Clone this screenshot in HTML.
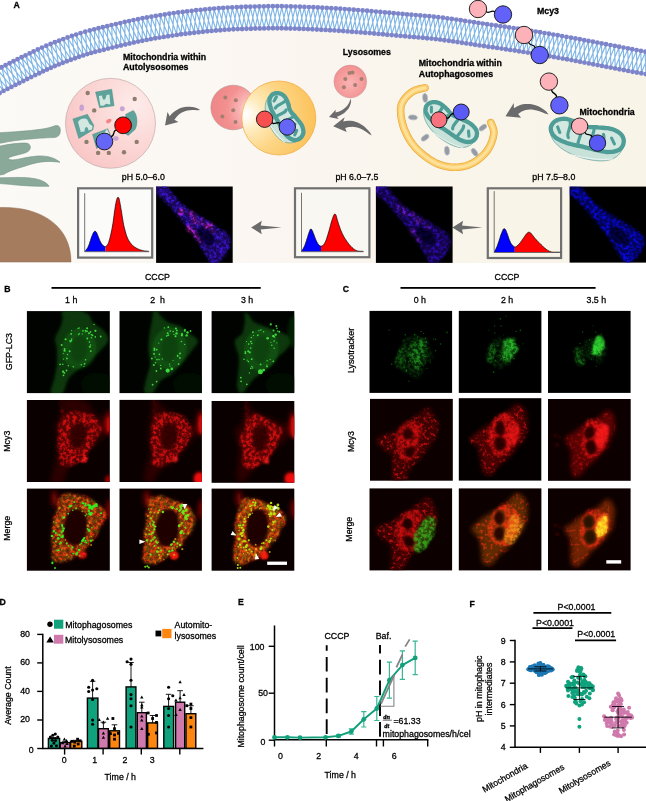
<!DOCTYPE html>
<html lang="en"><head><meta charset="utf-8"><title>Figure</title>
<style>
html,body{margin:0;padding:0;background:#fff;}
body{width:646px;height:801px;overflow:hidden;font-family:"Liberation Sans", Arial, sans-serif;}
svg{display:block;font-family:"Liberation Sans", Arial, sans-serif;}
</style></head><body>
<svg width="646" height="801" viewBox="0 0 646 801">
<defs>
<linearGradient id="cellbg" x1="0" x2="1" y1="0" y2="0"><stop offset="0" stop-color="#fcfaf6"/><stop offset="0.3" stop-color="#fbf8f3"/><stop offset="0.5" stop-color="#fbf5f0"/><stop offset="0.7" stop-color="#f9f5ea"/><stop offset="1" stop-color="#f8f4e8"/></linearGradient>
<radialGradient id="gAL" cx="0.78" cy="0.3" r="0.95"><stop offset="0" stop-color="#fdecea"/><stop offset="0.45" stop-color="#fbd8d6"/><stop offset="1" stop-color="#f8c2c2"/></radialGradient>
<radialGradient id="gLy" cx="0.95" cy="0.55" r="1"><stop offset="0" stop-color="#ffffff"/><stop offset="0.12" stop-color="#fff4f4"/><stop offset="0.3" stop-color="#f9b5b5"/><stop offset="0.6" stop-color="#f39090"/><stop offset="1" stop-color="#ee8585"/></radialGradient>
<radialGradient id="gAP" cx="0.06" cy="0.45" r="1.05"><stop offset="0" stop-color="#ffffff"/><stop offset="0.08" stop-color="#fff8ea"/><stop offset="0.22" stop-color="#feeabb"/><stop offset="0.5" stop-color="#fdd584"/><stop offset="1" stop-color="#fbbd4e"/></radialGradient>
<radialGradient id="gLs" cx="0.5" cy="0.55" r="0.6"><stop offset="0" stop-color="#fbb4b4"/><stop offset="1" stop-color="#f28c8c"/></radialGradient>
<radialGradient id="gSp"><stop offset="0" stop-color="#8a8f96"/><stop offset="0.6" stop-color="#9aa0a8"/><stop offset="1" stop-color="#bcc6d0"/></radialGradient>
<filter id="spk" x="-5%" y="-5%" width="110%" height="110%" color-interpolation-filters="sRGB">
<feGaussianBlur in="SourceGraphic" stdDeviation="1.0" result="b"/>
<feTurbulence type="fractalNoise" baseFrequency="0.3" numOctaves="3" seed="7" result="n"/>
<feColorMatrix in="n" type="matrix" values="0 0 0 0 0  0 0 0 0 0  0 0 0 0 0  3.6 0 0 0 -1.5" result="na"/>
<feGaussianBlur in="na" stdDeviation="0.4" result="nb"/>
<feComposite in="b" in2="nb" operator="in" result="s"/>
<feGaussianBlur in="SourceGraphic" stdDeviation="1.4" result="b2"/>
<feComponentTransfer in="b2" result="dim"><feFuncA type="linear" slope="0.4"/></feComponentTransfer>
<feMerge><feMergeNode in="dim"/><feMergeNode in="s"/></feMerge>
</filter>
<clipPath id="cA1"><rect x="156.1" y="186.5" width="76.6" height="76.4"/></clipPath>
<clipPath id="cA2"><rect x="375.9" y="186.5" width="76.7" height="76.4"/></clipPath>
<clipPath id="cA3"><rect x="569.6" y="186.6" width="76.6" height="76.0"/></clipPath>
<filter id="gr1" x="-40%" y="-40%" width="180%" height="180%" color-interpolation-filters="sRGB">
<feTurbulence type="fractalNoise" baseFrequency="0.09" numOctaves="2" seed="53" result="dn"/>
<feDisplacementMap in="SourceGraphic" in2="dn" scale="6" xChannelSelector="R" yChannelSelector="G" result="w"/>
<feGaussianBlur in="w" stdDeviation="0.9" result="b"/>
<feTurbulence type="fractalNoise" baseFrequency="0.27" numOctaves="3" seed="3" result="n"/>
<feColorMatrix in="n" type="matrix" values="0 0 0 0 0  0 0 0 0 0  0 0 0 0 0  3.4 0 0 0 -1.2" result="na"/>
<feGaussianBlur in="na" stdDeviation="0.45" result="nb"/>
<feComposite in="b" in2="nb" operator="in" result="s"/>
<feGaussianBlur in="w" stdDeviation="1.8" result="b2"/>
<feComponentTransfer in="b2" result="dim"><feFuncA type="linear" slope="0.42"/></feComponentTransfer>
<feMerge><feMergeNode in="dim"/><feMergeNode in="s"/></feMerge>
</filter>
<filter id="gr2" x="-40%" y="-40%" width="180%" height="180%" color-interpolation-filters="sRGB">
<feTurbulence type="fractalNoise" baseFrequency="0.09" numOctaves="2" seed="61" result="dn"/>
<feDisplacementMap in="SourceGraphic" in2="dn" scale="6" xChannelSelector="R" yChannelSelector="G" result="w"/>
<feGaussianBlur in="w" stdDeviation="0.9" result="b"/>
<feTurbulence type="fractalNoise" baseFrequency="0.29" numOctaves="3" seed="11" result="n"/>
<feColorMatrix in="n" type="matrix" values="0 0 0 0 0  0 0 0 0 0  0 0 0 0 0  3.4 0 0 0 -1.2" result="na"/>
<feGaussianBlur in="na" stdDeviation="0.45" result="nb"/>
<feComposite in="b" in2="nb" operator="in" result="s"/>
<feGaussianBlur in="w" stdDeviation="1.8" result="b2"/>
<feComponentTransfer in="b2" result="dim"><feFuncA type="linear" slope="0.42"/></feComponentTransfer>
<feMerge><feMergeNode in="dim"/><feMergeNode in="s"/></feMerge>
</filter>
<filter id="gr3" x="-40%" y="-40%" width="180%" height="180%" color-interpolation-filters="sRGB">
<feTurbulence type="fractalNoise" baseFrequency="0.09" numOctaves="2" seed="73" result="dn"/>
<feDisplacementMap in="SourceGraphic" in2="dn" scale="6" xChannelSelector="R" yChannelSelector="G" result="w"/>
<feGaussianBlur in="w" stdDeviation="0.9" result="b"/>
<feTurbulence type="fractalNoise" baseFrequency="0.28" numOctaves="3" seed="23" result="n"/>
<feColorMatrix in="n" type="matrix" values="0 0 0 0 0  0 0 0 0 0  0 0 0 0 0  3.4 0 0 0 -1.2" result="na"/>
<feGaussianBlur in="na" stdDeviation="0.45" result="nb"/>
<feComposite in="b" in2="nb" operator="in" result="s"/>
<feGaussianBlur in="w" stdDeviation="1.8" result="b2"/>
<feComponentTransfer in="b2" result="dim"><feFuncA type="linear" slope="0.42"/></feComponentTransfer>
<feMerge><feMergeNode in="dim"/><feMergeNode in="s"/></feMerge>
</filter>
<filter id="bl3" x="-20%" y="-20%" width="140%" height="140%"><feGaussianBlur stdDeviation="2.6"/></filter>
<filter id="bl2" x="-20%" y="-20%" width="140%" height="140%"><feGaussianBlur stdDeviation="1.6"/></filter>
<filter id="bl1" x="-20%" y="-20%" width="140%" height="140%"><feGaussianBlur stdDeviation="0.8"/></filter>
<filter id="bl07" x="-20%" y="-20%" width="140%" height="140%"><feGaussianBlur stdDeviation="0.7"/></filter>
<filter id="bl05" x="-20%" y="-20%" width="140%" height="140%"><feGaussianBlur stdDeviation="0.55"/></filter>
<filter id="rg1" x="-40%" y="-40%" width="180%" height="180%" color-interpolation-filters="sRGB">
<feTurbulence type="fractalNoise" baseFrequency="0.09" numOctaves="2" seed="103" result="dn"/>
<feDisplacementMap in="SourceGraphic" in2="dn" scale="6" xChannelSelector="R" yChannelSelector="G" result="w"/>
<feGaussianBlur in="w" stdDeviation="0.8" result="b"/>
<feTurbulence type="fractalNoise" baseFrequency="0.3" numOctaves="3" seed="53" result="n"/>
<feColorMatrix in="n" type="matrix" values="0 0 0 0 0  0 0 0 0 0  0 0 0 0 0  3.8 0 0 0 -1.55" result="na"/>
<feGaussianBlur in="na" stdDeviation="0.45" result="nb"/>
<feComposite in="b" in2="nb" operator="in" result="s"/>
<feGaussianBlur in="w" stdDeviation="1.8" result="b2"/>
<feComponentTransfer in="b2" result="dim"><feFuncA type="linear" slope="0.3"/></feComponentTransfer>
<feMerge><feMergeNode in="dim"/><feMergeNode in="s"/></feMerge>
</filter>
<filter id="rg2" x="-40%" y="-40%" width="180%" height="180%" color-interpolation-filters="sRGB">
<feTurbulence type="fractalNoise" baseFrequency="0.09" numOctaves="2" seed="109" result="dn"/>
<feDisplacementMap in="SourceGraphic" in2="dn" scale="6" xChannelSelector="R" yChannelSelector="G" result="w"/>
<feGaussianBlur in="w" stdDeviation="0.8" result="b"/>
<feTurbulence type="fractalNoise" baseFrequency="0.3" numOctaves="3" seed="59" result="n"/>
<feColorMatrix in="n" type="matrix" values="0 0 0 0 0  0 0 0 0 0  0 0 0 0 0  3.8 0 0 0 -1.55" result="na"/>
<feGaussianBlur in="na" stdDeviation="0.45" result="nb"/>
<feComposite in="b" in2="nb" operator="in" result="s"/>
<feGaussianBlur in="w" stdDeviation="1.8" result="b2"/>
<feComponentTransfer in="b2" result="dim"><feFuncA type="linear" slope="0.3"/></feComponentTransfer>
<feMerge><feMergeNode in="dim"/><feMergeNode in="s"/></feMerge>
</filter>
<filter id="rg3" x="-40%" y="-40%" width="180%" height="180%" color-interpolation-filters="sRGB">
<feTurbulence type="fractalNoise" baseFrequency="0.09" numOctaves="2" seed="117" result="dn"/>
<feDisplacementMap in="SourceGraphic" in2="dn" scale="6" xChannelSelector="R" yChannelSelector="G" result="w"/>
<feGaussianBlur in="w" stdDeviation="0.8" result="b"/>
<feTurbulence type="fractalNoise" baseFrequency="0.3" numOctaves="3" seed="67" result="n"/>
<feColorMatrix in="n" type="matrix" values="0 0 0 0 0  0 0 0 0 0  0 0 0 0 0  3.8 0 0 0 -1.5" result="na"/>
<feGaussianBlur in="na" stdDeviation="0.45" result="nb"/>
<feComposite in="b" in2="nb" operator="in" result="s"/>
<feGaussianBlur in="w" stdDeviation="1.8" result="b2"/>
<feComponentTransfer in="b2" result="dim"><feFuncA type="linear" slope="0.32"/></feComponentTransfer>
<feMerge><feMergeNode in="dim"/><feMergeNode in="s"/></feMerge>
</filter>
<clipPath id="mc1"><rect x="26.9" y="311.1" width="82.9" height="82.0"/></clipPath>
<clipPath id="mc2"><rect x="119.5" y="311.1" width="82.4" height="82.0"/></clipPath>
<clipPath id="mc3"><rect x="211.6" y="311.1" width="82.7" height="82.0"/></clipPath>
<clipPath id="mc4"><rect x="26.9" y="400.0" width="82.9" height="82.0"/></clipPath>
<clipPath id="mc5"><rect x="119.5" y="399.9" width="82.4" height="82.10000000000002"/></clipPath>
<clipPath id="mc6"><rect x="211.6" y="401.0" width="82.7" height="81.80000000000001"/></clipPath>
<clipPath id="mc7"><rect x="26.9" y="488.6" width="82.9" height="82.1"/></clipPath>
<clipPath id="mc8"><rect x="119.5" y="488.6" width="82.4" height="82.1"/></clipPath>
<clipPath id="mc9"><rect x="211.6" y="488.6" width="82.7" height="82.1"/></clipPath>
<filter id="grd1" x="-40%" y="-40%" width="180%" height="180%" color-interpolation-filters="sRGB">
<feTurbulence type="fractalNoise" baseFrequency="0.07" numOctaves="2" seed="55" result="dn"/>
<feDisplacementMap in="SourceGraphic" in2="dn" scale="14" xChannelSelector="R" yChannelSelector="G" result="w"/>
<feGaussianBlur in="w" stdDeviation="0.8" result="b"/>
<feTurbulence type="fractalNoise" baseFrequency="0.3" numOctaves="3" seed="5" result="n"/>
<feColorMatrix in="n" type="matrix" values="0 0 0 0 0  0 0 0 0 0  0 0 0 0 0  3.6 0 0 0 -1.35" result="na"/>
<feGaussianBlur in="na" stdDeviation="0.45" result="nb"/>
<feComposite in="b" in2="nb" operator="in" result="s"/>
<feGaussianBlur in="w" stdDeviation="1.6" result="b2"/>
<feComponentTransfer in="b2" result="dim"><feFuncA type="linear" slope="0.3"/></feComponentTransfer>
<feMerge><feMergeNode in="dim"/><feMergeNode in="s"/></feMerge>
</filter>
<filter id="grd2" x="-40%" y="-40%" width="180%" height="180%" color-interpolation-filters="sRGB">
<feTurbulence type="fractalNoise" baseFrequency="0.07" numOctaves="2" seed="65" result="dn"/>
<feDisplacementMap in="SourceGraphic" in2="dn" scale="14" xChannelSelector="R" yChannelSelector="G" result="w"/>
<feGaussianBlur in="w" stdDeviation="0.8" result="b"/>
<feTurbulence type="fractalNoise" baseFrequency="0.3" numOctaves="3" seed="15" result="n"/>
<feColorMatrix in="n" type="matrix" values="0 0 0 0 0  0 0 0 0 0  0 0 0 0 0  3.6 0 0 0 -1.3" result="na"/>
<feGaussianBlur in="na" stdDeviation="0.45" result="nb"/>
<feComposite in="b" in2="nb" operator="in" result="s"/>
<feGaussianBlur in="w" stdDeviation="1.6" result="b2"/>
<feComponentTransfer in="b2" result="dim"><feFuncA type="linear" slope="0.35"/></feComponentTransfer>
<feMerge><feMergeNode in="dim"/><feMergeNode in="s"/></feMerge>
</filter>
<filter id="grd3" x="-40%" y="-40%" width="180%" height="180%" color-interpolation-filters="sRGB">
<feTurbulence type="fractalNoise" baseFrequency="0.07" numOctaves="2" seed="75" result="dn"/>
<feDisplacementMap in="SourceGraphic" in2="dn" scale="12" xChannelSelector="R" yChannelSelector="G" result="w"/>
<feGaussianBlur in="w" stdDeviation="0.8" result="b"/>
<feTurbulence type="fractalNoise" baseFrequency="0.3" numOctaves="3" seed="25" result="n"/>
<feColorMatrix in="n" type="matrix" values="0 0 0 0 0  0 0 0 0 0  0 0 0 0 0  3.6 0 0 0 -1.25" result="na"/>
<feGaussianBlur in="na" stdDeviation="0.45" result="nb"/>
<feComposite in="b" in2="nb" operator="in" result="s"/>
<feGaussianBlur in="w" stdDeviation="1.6" result="b2"/>
<feComponentTransfer in="b2" result="dim"><feFuncA type="linear" slope="0.4"/></feComponentTransfer>
<feMerge><feMergeNode in="dim"/><feMergeNode in="s"/></feMerge>
</filter>
<clipPath id="mc10"><rect x="369.5" y="310.9" width="82.6" height="82.0"/></clipPath>
<clipPath id="mc11"><rect x="458.8" y="310.9" width="82.6" height="82.0"/></clipPath>
<clipPath id="mc12"><rect x="548.0" y="310.9" width="82.6" height="82.0"/></clipPath>
<filter id="sp1" x="-40%" y="-40%" width="180%" height="180%" color-interpolation-filters="sRGB">
<feTurbulence type="fractalNoise" baseFrequency="0.09" numOctaves="2" seed="81" result="dn"/>
<feDisplacementMap in="SourceGraphic" in2="dn" scale="8" xChannelSelector="R" yChannelSelector="G" result="w"/>
<feGaussianBlur in="w" stdDeviation="0.8" result="b"/>
<feTurbulence type="fractalNoise" baseFrequency="0.3" numOctaves="3" seed="31" result="n"/>
<feColorMatrix in="n" type="matrix" values="0 0 0 0 0  0 0 0 0 0  0 0 0 0 0  4.2 0 0 0 -2.15" result="na"/>
<feGaussianBlur in="na" stdDeviation="0.45" result="nb"/>
<feComposite in="b" in2="nb" operator="in" result="s"/>
<feGaussianBlur in="w" stdDeviation="2.2" result="b2"/>
<feComponentTransfer in="b2" result="dim"><feFuncA type="linear" slope="0.16"/></feComponentTransfer>
<feMerge><feMergeNode in="dim"/><feMergeNode in="s"/></feMerge>
</filter>
<filter id="sp2" x="-40%" y="-40%" width="180%" height="180%" color-interpolation-filters="sRGB">
<feTurbulence type="fractalNoise" baseFrequency="0.09" numOctaves="2" seed="87" result="dn"/>
<feDisplacementMap in="SourceGraphic" in2="dn" scale="8" xChannelSelector="R" yChannelSelector="G" result="w"/>
<feGaussianBlur in="w" stdDeviation="0.8" result="b"/>
<feTurbulence type="fractalNoise" baseFrequency="0.3" numOctaves="3" seed="37" result="n"/>
<feColorMatrix in="n" type="matrix" values="0 0 0 0 0  0 0 0 0 0  0 0 0 0 0  4.2 0 0 0 -2.2" result="na"/>
<feGaussianBlur in="na" stdDeviation="0.45" result="nb"/>
<feComposite in="b" in2="nb" operator="in" result="s"/>
<feGaussianBlur in="w" stdDeviation="2.2" result="b2"/>
<feComponentTransfer in="b2" result="dim"><feFuncA type="linear" slope="0.2"/></feComponentTransfer>
<feMerge><feMergeNode in="dim"/><feMergeNode in="s"/></feMerge>
</filter>
<filter id="sp3" x="-40%" y="-40%" width="180%" height="180%" color-interpolation-filters="sRGB">
<feTurbulence type="fractalNoise" baseFrequency="0.09" numOctaves="2" seed="91" result="dn"/>
<feDisplacementMap in="SourceGraphic" in2="dn" scale="8" xChannelSelector="R" yChannelSelector="G" result="w"/>
<feGaussianBlur in="w" stdDeviation="0.9" result="b"/>
<feTurbulence type="fractalNoise" baseFrequency="0.3" numOctaves="3" seed="41" result="n"/>
<feColorMatrix in="n" type="matrix" values="0 0 0 0 0  0 0 0 0 0  0 0 0 0 0  4.2 0 0 0 -2.3" result="na"/>
<feGaussianBlur in="na" stdDeviation="0.45" result="nb"/>
<feComposite in="b" in2="nb" operator="in" result="s"/>
<feGaussianBlur in="w" stdDeviation="2.4" result="b2"/>
<feComponentTransfer in="b2" result="dim"><feFuncA type="linear" slope="0.3"/></feComponentTransfer>
<feMerge><feMergeNode in="dim"/><feMergeNode in="s"/></feMerge>
</filter>
<clipPath id="mc13"><rect x="370.0" y="398.9" width="82.80000000000001" height="81.80000000000001"/></clipPath>
<clipPath id="mc14"><rect x="458.8" y="398.2" width="82.49999999999994" height="82.40000000000003"/></clipPath>
<clipPath id="mc15"><rect x="548.0" y="399.0" width="82.70000000000005" height="81.80000000000001"/></clipPath>
<clipPath id="mc16"><rect x="369.5" y="488.4" width="82.6" height="82.0"/></clipPath>
<clipPath id="mc17"><rect x="458.8" y="488.4" width="82.6" height="82.0"/></clipPath>
<clipPath id="mc18"><rect x="548.0" y="488.4" width="82.6" height="82.0"/></clipPath>
</defs>
<path d="M-24.9,105.8 L-23.1,104.8 L-21.4,103.9 L-19.6,103.0 L-17.8,102.0 L-16.0,101.1 L-14.3,100.2 L-12.5,99.3 L-10.7,98.3 L-9.0,97.4 L-7.2,96.5 L-5.4,95.6 L-3.7,94.7 L-1.9,93.7 L-0.1,92.8 L1.6,91.9 L3.4,91.0 L5.2,90.1 L6.9,89.2 L8.7,88.3 L10.5,87.4 L12.3,86.5 L14.0,85.6 L15.8,84.7 L17.6,83.8 L19.4,82.9 L21.1,82.0 L22.9,81.2 L24.7,80.3 L26.5,79.4 L28.2,78.5 L30.0,77.7 L31.8,76.8 L33.6,75.9 L35.4,75.0 L37.2,74.2 L39.0,73.3 L40.8,72.4 L42.6,71.6 L44.3,70.7 L46.1,69.9 L47.8,69.1 L49.6,68.3 L51.3,67.5 L53.1,66.8 L54.8,66.0 L56.6,65.3 L58.4,64.6 L60.1,63.8 L62.0,63.1 L63.8,62.4 L65.6,61.7 L67.4,61.0 L69.3,60.4 L71.1,59.7 L72.9,59.0 L74.8,58.4 L76.6,57.7 L78.5,57.0 L80.3,56.4 L82.2,55.8 L84.0,55.2 L85.8,54.6 L87.6,54.0 L89.4,53.4 L91.2,52.9 L92.9,52.4 L94.8,51.9 L96.6,51.5 L98.6,51.0 L100.5,50.5 L102.4,50.0 L104.4,49.5 L106.3,49.1 L108.3,48.6 L110.2,48.1 L112.1,47.6 L114.0,47.2 L116.0,46.7 L117.9,46.2 L119.8,45.8 L121.8,45.3 L123.7,44.9 L125.6,44.4 L127.5,44.0 L129.4,43.5 L131.4,43.1 L133.3,42.7 L135.2,42.2 L137.1,41.8 L139.0,41.4 L140.9,41.0 L142.8,40.7 L144.8,40.3 L146.7,39.9 L148.6,39.5 L150.6,39.2 L152.5,38.8 L154.4,38.5 L156.4,38.1 L158.3,37.8 L160.2,37.5 L162.2,37.1 L164.1,36.8 L166.0,36.5 L168.0,36.2 L169.9,35.9 L171.9,35.6 L173.8,35.4 L175.7,35.1 L177.7,34.8 L179.6,34.5 L181.6,34.3 L183.6,34.0 L185.5,33.8 L187.5,33.5 L189.4,33.3 L191.4,33.0 L193.4,32.8 L195.3,32.6 L197.3,32.4 L199.2,32.1 L201.2,31.9 L203.2,31.7 L205.1,31.5 L207.1,31.3 L209.0,31.1 L211.0,30.9 L212.9,30.8 L214.9,30.6 L216.8,30.4 L218.8,30.3 L220.7,30.1 L222.7,30.0 L224.6,29.8 L226.6,29.7 L228.6,29.6 L230.5,29.5 L232.5,29.4 L234.4,29.3 L236.4,29.2 L238.4,29.1 L240.3,29.0 L242.3,28.9 L244.3,28.9 L246.3,28.8 L248.2,28.7 L250.2,28.7 L252.2,28.6 L254.2,28.6 L256.1,28.5 L258.1,28.5 L260.1,28.5 L262.1,28.4 L264.0,28.4 L266.0,28.4 L268.0,28.3 L270.0,28.3 L271.9,28.3 L273.9,28.3 L275.9,28.3 L277.9,28.3 L279.8,28.3 L281.8,28.3 L283.7,28.4 L285.7,28.4 L287.7,28.4 L289.6,28.5 L291.6,28.5 L293.6,28.6 L295.6,28.6 L297.5,28.7 L299.5,28.7 L301.5,28.8 L303.5,28.9 L305.4,29.0 L307.4,29.0 L309.4,29.1 L311.4,29.2 L313.4,29.3 L315.4,29.4 L317.4,29.5 L319.3,29.6 L321.3,29.7 L323.3,29.8 L325.3,29.9 L327.2,30.0 L329.2,30.1 L331.2,30.2 L333.1,30.4 L335.1,30.5 L337.1,30.6 L339.1,30.8 L341.0,30.9 L343.0,31.0 L345.0,31.2 L347.0,31.3 L349.0,31.5 L351.0,31.6 L352.9,31.8 L354.9,31.9 L356.9,32.1 L358.9,32.2 L360.9,32.4 L362.9,32.6 L364.9,32.7 L366.8,32.9 L368.8,33.1 L370.8,33.2 L372.8,33.4 L374.8,33.6 L376.7,33.7 L378.7,33.9 L380.7,34.1 L382.7,34.3 L384.7,34.5 L386.7,34.6 L388.7,34.8 L390.7,35.0 L392.6,35.2 L394.6,35.4 L396.6,35.5 L398.6,35.7 L400.6,35.9 L402.7,36.1 L404.7,36.2 L406.7,36.4 L408.7,36.6 L410.7,36.7 L412.7,36.9 L414.7,37.1 L416.6,37.2 L418.6,37.4 L420.6,37.6 L422.5,37.7 L424.5,37.9 L426.5,38.1 L428.4,38.3 L430.4,38.5 L432.3,38.7 L434.2,38.9 L436.2,39.1 L438.1,39.4 L440.1,39.6 L442.0,39.9 L443.9,40.1 L445.9,40.4 L447.8,40.7 L449.8,40.9 L451.8,41.2 L453.7,41.5 L455.7,41.8 L457.7,42.1 L459.6,42.4 L461.6,42.6 L463.6,42.9 L465.5,43.2 L467.5,43.5 L469.5,43.8 L471.5,44.1 L473.4,44.4 L475.4,44.7 L477.4,45.0 L479.4,45.3 L481.4,45.6 L483.4,45.9 L485.4,46.2 L487.3,46.5 L489.3,46.8 L491.3,47.1 L493.3,47.4 L495.3,47.7 L497.2,48.0 L499.2,48.2 L501.2,48.5 L503.2,48.8 L505.1,49.1 L507.1,49.4 L509.1,49.7 L511.0,50.0 L513.0,50.3 L515.0,50.6 L516.9,50.9 L518.9,51.2 L520.9,51.5 L522.8,51.8 L524.8,52.1 L526.7,52.4 L528.7,52.7 L530.7,53.1 L532.6,53.4 L534.6,53.7 L536.5,54.0 L538.5,54.4 L540.5,54.7 L542.4,55.0 L544.4,55.4 L546.3,55.7 L548.3,56.0 L550.3,56.4 L552.2,56.7 L554.2,57.1 L556.2,57.4 L558.1,57.7 L560.1,58.1 L562.0,58.4 L564.0,58.8 L565.9,59.1 L567.9,59.5 L569.9,59.9 L571.8,60.2 L573.8,60.6 L575.7,60.9 L577.7,61.3 L579.6,61.7 L581.6,62.1 L583.6,62.4 L585.5,62.8 L587.5,63.2 L589.4,63.5 L591.4,63.9 L593.4,64.3 L595.3,64.7 L597.3,65.0 L599.3,65.4 L601.3,65.8 L603.2,66.2 L605.2,66.5 L607.2,66.9 L609.1,67.3 L611.1,67.6 L613.0,68.0 L615.0,68.4 L617.0,68.7 L618.9,69.1 L620.9,69.5 L622.9,69.9 L624.8,70.2 L626.8,70.6 L628.8,71.0 L630.7,71.3 L632.7,71.7 L634.7,72.1 L636.6,72.4 L638.6,72.8 L640.6,73.2 L642.5,73.5 L644.5,73.9 L646.5,74.3 L648.5,74.6 L645,263 L-5,263 Z" fill="url(#cellbg)"/>
<path d="M-35.1,86.2 L-33.3,85.3 L-31.5,84.4 L-29.8,83.5 L-28.0,82.5 L-26.2,81.6 L-24.5,80.7 L-22.7,79.8 L-20.9,78.8 L-19.1,77.9 L-17.4,77.0 L-15.6,76.1 L-13.8,75.1 L-12.0,74.2 L-10.2,73.3 L-8.4,72.4 L-6.6,71.4 L-4.8,70.5 L-3.0,69.6 L-1.3,68.7 L0.5,67.8 L2.3,66.9 L4.1,66.0 L5.9,65.1 L7.7,64.2 L9.5,63.3 L11.3,62.4 L13.1,61.5 L14.9,60.6 L16.8,59.7 L18.6,58.8 L20.4,57.9 L22.2,57.0 L24.0,56.1 L25.8,55.3 L27.6,54.4 L29.4,53.5 L31.2,52.6 L33.0,51.7 L34.9,50.9 L36.7,50.0 L38.6,49.1 L40.5,48.2 L42.4,47.4 L44.3,46.6 L46.3,45.7 L48.2,44.9 L50.1,44.2 L52.0,43.4 L54.0,42.6 L55.9,41.9 L57.8,41.2 L59.7,40.4 L61.6,39.7 L63.5,39.0 L65.5,38.3 L67.4,37.6 L69.3,37.0 L71.2,36.3 L73.2,35.6 L75.1,34.9 L77.1,34.3 L79.0,33.6 L81.0,33.0 L83.1,32.4 L85.2,31.8 L87.2,31.2 L89.3,30.6 L91.3,30.1 L93.3,29.6 L95.2,29.2 L97.1,28.7 L99.1,28.2 L101.0,27.7 L103.0,27.2 L104.9,26.7 L106.9,26.3 L108.8,25.8 L110.8,25.3 L112.7,24.8 L114.7,24.4 L116.7,23.9 L118.6,23.4 L120.6,23.0 L122.6,22.5 L124.6,22.1 L126.5,21.6 L128.5,21.2 L130.5,20.7 L132.5,20.3 L134.5,19.9 L136.5,19.5 L138.6,19.1 L140.6,18.7 L142.6,18.3 L144.6,17.9 L146.6,17.5 L148.6,17.2 L150.6,16.8 L152.6,16.5 L154.6,16.1 L156.6,15.8 L158.6,15.4 L160.6,15.1 L162.6,14.8 L164.6,14.5 L166.6,14.2 L168.7,13.9 L170.7,13.6 L172.7,13.3 L174.7,13.0 L176.7,12.7 L178.7,12.5 L180.7,12.2 L182.7,12.0 L184.7,11.7 L186.7,11.4 L188.8,11.2 L190.8,11.0 L192.8,10.7 L194.8,10.5 L196.8,10.3 L198.8,10.0 L200.9,9.8 L202.9,9.6 L204.9,9.4 L206.9,9.2 L209.0,9.0 L211.0,8.8 L213.0,8.7 L215.0,8.5 L217.1,8.3 L219.1,8.2 L221.2,8.0 L223.2,7.9 L225.2,7.8 L227.3,7.6 L229.3,7.5 L231.3,7.4 L233.4,7.3 L235.4,7.2 L237.4,7.1 L239.4,7.0 L241.5,7.0 L243.5,6.9 L245.5,6.8 L247.6,6.7 L249.6,6.7 L251.6,6.6 L253.6,6.6 L255.6,6.5 L257.7,6.5 L259.7,6.5 L261.7,6.4 L263.7,6.4 L265.8,6.4 L267.8,6.3 L269.8,6.3 L271.8,6.3 L273.9,6.3 L275.9,6.3 L277.9,6.3 L280.0,6.3 L282.0,6.3 L284.0,6.4 L286.1,6.4 L288.1,6.4 L290.1,6.5 L292.2,6.5 L294.2,6.6 L296.2,6.6 L298.2,6.7 L300.3,6.8 L302.3,6.8 L304.3,6.9 L306.3,7.0 L308.3,7.1 L310.3,7.1 L312.4,7.2 L314.4,7.3 L316.4,7.4 L318.4,7.5 L320.4,7.6 L322.4,7.7 L324.4,7.8 L326.5,7.9 L328.5,8.0 L330.5,8.1 L332.5,8.3 L334.5,8.4 L336.6,8.5 L338.6,8.7 L340.6,8.8 L342.6,8.9 L344.6,9.1 L346.6,9.2 L348.6,9.4 L350.6,9.5 L352.6,9.7 L354.6,9.9 L356.6,10.0 L358.6,10.2 L360.6,10.3 L362.6,10.5 L364.6,10.6 L366.7,10.8 L368.7,11.0 L370.7,11.1 L372.7,11.3 L374.7,11.5 L376.7,11.7 L378.7,11.8 L380.7,12.0 L382.7,12.2 L384.7,12.4 L386.7,12.5 L388.7,12.7 L390.7,12.9 L392.6,13.1 L394.6,13.3 L396.6,13.5 L398.6,13.6 L400.6,13.8 L402.6,14.0 L404.5,14.2 L406.5,14.3 L408.5,14.5 L410.5,14.7 L412.5,14.8 L414.5,15.0 L416.5,15.1 L418.5,15.3 L420.5,15.5 L422.5,15.6 L424.5,15.8 L426.5,16.0 L428.6,16.2 L430.6,16.4 L432.6,16.6 L434.7,16.8 L436.7,17.1 L438.7,17.3 L440.8,17.5 L442.8,17.8 L444.8,18.0 L446.9,18.3 L448.9,18.6 L450.9,18.9 L452.9,19.1 L454.9,19.4 L456.9,19.7 L458.9,20.0 L460.9,20.3 L462.9,20.6 L464.8,20.9 L466.8,21.2 L468.8,21.5 L470.8,21.8 L472.8,22.1 L474.8,22.4 L476.7,22.7 L478.7,23.0 L480.7,23.3 L482.6,23.6 L484.6,23.9 L486.6,24.2 L488.5,24.5 L490.5,24.7 L492.5,25.0 L494.5,25.3 L496.4,25.6 L498.4,25.9 L500.4,26.2 L502.4,26.5 L504.4,26.8 L506.4,27.0 L508.3,27.3 L510.3,27.6 L512.3,27.9 L514.3,28.2 L516.3,28.5 L518.3,28.8 L520.3,29.1 L522.3,29.4 L524.3,29.7 L526.3,30.1 L528.3,30.4 L530.2,30.7 L532.2,31.0 L534.2,31.3 L536.2,31.7 L538.2,32.0 L540.2,32.3 L542.1,32.7 L544.1,33.0 L546.1,33.3 L548.1,33.7 L550.1,34.0 L552.1,34.4 L554.0,34.7 L556.0,35.0 L558.0,35.4 L560.0,35.7 L561.9,36.1 L563.9,36.4 L565.9,36.8 L567.9,37.1 L569.9,37.5 L571.9,37.9 L573.8,38.2 L575.8,38.6 L577.8,39.0 L579.8,39.3 L581.7,39.7 L583.7,40.1 L585.7,40.4 L587.7,40.8 L589.6,41.2 L591.6,41.6 L593.6,41.9 L595.5,42.3 L597.5,42.7 L599.4,43.1 L601.4,43.4 L603.4,43.8 L605.3,44.2 L607.3,44.5 L609.2,44.9 L611.2,45.3 L613.2,45.6 L615.1,46.0 L617.1,46.4 L619.1,46.8 L621.0,47.1 L623.0,47.5 L625.0,47.9 L626.9,48.2 L628.9,48.6 L630.9,49.0 L632.8,49.3 L634.8,49.7 L636.8,50.1 L638.7,50.4 L640.7,50.8 L642.7,51.2 L644.6,51.6 L646.6,51.9 L648.5,52.3 L650.5,52.7 L652.5,53.0 L654.4,53.4 L656.4,53.7 L658.4,54.1 L660.3,54.5 L662.3,54.8 L664.3,55.2 L666.2,55.6 L668.2,55.9 L670.2,56.3 L672.1,56.7 L674.1,57.0 L676.1,57.4 L678.0,57.7 L680.0,58.1 L682.0,58.5 L678.0,80.1 L676.0,79.7 L674.0,79.4 L672.1,79.0 L670.1,78.7 L668.1,78.3 L666.2,77.9 L664.2,77.6 L662.2,77.2 L660.3,76.8 L658.3,76.5 L656.3,76.1 L654.4,75.7 L652.4,75.4 L650.4,75.0 L648.5,74.6 L646.5,74.3 L644.5,73.9 L642.5,73.5 L640.6,73.2 L638.6,72.8 L636.6,72.4 L634.7,72.1 L632.7,71.7 L630.7,71.3 L628.8,71.0 L626.8,70.6 L624.8,70.2 L622.9,69.9 L620.9,69.5 L618.9,69.1 L617.0,68.7 L615.0,68.4 L613.0,68.0 L611.1,67.6 L609.1,67.3 L607.2,66.9 L605.2,66.5 L603.2,66.2 L601.3,65.8 L599.3,65.4 L597.3,65.0 L595.3,64.7 L593.4,64.3 L591.4,63.9 L589.4,63.5 L587.5,63.2 L585.5,62.8 L583.6,62.4 L581.6,62.1 L579.6,61.7 L577.7,61.3 L575.7,60.9 L573.8,60.6 L571.8,60.2 L569.9,59.9 L567.9,59.5 L565.9,59.1 L564.0,58.8 L562.0,58.4 L560.1,58.1 L558.1,57.7 L556.2,57.4 L554.2,57.1 L552.2,56.7 L550.3,56.4 L548.3,56.0 L546.3,55.7 L544.4,55.4 L542.4,55.0 L540.5,54.7 L538.5,54.4 L536.5,54.0 L534.6,53.7 L532.6,53.4 L530.7,53.1 L528.7,52.7 L526.7,52.4 L524.8,52.1 L522.8,51.8 L520.9,51.5 L518.9,51.2 L516.9,50.9 L515.0,50.6 L513.0,50.3 L511.0,50.0 L509.1,49.7 L507.1,49.4 L505.1,49.1 L503.2,48.8 L501.2,48.5 L499.2,48.2 L497.2,48.0 L495.3,47.7 L493.3,47.4 L491.3,47.1 L489.3,46.8 L487.3,46.5 L485.4,46.2 L483.4,45.9 L481.4,45.6 L479.4,45.3 L477.4,45.0 L475.4,44.7 L473.4,44.4 L471.5,44.1 L469.5,43.8 L467.5,43.5 L465.5,43.2 L463.6,42.9 L461.6,42.6 L459.6,42.4 L457.7,42.1 L455.7,41.8 L453.7,41.5 L451.8,41.2 L449.8,40.9 L447.8,40.7 L445.9,40.4 L443.9,40.1 L442.0,39.9 L440.1,39.6 L438.1,39.4 L436.2,39.1 L434.2,38.9 L432.3,38.7 L430.4,38.5 L428.4,38.3 L426.5,38.1 L424.5,37.9 L422.5,37.7 L420.6,37.6 L418.6,37.4 L416.6,37.2 L414.7,37.1 L412.7,36.9 L410.7,36.7 L408.7,36.6 L406.7,36.4 L404.7,36.2 L402.7,36.1 L400.6,35.9 L398.6,35.7 L396.6,35.5 L394.6,35.4 L392.6,35.2 L390.7,35.0 L388.7,34.8 L386.7,34.6 L384.7,34.5 L382.7,34.3 L380.7,34.1 L378.7,33.9 L376.7,33.7 L374.8,33.6 L372.8,33.4 L370.8,33.2 L368.8,33.1 L366.8,32.9 L364.9,32.7 L362.9,32.6 L360.9,32.4 L358.9,32.2 L356.9,32.1 L354.9,31.9 L352.9,31.8 L351.0,31.6 L349.0,31.5 L347.0,31.3 L345.0,31.2 L343.0,31.0 L341.0,30.9 L339.1,30.8 L337.1,30.6 L335.1,30.5 L333.1,30.4 L331.2,30.2 L329.2,30.1 L327.2,30.0 L325.3,29.9 L323.3,29.8 L321.3,29.7 L319.3,29.6 L317.4,29.5 L315.4,29.4 L313.4,29.3 L311.4,29.2 L309.4,29.1 L307.4,29.0 L305.4,29.0 L303.5,28.9 L301.5,28.8 L299.5,28.7 L297.5,28.7 L295.6,28.6 L293.6,28.6 L291.6,28.5 L289.6,28.5 L287.7,28.4 L285.7,28.4 L283.7,28.4 L281.8,28.3 L279.8,28.3 L277.9,28.3 L275.9,28.3 L273.9,28.3 L271.9,28.3 L270.0,28.3 L268.0,28.3 L266.0,28.4 L264.0,28.4 L262.1,28.4 L260.1,28.5 L258.1,28.5 L256.1,28.5 L254.2,28.6 L252.2,28.6 L250.2,28.7 L248.2,28.7 L246.3,28.8 L244.3,28.9 L242.3,28.9 L240.3,29.0 L238.4,29.1 L236.4,29.2 L234.4,29.3 L232.5,29.4 L230.5,29.5 L228.6,29.6 L226.6,29.7 L224.6,29.8 L222.7,30.0 L220.7,30.1 L218.8,30.3 L216.8,30.4 L214.9,30.6 L212.9,30.8 L211.0,30.9 L209.0,31.1 L207.1,31.3 L205.1,31.5 L203.2,31.7 L201.2,31.9 L199.2,32.1 L197.3,32.4 L195.3,32.6 L193.4,32.8 L191.4,33.0 L189.4,33.3 L187.5,33.5 L185.5,33.8 L183.6,34.0 L181.6,34.3 L179.6,34.5 L177.7,34.8 L175.7,35.1 L173.8,35.4 L171.9,35.6 L169.9,35.9 L168.0,36.2 L166.0,36.5 L164.1,36.8 L162.2,37.1 L160.2,37.5 L158.3,37.8 L156.4,38.1 L154.4,38.5 L152.5,38.8 L150.6,39.2 L148.6,39.5 L146.7,39.9 L144.8,40.3 L142.8,40.7 L140.9,41.0 L139.0,41.4 L137.1,41.8 L135.2,42.2 L133.3,42.7 L131.4,43.1 L129.4,43.5 L127.5,44.0 L125.6,44.4 L123.7,44.9 L121.8,45.3 L119.8,45.8 L117.9,46.2 L116.0,46.7 L114.0,47.2 L112.1,47.6 L110.2,48.1 L108.3,48.6 L106.3,49.1 L104.4,49.5 L102.4,50.0 L100.5,50.5 L98.6,51.0 L96.6,51.5 L94.8,51.9 L92.9,52.4 L91.2,52.9 L89.4,53.4 L87.6,54.0 L85.8,54.6 L84.0,55.2 L82.2,55.8 L80.3,56.4 L78.5,57.0 L76.6,57.7 L74.8,58.4 L72.9,59.0 L71.1,59.7 L69.3,60.4 L67.4,61.0 L65.6,61.7 L63.8,62.4 L62.0,63.1 L60.1,63.8 L58.4,64.6 L56.6,65.3 L54.8,66.0 L53.1,66.8 L51.3,67.5 L49.6,68.3 L47.8,69.1 L46.1,69.9 L44.3,70.7 L42.6,71.6 L40.8,72.4 L39.0,73.3 L37.2,74.2 L35.4,75.0 L33.6,75.9 L31.8,76.8 L30.0,77.7 L28.2,78.5 L26.5,79.4 L24.7,80.3 L22.9,81.2 L21.1,82.0 L19.4,82.9 L17.6,83.8 L15.8,84.7 L14.0,85.6 L12.3,86.5 L10.5,87.4 L8.7,88.3 L6.9,89.2 L5.2,90.1 L3.4,91.0 L1.6,91.9 L-0.1,92.8 L-1.9,93.7 L-3.7,94.7 L-5.4,95.6 L-7.2,96.5 L-9.0,97.4 L-10.7,98.3 L-12.5,99.3 L-14.3,100.2 L-16.0,101.1 L-17.8,102.0 L-19.6,103.0 L-21.4,103.9 L-23.1,104.8 L-24.9,105.8 Z" fill="#ffffff"/>
<path d="M-33.7,86.7L-20.5,102.3 M-24.5,104.4L-29.8,84.6 M-29.8,84.6L-16.6,100.3 M-20.5,102.3L-25.9,82.6 M-25.9,82.6L-12.7,98.2 M-16.6,100.3L-21.9,80.5 M-21.9,80.5L-8.7,96.2 M-12.7,98.2L-18.0,78.4 M-18.0,78.4L-4.8,94.1 M-8.7,96.2L-14.0,76.4 M-14.0,76.4L-0.8,92.1 M-4.8,94.1L-10.0,74.3 M-10.0,74.3L3.1,90.1 M-0.8,92.1L-6.0,72.3 M-6.0,72.3L7.0,88.0 M3.1,90.1L-2.1,70.2 M-2.1,70.2L11.0,86.0 M7.0,88.0L1.9,68.2 M1.9,68.2L14.9,84.0 M11.0,86.0L5.9,66.2 M5.9,66.2L18.9,82.1 M14.9,84.0L9.9,64.2 M9.9,64.2L22.8,80.1 M18.9,82.1L13.9,62.2 M13.9,62.2L26.8,78.1 M22.8,80.1L18.0,60.2 M18.0,60.2L30.7,76.2 M26.8,78.1L22.0,58.2 M22.0,58.2L34.8,74.2 M30.7,76.2L26.0,56.3 M26.0,56.3L38.8,72.3 M34.8,74.2L30.0,54.3 M30.0,54.3L42.7,70.4 M38.8,72.3L34.1,52.4 M34.1,52.4L46.6,68.6 M42.7,70.4L38.2,50.4 M38.2,50.4L50.5,66.8 M46.6,68.6L42.4,48.5 M42.4,48.5L54.4,65.1 M50.5,66.8L46.7,46.7 M46.7,46.7L58.4,63.5 M54.4,65.1L50.9,44.9 M50.9,44.9L62.4,61.9 M58.4,63.5L55.2,43.2 M55.2,43.2L66.5,60.3 M62.4,61.9L59.4,41.6 M59.4,41.6L70.6,58.8 M66.5,60.3L63.7,40.0 M63.7,40.0L74.7,57.3 M70.6,58.8L68.0,38.5 M68.0,38.5L78.8,55.9 M74.7,57.3L72.2,37.0 M72.2,37.0L82.9,54.5 M78.8,55.9L76.5,35.5 M76.5,35.5L87.0,53.1 M82.9,54.5L80.9,34.1 M80.9,34.1L90.9,51.9 M87.0,53.1L85.5,32.7 M85.5,32.7L95.0,50.9 M90.9,51.9L90.0,31.5 M90.0,31.5L99.2,49.8 M95.0,50.9L94.4,30.4 M94.4,30.4L103.6,48.7 M99.2,49.8L98.7,29.3 M98.7,29.3L107.9,47.7 M103.6,48.7L103.1,28.2 M103.1,28.2L112.2,46.6 M107.9,47.7L107.4,27.2 M107.4,27.2L116.5,45.5 M112.2,46.6L111.8,26.1 M111.8,26.1L120.7,44.5 M116.5,45.5L116.1,25.1 M116.1,25.1L125.0,43.5 M120.7,44.5L120.5,24.0 M120.5,24.0L129.3,42.5 M125.0,43.5L124.9,23.0 M124.9,23.0L133.6,41.6 M129.3,42.5L129.3,22.0 M129.3,22.0L137.9,40.6 M133.6,41.6L133.7,21.1 M133.7,21.1L142.1,39.8 M137.9,40.6L138.2,20.2 M138.2,20.2L146.4,38.9 M142.1,39.8L142.6,19.3 M142.6,19.3L150.7,38.1 M146.4,38.9L147.1,18.5 M147.1,18.5L155.0,37.4 M150.7,38.1L151.5,17.7 M151.5,17.7L159.3,36.6 M155.0,37.4L156.0,16.9 M156.0,16.9L163.6,35.9 M159.3,36.6L160.5,16.1 M160.5,16.1L168.0,35.2 M163.6,35.9L164.9,15.4 M164.9,15.4L172.3,34.6 M168.0,35.2L169.4,14.8 M169.4,14.8L176.6,33.9 M172.3,34.6L173.9,14.1 M173.9,14.1L181.0,33.4 M176.6,33.9L178.4,13.5 M178.4,13.5L185.3,32.8 M181.0,33.4L182.8,13.0 M182.8,13.0L189.7,32.2 M185.3,32.8L187.3,12.4 M187.3,12.4L194.1,31.7 M189.7,32.2L191.7,11.9 M191.7,11.9L198.4,31.2 M194.1,31.7L196.2,11.3 M196.2,11.3L202.8,30.7 M198.4,31.2L200.7,10.8 M200.7,10.8L207.2,30.3 M202.8,30.7L205.2,10.4 M205.2,10.4L211.5,29.9 M207.2,30.3L209.7,10.0 M209.7,10.0L215.9,29.5 M211.5,29.9L214.2,9.6 M214.2,9.6L220.2,29.2 M215.9,29.5L218.7,9.2 M218.7,9.2L224.6,28.8 M220.2,29.2L223.3,8.9 M223.3,8.9L228.9,28.6 M224.6,28.8L227.8,8.6 M227.8,8.6L233.3,28.3 M228.9,28.6L232.3,8.4 M232.3,8.4L237.7,28.1 M233.3,28.3L236.8,8.2 M236.8,8.2L242.1,28.0 M237.7,28.1L241.3,8.0 M241.3,8.0L246.5,27.8 M242.1,28.0L245.8,7.8 M245.8,7.8L250.9,27.7 M246.5,27.8L250.3,7.7 M250.3,7.7L255.3,27.5 M250.9,27.7L254.8,7.6 M254.8,7.6L259.7,27.5 M255.3,27.5L259.3,7.5 M259.3,7.5L264.1,27.4 M259.7,27.5L263.8,7.4 M263.8,7.4L268.5,27.3 M264.1,27.4L268.3,7.3 M268.3,7.3L272.9,27.3 M268.5,27.3L272.8,7.3 M272.8,7.3L277.3,27.3 M272.9,27.3L277.3,7.3 M277.3,7.3L281.6,27.3 M277.3,27.3L281.8,7.3 M281.8,7.3L286.0,27.4 M281.6,27.3L286.4,7.4 M286.4,7.4L290.4,27.5 M286.0,27.4L290.9,7.5 M290.9,7.5L294.8,27.6 M290.4,27.5L295.4,7.6 M295.4,7.6L299.2,27.7 M294.8,27.6L299.9,7.7 M299.9,7.7L303.6,27.9 M299.2,27.7L304.4,7.9 M304.4,7.9L308.0,28.1 M303.6,27.9L308.8,8.1 M308.8,8.1L312.4,28.3 M308.0,28.1L313.3,8.3 M313.3,8.3L316.9,28.5 M312.4,28.3L317.8,8.5 M317.8,8.5L321.3,28.7 M316.9,28.5L322.3,8.7 M322.3,8.7L325.7,28.9 M321.3,28.7L326.8,8.9 M326.8,8.9L330.0,29.2 M325.7,28.9L331.3,9.2 M331.3,9.2L334.4,29.4 M330.0,29.2L335.7,9.5 M335.7,9.5L338.8,29.7 M334.4,29.4L340.2,9.8 M340.2,9.8L343.2,30.0 M338.8,29.7L344.7,10.1 M344.7,10.1L347.7,30.4 M343.2,30.0L349.2,10.4 M349.2,10.4L352.1,30.7 M347.7,30.4L353.6,10.8 M353.6,10.8L356.5,31.1 M352.1,30.7L358.1,11.1 M358.1,11.1L360.9,31.4 M356.5,31.1L362.5,11.5 M362.5,11.5L365.3,31.8 M360.9,31.4L367.0,11.8 M367.0,11.8L369.7,32.1 M365.3,31.8L371.4,12.2 M371.4,12.2L374.1,32.5 M369.7,32.1L375.9,12.6 M375.9,12.6L378.6,32.9 M374.1,32.5L380.3,13.0 M380.3,13.0L383.0,33.3 M378.6,32.9L384.8,13.4 M384.8,13.4L387.4,33.7 M383.0,33.3L389.2,13.8 M389.2,13.8L391.8,34.1 M387.4,33.7L393.7,14.2 M393.7,14.2L396.3,34.5 M391.8,34.1L398.1,14.6 M398.1,14.6L400.7,34.9 M396.3,34.5L402.5,15.0 M402.5,15.0L405.2,35.3 M400.7,34.9L406.9,15.4 M406.9,15.4L409.7,35.7 M405.2,35.3L411.3,15.7 M411.3,15.7L414.1,36.0 M409.7,35.7L415.7,16.1 M415.7,16.1L418.5,36.4 M414.1,36.0L420.2,16.5 M420.2,16.5L422.9,36.8 M418.5,36.4L424.7,16.8 M424.7,16.8L427.2,37.2 M422.9,36.8L429.2,17.3 M429.2,17.3L431.6,37.6 M427.2,37.2L433.7,17.7 M433.7,17.7L435.9,38.1 M431.6,37.6L438.2,18.2 M438.2,18.2L440.2,38.6 M435.9,38.1L442.7,18.8 M442.7,18.8L444.6,39.2 M440.2,38.6L447.2,19.4 M447.2,19.4L448.9,39.8 M444.6,39.2L451.7,20.0 M451.7,20.0L453.3,40.4 M448.9,39.8L456.1,20.6 M456.1,20.6L457.6,41.1 M453.3,40.4L460.6,21.3 M460.6,21.3L462.0,41.7 M457.6,41.1L465.0,21.9 M465.0,21.9L466.4,42.4 M462.0,41.7L469.4,22.6 M469.4,22.6L470.8,43.0 M466.4,42.4L473.8,23.3 M473.8,23.3L475.2,43.7 M470.8,43.0L478.2,23.9 M478.2,23.9L479.6,44.4 M475.2,43.7L482.6,24.6 M482.6,24.6L484.1,45.0 M479.6,44.4L487.0,25.2 M487.0,25.2L488.5,45.7 M484.1,45.0L491.4,25.9 M491.4,25.9L492.9,46.3 M488.5,45.7L495.8,26.5 M495.8,26.5L497.3,46.9 M492.9,46.3L500.2,27.2 M500.2,27.2L501.7,47.6 M497.3,46.9L504.6,27.8 M504.6,27.8L506.1,48.2 M501.7,47.6L509.0,28.4 M509.0,28.4L510.5,48.9 M506.1,48.2L513.4,29.1 M513.4,29.1L514.8,49.5 M510.5,48.9L517.8,29.8 M517.8,29.8L519.2,50.2 M514.8,49.5L522.3,30.4 M522.3,30.4L523.6,50.9 M519.2,50.2L526.7,31.1 M526.7,31.1L527.9,51.6 M523.6,50.9L531.1,31.9 M531.1,31.9L532.3,52.3 M527.9,51.6L535.5,32.6 M535.5,32.6L536.7,53.0 M532.3,52.3L540.0,33.3 M540.0,33.3L541.0,53.8 M536.7,53.0L544.4,34.1 M544.4,34.1L545.4,54.5 M541.0,53.8L548.8,34.8 M548.8,34.8L549.8,55.3 M545.4,54.5L553.2,35.6 M553.2,35.6L554.1,56.0 M549.8,55.3L557.6,36.3 M557.6,36.3L558.5,56.8 M554.1,56.0L562.0,37.1 M562.0,37.1L562.9,57.6 M558.5,56.8L566.4,37.9 M566.4,37.9L567.2,58.4 M562.9,57.6L570.8,38.7 M570.8,38.7L571.5,59.2 M567.2,58.4L575.2,39.5 M575.2,39.5L575.9,60.0 M571.5,59.2L579.6,40.3 M579.6,40.3L580.3,60.8 M575.9,60.0L584.0,41.1 M584.0,41.1L584.6,61.6 M580.3,60.8L588.4,42.0 M588.4,42.0L589.0,62.4 M584.6,61.6L592.7,42.8 M592.7,42.8L593.4,63.3 M589.0,62.4L597.1,43.6 M597.1,43.6L597.7,64.1 M593.4,63.3L601.5,44.5 M601.5,44.5L602.1,64.9 M597.7,64.1L605.8,45.3 M605.8,45.3L606.5,65.8 M602.1,64.9L610.2,46.1 M610.2,46.1L610.9,66.6 M606.5,65.8L614.6,46.9 M614.6,46.9L615.2,67.4 M610.9,66.6L618.9,47.7 M618.9,47.7L619.6,68.2 M615.2,67.4L623.3,48.6 M623.3,48.6L624.0,69.0 M619.6,68.2L627.7,49.4 M627.7,49.4L628.4,69.9 M624.0,69.0L632.1,50.2 M632.1,50.2L632.7,70.7 M628.4,69.9L636.4,51.0 M636.4,51.0L637.1,71.5 M632.7,70.7L640.8,51.9 M640.8,51.9L641.5,72.3 M637.1,71.5L645.2,52.7 M645.2,52.7L645.9,73.1 M641.5,72.3L649.5,53.5 M649.5,53.5L650.3,74.0 M645.9,73.1L653.9,54.3 M653.9,54.3L654.6,74.8 M650.3,74.0L658.3,55.1 M658.3,55.1L659.0,75.6 M654.6,74.8L662.7,55.9 M662.7,55.9L663.4,76.4 M659.0,75.6L667.0,56.7 M667.0,56.7L667.8,77.2 M663.4,76.4L671.4,57.5 M671.4,57.5L672.1,78.0 M667.8,77.2L675.8,58.4 M675.8,58.4L676.5,78.8 M672.1,78.0L680.2,59.2" fill="none" stroke="#80b6e6" stroke-width="1.15"/>
<g fill="#7d85ca"><circle cx="-34.2" cy="85.8" r="2.45"/><circle cx="-24.0" cy="105.3" r="2.45"/><circle cx="-30.3" cy="83.7" r="2.45"/><circle cx="-20.1" cy="103.2" r="2.45"/><circle cx="-26.3" cy="81.7" r="2.45"/><circle cx="-16.1" cy="101.2" r="2.45"/><circle cx="-22.4" cy="79.6" r="2.45"/><circle cx="-12.2" cy="99.1" r="2.45"/><circle cx="-18.4" cy="77.5" r="2.45"/><circle cx="-8.3" cy="97.1" r="2.45"/><circle cx="-14.5" cy="75.5" r="2.45"/><circle cx="-4.3" cy="95.0" r="2.45"/><circle cx="-10.5" cy="73.4" r="2.45"/><circle cx="-0.4" cy="93.0" r="2.45"/><circle cx="-6.5" cy="71.4" r="2.45"/><circle cx="3.5" cy="90.9" r="2.45"/><circle cx="-2.5" cy="69.3" r="2.45"/><circle cx="7.5" cy="88.9" r="2.45"/><circle cx="1.5" cy="67.3" r="2.45"/><circle cx="11.4" cy="86.9" r="2.45"/><circle cx="5.5" cy="65.3" r="2.45"/><circle cx="15.4" cy="84.9" r="2.45"/><circle cx="9.5" cy="63.3" r="2.45"/><circle cx="19.3" cy="83.0" r="2.45"/><circle cx="13.5" cy="61.3" r="2.45"/><circle cx="23.3" cy="81.0" r="2.45"/><circle cx="17.5" cy="59.3" r="2.45"/><circle cx="27.2" cy="79.0" r="2.45"/><circle cx="21.6" cy="57.3" r="2.45"/><circle cx="31.2" cy="77.1" r="2.45"/><circle cx="25.5" cy="55.4" r="2.45"/><circle cx="35.2" cy="75.1" r="2.45"/><circle cx="29.6" cy="53.4" r="2.45"/><circle cx="39.2" cy="73.2" r="2.45"/><circle cx="33.6" cy="51.5" r="2.45"/><circle cx="43.1" cy="71.3" r="2.45"/><circle cx="37.8" cy="49.5" r="2.45"/><circle cx="47.0" cy="69.5" r="2.45"/><circle cx="42.0" cy="47.6" r="2.45"/><circle cx="50.9" cy="67.7" r="2.45"/><circle cx="46.3" cy="45.7" r="2.45"/><circle cx="54.8" cy="66.0" r="2.45"/><circle cx="50.6" cy="44.0" r="2.45"/><circle cx="58.8" cy="64.4" r="2.45"/><circle cx="54.8" cy="42.3" r="2.45"/><circle cx="62.8" cy="62.8" r="2.45"/><circle cx="59.1" cy="40.7" r="2.45"/><circle cx="66.8" cy="61.3" r="2.45"/><circle cx="63.3" cy="39.1" r="2.45"/><circle cx="70.9" cy="59.8" r="2.45"/><circle cx="67.6" cy="37.5" r="2.45"/><circle cx="75.0" cy="58.3" r="2.45"/><circle cx="71.9" cy="36.0" r="2.45"/><circle cx="79.1" cy="56.8" r="2.45"/><circle cx="76.2" cy="34.6" r="2.45"/><circle cx="83.2" cy="55.4" r="2.45"/><circle cx="80.6" cy="33.1" r="2.45"/><circle cx="87.3" cy="54.1" r="2.45"/><circle cx="85.2" cy="31.7" r="2.45"/><circle cx="91.2" cy="52.9" r="2.45"/><circle cx="89.8" cy="30.5" r="2.45"/><circle cx="95.2" cy="51.8" r="2.45"/><circle cx="94.2" cy="29.4" r="2.45"/><circle cx="99.5" cy="50.8" r="2.45"/><circle cx="98.5" cy="28.3" r="2.45"/><circle cx="103.8" cy="49.7" r="2.45"/><circle cx="102.8" cy="27.3" r="2.45"/><circle cx="108.1" cy="48.6" r="2.45"/><circle cx="107.2" cy="26.2" r="2.45"/><circle cx="112.4" cy="47.6" r="2.45"/><circle cx="111.5" cy="25.1" r="2.45"/><circle cx="116.7" cy="46.5" r="2.45"/><circle cx="115.9" cy="24.1" r="2.45"/><circle cx="121.0" cy="45.5" r="2.45"/><circle cx="120.3" cy="23.1" r="2.45"/><circle cx="125.3" cy="44.5" r="2.45"/><circle cx="124.7" cy="22.0" r="2.45"/><circle cx="129.5" cy="43.5" r="2.45"/><circle cx="129.1" cy="21.1" r="2.45"/><circle cx="133.8" cy="42.5" r="2.45"/><circle cx="133.5" cy="20.1" r="2.45"/><circle cx="138.1" cy="41.6" r="2.45"/><circle cx="138.0" cy="19.2" r="2.45"/><circle cx="142.3" cy="40.8" r="2.45"/><circle cx="142.5" cy="18.3" r="2.45"/><circle cx="146.6" cy="39.9" r="2.45"/><circle cx="146.9" cy="17.5" r="2.45"/><circle cx="150.9" cy="39.1" r="2.45"/><circle cx="151.4" cy="16.7" r="2.45"/><circle cx="155.2" cy="38.3" r="2.45"/><circle cx="155.8" cy="15.9" r="2.45"/><circle cx="159.5" cy="37.6" r="2.45"/><circle cx="160.3" cy="15.2" r="2.45"/><circle cx="163.8" cy="36.9" r="2.45"/><circle cx="164.8" cy="14.5" r="2.45"/><circle cx="168.1" cy="36.2" r="2.45"/><circle cx="169.3" cy="13.8" r="2.45"/><circle cx="172.4" cy="35.6" r="2.45"/><circle cx="173.7" cy="13.1" r="2.45"/><circle cx="176.8" cy="34.9" r="2.45"/><circle cx="178.2" cy="12.5" r="2.45"/><circle cx="181.1" cy="34.3" r="2.45"/><circle cx="182.7" cy="12.0" r="2.45"/><circle cx="185.5" cy="33.8" r="2.45"/><circle cx="187.1" cy="11.4" r="2.45"/><circle cx="189.8" cy="33.2" r="2.45"/><circle cx="191.6" cy="10.9" r="2.45"/><circle cx="194.2" cy="32.7" r="2.45"/><circle cx="196.1" cy="10.3" r="2.45"/><circle cx="198.6" cy="32.2" r="2.45"/><circle cx="200.6" cy="9.9" r="2.45"/><circle cx="202.9" cy="31.7" r="2.45"/><circle cx="205.1" cy="9.4" r="2.45"/><circle cx="207.3" cy="31.3" r="2.45"/><circle cx="209.6" cy="9.0" r="2.45"/><circle cx="211.6" cy="30.9" r="2.45"/><circle cx="214.1" cy="8.6" r="2.45"/><circle cx="216.0" cy="30.5" r="2.45"/><circle cx="218.7" cy="8.2" r="2.45"/><circle cx="220.3" cy="30.2" r="2.45"/><circle cx="223.2" cy="7.9" r="2.45"/><circle cx="224.6" cy="29.8" r="2.45"/><circle cx="227.7" cy="7.6" r="2.45"/><circle cx="229.0" cy="29.6" r="2.45"/><circle cx="232.2" cy="7.4" r="2.45"/><circle cx="233.4" cy="29.3" r="2.45"/><circle cx="236.8" cy="7.2" r="2.45"/><circle cx="237.7" cy="29.1" r="2.45"/><circle cx="241.3" cy="7.0" r="2.45"/><circle cx="242.1" cy="29.0" r="2.45"/><circle cx="245.8" cy="6.8" r="2.45"/><circle cx="246.5" cy="28.8" r="2.45"/><circle cx="250.3" cy="6.7" r="2.45"/><circle cx="250.9" cy="28.7" r="2.45"/><circle cx="254.8" cy="6.6" r="2.45"/><circle cx="255.3" cy="28.5" r="2.45"/><circle cx="259.3" cy="6.5" r="2.45"/><circle cx="259.7" cy="28.5" r="2.45"/><circle cx="263.8" cy="6.4" r="2.45"/><circle cx="264.1" cy="28.4" r="2.45"/><circle cx="268.3" cy="6.3" r="2.45"/><circle cx="268.5" cy="28.3" r="2.45"/><circle cx="272.8" cy="6.3" r="2.45"/><circle cx="272.9" cy="28.3" r="2.45"/><circle cx="277.3" cy="6.3" r="2.45"/><circle cx="277.3" cy="28.3" r="2.45"/><circle cx="281.8" cy="6.3" r="2.45"/><circle cx="281.6" cy="28.3" r="2.45"/><circle cx="286.4" cy="6.4" r="2.45"/><circle cx="286.0" cy="28.4" r="2.45"/><circle cx="290.9" cy="6.5" r="2.45"/><circle cx="290.4" cy="28.5" r="2.45"/><circle cx="295.4" cy="6.6" r="2.45"/><circle cx="294.8" cy="28.6" r="2.45"/><circle cx="299.9" cy="6.7" r="2.45"/><circle cx="299.2" cy="28.7" r="2.45"/><circle cx="304.4" cy="6.9" r="2.45"/><circle cx="303.6" cy="28.9" r="2.45"/><circle cx="308.9" cy="7.1" r="2.45"/><circle cx="308.0" cy="29.1" r="2.45"/><circle cx="313.4" cy="7.3" r="2.45"/><circle cx="312.4" cy="29.3" r="2.45"/><circle cx="317.8" cy="7.5" r="2.45"/><circle cx="316.8" cy="29.5" r="2.45"/><circle cx="322.3" cy="7.7" r="2.45"/><circle cx="321.2" cy="29.7" r="2.45"/><circle cx="326.8" cy="7.9" r="2.45"/><circle cx="325.6" cy="29.9" r="2.45"/><circle cx="331.3" cy="8.2" r="2.45"/><circle cx="330.0" cy="30.2" r="2.45"/><circle cx="335.8" cy="8.5" r="2.45"/><circle cx="334.4" cy="30.4" r="2.45"/><circle cx="340.3" cy="8.8" r="2.45"/><circle cx="338.8" cy="30.7" r="2.45"/><circle cx="344.8" cy="9.1" r="2.45"/><circle cx="343.2" cy="31.0" r="2.45"/><circle cx="349.2" cy="9.4" r="2.45"/><circle cx="347.6" cy="31.4" r="2.45"/><circle cx="353.7" cy="9.8" r="2.45"/><circle cx="352.0" cy="31.7" r="2.45"/><circle cx="358.1" cy="10.1" r="2.45"/><circle cx="356.4" cy="32.1" r="2.45"/><circle cx="362.6" cy="10.5" r="2.45"/><circle cx="360.8" cy="32.4" r="2.45"/><circle cx="367.1" cy="10.8" r="2.45"/><circle cx="365.2" cy="32.8" r="2.45"/><circle cx="371.5" cy="11.2" r="2.45"/><circle cx="369.7" cy="33.1" r="2.45"/><circle cx="376.0" cy="11.6" r="2.45"/><circle cx="374.1" cy="33.5" r="2.45"/><circle cx="380.4" cy="12.0" r="2.45"/><circle cx="378.5" cy="33.9" r="2.45"/><circle cx="384.9" cy="12.4" r="2.45"/><circle cx="382.9" cy="34.3" r="2.45"/><circle cx="389.3" cy="12.8" r="2.45"/><circle cx="387.3" cy="34.7" r="2.45"/><circle cx="393.7" cy="13.2" r="2.45"/><circle cx="391.7" cy="35.1" r="2.45"/><circle cx="398.2" cy="13.6" r="2.45"/><circle cx="396.2" cy="35.5" r="2.45"/><circle cx="402.6" cy="14.0" r="2.45"/><circle cx="400.6" cy="35.9" r="2.45"/><circle cx="407.0" cy="14.4" r="2.45"/><circle cx="405.1" cy="36.3" r="2.45"/><circle cx="411.4" cy="14.7" r="2.45"/><circle cx="409.6" cy="36.7" r="2.45"/><circle cx="415.8" cy="15.1" r="2.45"/><circle cx="414.0" cy="37.0" r="2.45"/><circle cx="420.3" cy="15.5" r="2.45"/><circle cx="418.4" cy="37.4" r="2.45"/><circle cx="424.8" cy="15.9" r="2.45"/><circle cx="422.8" cy="37.8" r="2.45"/><circle cx="429.3" cy="16.3" r="2.45"/><circle cx="427.1" cy="38.2" r="2.45"/><circle cx="433.8" cy="16.7" r="2.45"/><circle cx="431.5" cy="38.6" r="2.45"/><circle cx="438.3" cy="17.2" r="2.45"/><circle cx="435.8" cy="39.1" r="2.45"/><circle cx="442.9" cy="17.8" r="2.45"/><circle cx="440.1" cy="39.6" r="2.45"/><circle cx="447.4" cy="18.4" r="2.45"/><circle cx="444.4" cy="40.2" r="2.45"/><circle cx="451.8" cy="19.0" r="2.45"/><circle cx="448.8" cy="40.8" r="2.45"/><circle cx="456.3" cy="19.6" r="2.45"/><circle cx="453.1" cy="41.4" r="2.45"/><circle cx="460.7" cy="20.3" r="2.45"/><circle cx="457.5" cy="42.0" r="2.45"/><circle cx="465.1" cy="20.9" r="2.45"/><circle cx="461.9" cy="42.7" r="2.45"/><circle cx="469.6" cy="21.6" r="2.45"/><circle cx="466.3" cy="43.4" r="2.45"/><circle cx="474.0" cy="22.3" r="2.45"/><circle cx="470.7" cy="44.0" r="2.45"/><circle cx="478.4" cy="22.9" r="2.45"/><circle cx="475.1" cy="44.7" r="2.45"/><circle cx="482.7" cy="23.6" r="2.45"/><circle cx="479.5" cy="45.4" r="2.45"/><circle cx="487.1" cy="24.2" r="2.45"/><circle cx="483.9" cy="46.0" r="2.45"/><circle cx="491.5" cy="24.9" r="2.45"/><circle cx="488.3" cy="46.7" r="2.45"/><circle cx="495.9" cy="25.5" r="2.45"/><circle cx="492.7" cy="47.3" r="2.45"/><circle cx="500.3" cy="26.2" r="2.45"/><circle cx="497.1" cy="47.9" r="2.45"/><circle cx="504.7" cy="26.8" r="2.45"/><circle cx="501.5" cy="48.6" r="2.45"/><circle cx="509.1" cy="27.5" r="2.45"/><circle cx="505.9" cy="49.2" r="2.45"/><circle cx="513.6" cy="28.1" r="2.45"/><circle cx="510.3" cy="49.9" r="2.45"/><circle cx="518.0" cy="28.8" r="2.45"/><circle cx="514.7" cy="50.5" r="2.45"/><circle cx="522.4" cy="29.5" r="2.45"/><circle cx="519.0" cy="51.2" r="2.45"/><circle cx="526.9" cy="30.2" r="2.45"/><circle cx="523.4" cy="51.9" r="2.45"/><circle cx="531.3" cy="30.9" r="2.45"/><circle cx="527.8" cy="52.6" r="2.45"/><circle cx="535.7" cy="31.6" r="2.45"/><circle cx="532.1" cy="53.3" r="2.45"/><circle cx="540.1" cy="32.3" r="2.45"/><circle cx="536.5" cy="54.0" r="2.45"/><circle cx="544.5" cy="33.1" r="2.45"/><circle cx="540.9" cy="54.8" r="2.45"/><circle cx="548.9" cy="33.8" r="2.45"/><circle cx="545.2" cy="55.5" r="2.45"/><circle cx="553.3" cy="34.6" r="2.45"/><circle cx="549.6" cy="56.3" r="2.45"/><circle cx="557.7" cy="35.3" r="2.45"/><circle cx="553.9" cy="57.0" r="2.45"/><circle cx="562.1" cy="36.1" r="2.45"/><circle cx="558.3" cy="57.8" r="2.45"/><circle cx="566.5" cy="36.9" r="2.45"/><circle cx="562.7" cy="58.6" r="2.45"/><circle cx="571.0" cy="37.7" r="2.45"/><circle cx="567.0" cy="59.3" r="2.45"/><circle cx="575.4" cy="38.5" r="2.45"/><circle cx="571.4" cy="60.1" r="2.45"/><circle cx="579.8" cy="39.3" r="2.45"/><circle cx="575.7" cy="60.9" r="2.45"/><circle cx="584.2" cy="40.2" r="2.45"/><circle cx="580.1" cy="61.8" r="2.45"/><circle cx="588.5" cy="41.0" r="2.45"/><circle cx="584.4" cy="62.6" r="2.45"/><circle cx="592.9" cy="41.8" r="2.45"/><circle cx="588.8" cy="63.4" r="2.45"/><circle cx="597.3" cy="42.6" r="2.45"/><circle cx="593.2" cy="64.3" r="2.45"/><circle cx="601.6" cy="43.5" r="2.45"/><circle cx="597.6" cy="65.1" r="2.45"/><circle cx="606.0" cy="44.3" r="2.45"/><circle cx="601.9" cy="65.9" r="2.45"/><circle cx="610.4" cy="45.1" r="2.45"/><circle cx="606.3" cy="66.7" r="2.45"/><circle cx="614.8" cy="45.9" r="2.45"/><circle cx="610.7" cy="67.6" r="2.45"/><circle cx="619.1" cy="46.8" r="2.45"/><circle cx="615.1" cy="68.4" r="2.45"/><circle cx="623.5" cy="47.6" r="2.45"/><circle cx="619.4" cy="69.2" r="2.45"/><circle cx="627.9" cy="48.4" r="2.45"/><circle cx="623.8" cy="70.0" r="2.45"/><circle cx="632.2" cy="49.2" r="2.45"/><circle cx="628.2" cy="70.9" r="2.45"/><circle cx="636.6" cy="50.1" r="2.45"/><circle cx="632.6" cy="71.7" r="2.45"/><circle cx="641.0" cy="50.9" r="2.45"/><circle cx="636.9" cy="72.5" r="2.45"/><circle cx="645.4" cy="51.7" r="2.45"/><circle cx="641.3" cy="73.3" r="2.45"/><circle cx="649.7" cy="52.5" r="2.45"/><circle cx="645.7" cy="74.1" r="2.45"/><circle cx="654.1" cy="53.3" r="2.45"/><circle cx="650.1" cy="74.9" r="2.45"/><circle cx="658.5" cy="54.1" r="2.45"/><circle cx="654.5" cy="75.8" r="2.45"/><circle cx="662.8" cy="54.9" r="2.45"/><circle cx="658.8" cy="76.6" r="2.45"/><circle cx="667.2" cy="55.7" r="2.45"/><circle cx="663.2" cy="77.4" r="2.45"/><circle cx="671.6" cy="56.6" r="2.45"/><circle cx="667.6" cy="78.2" r="2.45"/><circle cx="676.0" cy="57.4" r="2.45"/><circle cx="672.0" cy="79.0" r="2.45"/></g>
<text x="13.6" y="7.8" font-size="8.7" font-weight="bold" fill="#000" stroke="#000" stroke-width="0.28">A</text>
<path d="M-2,132.8 C20,131.5 44,130 53,126.5 C57,124.6 60.2,125.6 60.3,130 C60.4,135.5 58,137.6 52,137.6 C38,138 14,140.2 4,142.6 L-2,143.4 Z M-2,146.6 C8,144 22,142.5 27,143.2 C31,144 31.5,149 28,151.5 C22,155 12,155 8,158.5 C12,162.5 22,157 38,156 C48,155.4 56,158.5 60,162.3 C50,160.8 40,161.3 30,164.5 C20,167.8 9,170.5 4,174.3 L-2,175.4 Z M-2,177.9 C14,177.4 30,176.5 40,180 C45,181.8 48.5,184.5 49,186.3 C40,186.5 26,186 14,184.8 C8,184.2 3,183.8 -2,183.4 Z" fill="#8ba999" stroke="#71928a" stroke-width="0.6"/>
<path d="M-2,207.6 C35,205.5 71,222 71,262 L-2,262 Z" fill="#a67c5e" stroke="#8b6a50" stroke-width="0.5"/>
<circle cx="110.5" cy="123.3" r="45" fill="url(#gAL)" stroke="#b9a3a3" stroke-width="0.6"/>
<circle cx="87.7" cy="93" r="2.2" fill="#8e7d6d"/>
<circle cx="134.7" cy="99" r="2.2" fill="#8e7d6d"/>
<circle cx="94.2" cy="110.4" r="2.2" fill="#8e7d6d"/>
<circle cx="86.5" cy="141.9" r="2.2" fill="#8e7d6d"/>
<circle cx="136.7" cy="141.9" r="2.2" fill="#8e7d6d"/>
<circle cx="98.1" cy="152.9" r="2.2" fill="#8e7d6d"/>
<circle cx="108.8" cy="152.9" r="2.2" fill="#8e7d6d"/>
<circle cx="124" cy="152.2" r="2.2" fill="#8e7d6d"/>
<ellipse cx="81.7" cy="107.8" rx="2" ry="3" fill="#c9a3d6" stroke="#b48cc4" stroke-width="0.4"/>
<ellipse cx="122.3" cy="108.8" rx="2.2" ry="2.2" fill="#c9a3d6" stroke="#b48cc4" stroke-width="0.4"/>
<ellipse cx="115.8" cy="138.4" rx="2.6" ry="2" fill="#c9a3d6" stroke="#b48cc4" stroke-width="0.4"/>
<ellipse cx="108.8" cy="121" rx="3" ry="1.9" fill="#f28585" transform="rotate(-30 108.8 121)"/>
<path d="M95.5,92.1 L111.7,89.2 L114.1,105.8 L99.6,107.8 Z" fill="#5ea39b" stroke="#3f857e" stroke-width="0.4"/>
<path d="M98.8,96 L102,95.5 C102.5,101 105.5,101.5 106.5,95 L109.5,94.5 L110.3,104.5 L106,103.8 L103.5,105.8 L100.3,105.5 Z" fill="#d2e8e1"/>
<path d="M72.9,118.9 L87.4,114.3 L93.8,125.3 L92.8,129.9 L78.8,138.4 Z" fill="#5ea39b" stroke="#3f857e" stroke-width="0.4"/>
<path d="M78,122 C80,118.5 85,117.8 87.2,119.5 L89.5,124 L92.6,126 L92,129.5 L88.5,130.5 C88,126 84.8,125 84.5,131.5 L80.8,132 Z" fill="#d2e8e1"/>
<path d="M125.7,114.3 L133.3,110.4 C137,114 138.5,123 135,129.6 L128.2,135.6 L125.7,133.9 Z" fill="#5ea39b" stroke="#3f857e" stroke-width="0.4"/>
<path d="M92.5,134.4 L107.8,128.7 L110.3,134.7 L96.7,148.7 Z" fill="#5ea39b" stroke="#3f857e" stroke-width="0.4"/>
<path d="M100,133 L104.5,132.5 L107,128.9 L109.5,134 L103,138 Z" fill="#d2e8e1"/>
<path d="M117.4,130.3 C112.0,128.9 115.5,137.8 110.1,136.5" fill="none" stroke="#000" stroke-width="1.3"/>
<circle cx="123.1" cy="125.3" r="8.4" fill="#ff0000" stroke="#111" stroke-width="0.9"/>
<circle cx="104.4" cy="141.5" r="8.4" fill="#6666f6" stroke="#111" stroke-width="0.9"/>
<circle cx="233.2" cy="107.5" r="22.3" fill="url(#gLy)" stroke="#b58f8f" stroke-width="0.6"/>
<circle cx="225.3" cy="97.6" r="2" fill="#a27f70"/>
<circle cx="235.8" cy="100.3" r="2" fill="#a27f70"/>
<circle cx="233.2" cy="110.3" r="2" fill="#a27f70"/>
<circle cx="222.4" cy="116.6" r="2" fill="#a27f70"/>
<circle cx="235.5" cy="122.1" r="2" fill="#a27f70"/>
<circle cx="278.8" cy="118" r="37" fill="url(#gAP)" stroke="#f0a83c" stroke-width="0.7"/>
<g transform="translate(286.0 116.6) rotate(57.8)"><path d="M-27.2,-2.4 C-27.7,11.8 -11.2,19.1 5.6,18.9 C21.0,18.6 27.4,11.8 27.2,-2.4 Z" fill="#c8e2da" stroke="#5d9c96" stroke-width="0.6"/><path d="M-8.4,17.7 Q8.4,19.1 21.0,14.8" fill="none" stroke="#eef8f4" stroke-width="0.9" stroke-linecap="round"/><path d="M-25.9,0.0 L-25.9,-1.0 L-25.8,-2.1 L-25.6,-3.1 L-25.2,-4.2 L-24.6,-5.1 L-24.0,-6.0 L-23.3,-6.8 L-22.4,-7.5 L-21.4,-8.1 L-20.4,-8.7 L-19.2,-9.1 L-18.1,-9.5 L-16.9,-9.6 L-15.6,-9.6 L-14.3,-9.5 L-13.0,-9.3 L-11.7,-9.1 L-10.3,-8.9 L-9.1,-8.6 L-7.8,-8.2 L-6.5,-7.7 L-5.3,-7.3 L-4.0,-6.9 L-2.6,-6.8 L-1.2,-6.8 L0.3,-6.9 L1.8,-7.2 L3.4,-7.4 L4.9,-7.7 L6.5,-7.9 L8.1,-8.1 L9.7,-8.3 L11.4,-8.6 L13.0,-8.7 L14.6,-8.8 L16.0,-8.7 L17.4,-8.4 L18.8,-8.1 L20.1,-7.6 L21.3,-7.1 L22.4,-6.5 L23.3,-5.8 L24.0,-5.0 L24.6,-4.1 L25.1,-3.1 L25.5,-2.1 L25.7,-1.0 L25.9,0.0 L25.8,1.0 L25.7,2.1 L25.4,3.1 L25.0,4.2 L24.5,5.1 L23.8,6.0 L22.9,6.7 L21.9,7.4 L20.7,8.1 L19.5,8.6 L18.1,9.1 L16.8,9.5 L15.4,9.7 L14.0,9.8 L12.5,9.8 L10.9,9.8 L9.4,9.7 L7.8,9.7 L6.1,9.6 L4.4,9.5 L2.7,9.5 L0.9,9.4 L-0.8,9.3 L-2.6,9.2 L-4.3,9.1 L-6.1,9.1 L-7.8,9.1 L-9.6,9.0 L-11.3,8.9 L-12.9,8.7 L-14.6,8.4 L-16.2,8.0 L-17.9,7.6 L-19.4,7.1 L-20.8,6.5 L-22.0,5.8 L-23.0,5.0 L-23.9,4.1 L-24.6,3.1 L-25.2,2.1 L-25.6,1.0Z" fill="#d3e8e1" stroke="#4f9d97" stroke-width="4.3" stroke-linejoin="round"/><path d="M-14.0,-9.4 C-11.8,-3.5 -15.4,1.2 -12.9,4.5 M-5.0,10.0 C-6.7,3.5 -2.8,0.0 -5.6,-3.8 M3.4,-8.3 C5.6,-3.5 1.7,0.6 4.5,4.7 M11.8,10.0 C10.1,4.7 14.0,1.2 11.2,-3.5 M17.4,-1.8 L20.2,2.4 M-21.8,-2.4 L-19.6,1.8" fill="none" stroke="#4f9d97" stroke-width="3.1" stroke-linecap="round"/></g>
<path d="M271.6,121.6 C273.0,126.8 278.8,119.3 280.3,124.6" fill="none" stroke="#000" stroke-width="1.3"/>
<circle cx="264.6" cy="119.2" r="8.2" fill="#f85050" stroke="#111" stroke-width="0.9"/>
<circle cx="287.3" cy="127" r="8.2" fill="#6666f6" stroke="#111" stroke-width="0.9"/>
<circle cx="350.3" cy="81.5" r="16.4" fill="url(#gLs)" stroke="#c9a0a0" stroke-width="0.6"/>
<circle cx="349.5" cy="73.1" r="2" fill="#a27f70"/>
<circle cx="345.3" cy="78.9" r="2" fill="#a27f70"/>
<circle cx="352.5" cy="72.6" r="2" fill="#a27f70"/>
<circle cx="361.5" cy="78.9" r="2" fill="#a27f70"/>
<circle cx="355.1" cy="85.1" r="2" fill="#a27f70"/>
<circle cx="343.9" cy="87.3" r="2" fill="#a27f70"/>
<path d="M425.0,87.8 L424.4,88.0 L423.7,88.1 L422.8,88.3 L421.8,88.5 L420.7,88.7 L419.6,89.0 L418.4,89.3 L417.2,89.6 L416.0,90.0 L414.9,90.4 L413.9,90.9 L412.9,91.4 L412.0,92.0 L411.0,92.6 L410.1,93.4 L409.2,94.1 L408.3,94.9 L407.4,95.8 L406.5,96.6 L405.7,97.5 L405.0,98.4 L404.3,99.3 L403.7,100.2 L403.1,101.1 L402.6,102.0 L402.2,102.8 L401.8,103.7 L401.5,104.5 L401.2,105.4 L401.0,106.3 L400.9,107.2 L400.7,108.2 L400.7,109.2 L400.6,110.2 L400.6,111.3 L400.7,112.5 L400.8,113.8 L400.9,115.1 L401.1,116.5 L401.3,118.0 L401.6,119.5 L401.9,121.0 L402.3,122.6 L402.7,124.2 L403.1,125.8 L403.6,127.3 L404.2,128.9 L404.8,130.4 L405.5,131.9 L406.2,133.4 L406.9,135.0 L407.7,136.5 L408.6,138.0 L409.5,139.6 L410.4,141.1 L411.5,142.6 L412.5,144.1 L413.7,145.5 L414.8,146.9 L416.1,148.3 L417.4,149.7 L418.9,151.0 L420.4,152.4 L422.0,153.8 L423.6,155.1 L425.3,156.4 L427.1,157.7 L428.8,158.9 L430.5,160.0 L432.3,161.1 L433.9,162.1 L435.6,162.9 L437.2,163.7 L438.9,164.3 L440.5,164.9 L442.2,165.4 L443.8,165.9 L445.5,166.3 L447.1,166.6 L448.7,166.9 L450.3,167.1 L451.9,167.2 L453.5,167.3 L455.1,167.3 L456.7,167.3 L458.2,167.2 L459.8,167.0 L461.3,166.8 L462.8,166.5 L464.4,166.2 L465.8,165.8 L467.3,165.3 L468.8,164.8 L470.2,164.2 L471.6,163.6 L473.0,162.9 L474.4,162.1 L475.7,161.3 L477.1,160.3 L478.5,159.3 L479.8,158.3 L481.1,157.1 L482.3,156.0 L483.6,154.8 L484.7,153.6 L485.8,152.4 L486.8,151.1 L487.7,149.9 L488.5,148.6 L489.3,147.3 L490.0,145.9 L490.7,144.5 L491.3,143.1 L491.8,141.6 L492.3,140.2 L492.8,138.8 L493.1,137.4 L493.4,136.0 L493.6,134.8 L493.8,133.6 L493.9,132.5 L493.8,131.3 L493.6,130.2 L493.4,129.1 L493.1,128.1 L492.7,127.1 L492.4,126.1 L492.0,125.3 L491.6,124.5 L491.3,123.7 L491.1,123.1 L490.9,122.6" fill="none" stroke="#e8aa36" stroke-width="7.6" stroke-linecap="round" stroke-linejoin="round"/>
<path d="M425.0,87.8 L424.4,88.0 L423.7,88.1 L422.8,88.3 L421.8,88.5 L420.7,88.7 L419.6,89.0 L418.4,89.3 L417.2,89.6 L416.0,90.0 L414.9,90.4 L413.9,90.9 L412.9,91.4 L412.0,92.0 L411.0,92.6 L410.1,93.4 L409.2,94.1 L408.3,94.9 L407.4,95.8 L406.5,96.6 L405.7,97.5 L405.0,98.4 L404.3,99.3 L403.7,100.2 L403.1,101.1 L402.6,102.0 L402.2,102.8 L401.8,103.7 L401.5,104.5 L401.2,105.4 L401.0,106.3 L400.9,107.2 L400.7,108.2 L400.7,109.2 L400.6,110.2 L400.6,111.3 L400.7,112.5 L400.8,113.8 L400.9,115.1 L401.1,116.5 L401.3,118.0 L401.6,119.5 L401.9,121.0 L402.3,122.6 L402.7,124.2 L403.1,125.8 L403.6,127.3 L404.2,128.9 L404.8,130.4 L405.5,131.9 L406.2,133.4 L406.9,135.0 L407.7,136.5 L408.6,138.0 L409.5,139.6 L410.4,141.1 L411.5,142.6 L412.5,144.1 L413.7,145.5 L414.8,146.9 L416.1,148.3 L417.4,149.7 L418.9,151.0 L420.4,152.4 L422.0,153.8 L423.6,155.1 L425.3,156.4 L427.1,157.7 L428.8,158.9 L430.5,160.0 L432.3,161.1 L433.9,162.1 L435.6,162.9 L437.2,163.7 L438.9,164.3 L440.5,164.9 L442.2,165.4 L443.8,165.9 L445.5,166.3 L447.1,166.6 L448.7,166.9 L450.3,167.1 L451.9,167.2 L453.5,167.3 L455.1,167.3 L456.7,167.3 L458.2,167.2 L459.8,167.0 L461.3,166.8 L462.8,166.5 L464.4,166.2 L465.8,165.8 L467.3,165.3 L468.8,164.8 L470.2,164.2 L471.6,163.6 L473.0,162.9 L474.4,162.1 L475.7,161.3 L477.1,160.3 L478.5,159.3 L479.8,158.3 L481.1,157.1 L482.3,156.0 L483.6,154.8 L484.7,153.6 L485.8,152.4 L486.8,151.1 L487.7,149.9 L488.5,148.6 L489.3,147.3 L490.0,145.9 L490.7,144.5 L491.3,143.1 L491.8,141.6 L492.3,140.2 L492.8,138.8 L493.1,137.4 L493.4,136.0 L493.6,134.8 L493.8,133.6 L493.9,132.5 L493.8,131.3 L493.6,130.2 L493.4,129.1 L493.1,128.1 L492.7,127.1 L492.4,126.1 L492.0,125.3 L491.6,124.5 L491.3,123.7 L491.1,123.1 L490.9,122.6" fill="none" stroke="#fbcd6a" stroke-width="6.2" stroke-linecap="round" stroke-linejoin="round"/>
<path d="M425.0,87.8 L424.4,88.0 L423.7,88.1 L422.8,88.3 L421.8,88.5 L420.7,88.7 L419.6,89.0 L418.4,89.3 L417.2,89.6 L416.0,90.0 L414.9,90.4 L413.9,90.9 L412.9,91.4 L412.0,92.0 L411.0,92.6 L410.1,93.4 L409.2,94.1 L408.3,94.9 L407.4,95.8 L406.5,96.6 L405.7,97.5 L405.0,98.4 L404.3,99.3 L403.7,100.2 L403.1,101.1 L402.6,102.0 L402.2,102.8 L401.8,103.7 L401.5,104.5 L401.2,105.4 L401.0,106.3 L400.9,107.2 L400.7,108.2 L400.7,109.2 L400.6,110.2 L400.6,111.3 L400.7,112.5 L400.8,113.8 L400.9,115.1 L401.1,116.5 L401.3,118.0 L401.6,119.5 L401.9,121.0 L402.3,122.6 L402.7,124.2 L403.1,125.8 L403.6,127.3 L404.2,128.9 L404.8,130.4 L405.5,131.9 L406.2,133.4 L406.9,135.0 L407.7,136.5 L408.6,138.0 L409.5,139.6 L410.4,141.1 L411.5,142.6 L412.5,144.1 L413.7,145.5 L414.8,146.9 L416.1,148.3 L417.4,149.7 L418.9,151.0 L420.4,152.4 L422.0,153.8 L423.6,155.1 L425.3,156.4 L427.1,157.7 L428.8,158.9 L430.5,160.0 L432.3,161.1 L433.9,162.1 L435.6,162.9 L437.2,163.7 L438.9,164.3 L440.5,164.9 L442.2,165.4 L443.8,165.9 L445.5,166.3 L447.1,166.6 L448.7,166.9 L450.3,167.1 L451.9,167.2 L453.5,167.3 L455.1,167.3 L456.7,167.3 L458.2,167.2 L459.8,167.0 L461.3,166.8 L462.8,166.5 L464.4,166.2 L465.8,165.8 L467.3,165.3 L468.8,164.8 L470.2,164.2 L471.6,163.6 L473.0,162.9 L474.4,162.1 L475.7,161.3 L477.1,160.3 L478.5,159.3 L479.8,158.3 L481.1,157.1 L482.3,156.0 L483.6,154.8 L484.7,153.6 L485.8,152.4 L486.8,151.1 L487.7,149.9 L488.5,148.6 L489.3,147.3 L490.0,145.9 L490.7,144.5 L491.3,143.1 L491.8,141.6 L492.3,140.2 L492.8,138.8 L493.1,137.4 L493.4,136.0 L493.6,134.8 L493.8,133.6 L493.9,132.5 L493.8,131.3 L493.6,130.2 L493.4,129.1 L493.1,128.1 L492.7,127.1 L492.4,126.1 L492.0,125.3 L491.6,124.5 L491.3,123.7 L491.1,123.1 L490.9,122.6" fill="none" stroke="#fde09a" stroke-width="3.0" stroke-linecap="round" stroke-linejoin="round"/>
<ellipse cx="425.1" cy="97.9" rx="4.4" ry="2.4" fill="#969ba2" stroke="#b4bcc6" stroke-width="0.8" transform="rotate(85 425.1 97.9)"/>
<ellipse cx="412.9" cy="117.4" rx="4.4" ry="2.4" fill="#969ba2" stroke="#b4bcc6" stroke-width="0.8" transform="rotate(5 412.9 117.4)"/>
<ellipse cx="425.1" cy="137.7" rx="4.4" ry="2.4" fill="#969ba2" stroke="#b4bcc6" stroke-width="0.8" transform="rotate(-35 425.1 137.7)"/>
<ellipse cx="447" cy="150.7" rx="4.4" ry="2.4" fill="#969ba2" stroke="#b4bcc6" stroke-width="0.8" transform="rotate(85 447 150.7)"/>
<ellipse cx="474.6" cy="152.3" rx="4.4" ry="2.4" fill="#969ba2" stroke="#b4bcc6" stroke-width="0.8" transform="rotate(55 474.6 152.3)"/>
<ellipse cx="482.8" cy="127.6" rx="4.4" ry="2.4" fill="#969ba2" stroke="#b4bcc6" stroke-width="0.8" transform="rotate(-35 482.8 127.6)"/>
<g transform="translate(451.0 122.2) rotate(32)"><path d="M-30.6,-2.4 C-31.2,12.2 -12.6,19.8 6.3,19.5 C23.6,19.3 30.9,12.2 30.6,-2.4 Z" fill="#c8e2da" stroke="#5d9c96" stroke-width="0.6"/><path d="M-9.4,18.3 Q9.4,19.8 23.6,15.2" fill="none" stroke="#eef8f4" stroke-width="0.9" stroke-linecap="round"/><path d="M-29.4,0.0 L-29.4,-1.1 L-29.3,-2.2 L-29.0,-3.3 L-28.6,-4.3 L-28.0,-5.3 L-27.3,-6.2 L-26.5,-7.0 L-25.5,-7.8 L-24.3,-8.5 L-23.1,-9.1 L-21.8,-9.5 L-20.5,-9.8 L-19.2,-10.0 L-17.8,-10.0 L-16.3,-9.9 L-14.8,-9.7 L-13.2,-9.5 L-11.7,-9.2 L-10.3,-8.9 L-8.9,-8.5 L-7.4,-8.0 L-6.0,-7.6 L-4.5,-7.2 L-2.9,-7.0 L-1.3,-7.0 L0.4,-7.2 L2.1,-7.4 L3.8,-7.7 L5.6,-8.0 L7.3,-8.2 L9.1,-8.4 L11.0,-8.7 L12.9,-8.9 L14.8,-9.1 L16.5,-9.1 L18.2,-9.0 L19.8,-8.8 L21.3,-8.4 L22.8,-8.0 L24.2,-7.4 L25.4,-6.8 L26.4,-6.0 L27.3,-5.2 L28.0,-4.3 L28.5,-3.2 L29.0,-2.1 L29.2,-1.1 L29.4,0.0 L29.3,1.1 L29.2,2.2 L28.9,3.3 L28.4,4.3 L27.8,5.3 L27.0,6.2 L26.0,7.0 L24.9,7.8 L23.5,8.4 L22.1,9.0 L20.6,9.5 L19.1,9.8 L17.5,10.1 L15.9,10.2 L14.2,10.2 L12.4,10.2 L10.6,10.1 L8.8,10.0 L6.9,10.0 L5.0,9.9 L3.0,9.8 L1.0,9.7 L-1.0,9.6 L-2.9,9.5 L-4.9,9.5 L-6.9,9.5 L-8.9,9.5 L-10.9,9.4 L-12.8,9.3 L-14.7,9.0 L-16.5,8.7 L-18.4,8.3 L-20.3,7.9 L-22.0,7.4 L-23.6,6.7 L-24.9,6.0 L-26.1,5.2 L-27.1,4.3 L-27.9,3.2 L-28.6,2.1 L-29.1,1.1Z" fill="#d3e8e1" stroke="#4f9d97" stroke-width="4.3" stroke-linejoin="round"/><path d="M-15.8,-9.8 C-13.2,-3.7 -17.3,1.2 -14.5,4.6 M-5.7,10.4 C-7.6,3.7 -3.2,0.0 -6.3,-3.9 M3.8,-8.5 C6.3,-3.7 1.9,0.6 5.0,4.9 M13.2,10.4 C11.3,4.9 15.8,1.2 12.6,-3.7 M19.5,-1.8 L22.7,2.4 M-24.6,-2.4 L-22.0,1.8" fill="none" stroke="#4f9d97" stroke-width="3.1" stroke-linecap="round"/></g>
<path d="M445.7,117.4 C450.1,120.7 450.0,111.2 454.4,114.4" fill="none" stroke="#000" stroke-width="1.3"/>
<circle cx="438.9" cy="119.8" r="8.0" fill="#f9737f" stroke="#111" stroke-width="0.9"/>
<circle cx="461.2" cy="112" r="8.0" fill="#5a5af4" stroke="#111" stroke-width="0.9"/>
<g transform="translate(587.2 135.6) rotate(11)"><path d="M-38.1,-2.9 C-38.9,14.5 -15.7,23.5 7.9,23.2 C29.5,22.9 38.5,14.5 38.1,-2.9 Z" fill="#c8e2da" stroke="#5d9c96" stroke-width="0.6"/><path d="M-11.8,21.8 Q11.8,23.5 29.5,18.1" fill="none" stroke="#eef8f4" stroke-width="0.9" stroke-linecap="round"/><path d="M-37.1,0.0 L-37.3,-1.3 L-37.1,-2.7 L-36.7,-4.0 L-36.2,-5.3 L-35.4,-6.6 L-34.5,-7.7 L-33.5,-8.6 L-32.2,-9.6 L-30.8,-10.4 L-29.3,-11.1 L-27.6,-11.7 L-26.0,-12.1 L-24.3,-12.3 L-22.5,-12.3 L-20.6,-12.2 L-18.7,-11.9 L-16.7,-11.7 L-14.9,-11.4 L-13.0,-11.0 L-11.2,-10.4 L-9.4,-9.9 L-7.6,-9.3 L-5.7,-8.9 L-3.7,-8.6 L-1.7,-8.7 L0.5,-8.8 L2.6,-9.2 L4.8,-9.5 L7.1,-9.9 L9.3,-10.1 L11.6,-10.4 L13.9,-10.7 L16.3,-10.9 L18.7,-11.2 L20.9,-11.2 L23.0,-11.1 L25.0,-10.8 L27.0,-10.4 L28.9,-9.8 L30.6,-9.1 L32.1,-8.3 L33.4,-7.4 L34.5,-6.4 L35.4,-5.2 L36.1,-4.0 L36.7,-2.6 L37.0,-1.3 L37.1,0.0 L37.1,1.3 L36.9,2.7 L36.5,4.0 L35.9,5.3 L35.2,6.6 L34.2,7.7 L32.9,8.6 L31.5,9.5 L29.8,10.3 L28.0,11.1 L26.1,11.6 L24.1,12.1 L22.2,12.4 L20.1,12.5 L17.9,12.5 L15.7,12.5 L13.5,12.4 L11.1,12.4 L8.8,12.3 L6.3,12.2 L3.8,12.1 L1.3,12.0 L-1.2,11.8 L-3.7,11.7 L-6.2,11.7 L-8.7,11.6 L-11.3,11.6 L-13.8,11.5 L-16.2,11.4 L-18.6,11.1 L-20.9,10.7 L-23.3,10.2 L-25.7,9.7 L-27.9,9.0 L-29.9,8.3 L-31.6,7.4 L-33.0,6.4 L-34.3,5.2 L-35.3,4.0 L-36.2,2.6 L-36.8,1.3Z" fill="#d3e8e1" stroke="#4f9d97" stroke-width="4.3" stroke-linejoin="round"/><path d="M-19.6,-11.6 C-16.5,-4.3 -21.6,1.5 -18.1,5.5 M-7.1,12.3 C-9.4,4.3 -3.9,0.0 -7.9,-4.6 M4.7,-10.1 C7.9,-4.3 2.4,0.7 6.3,5.8 M16.5,12.3 C14.1,5.8 19.6,1.5 15.7,-4.3 M24.4,-2.2 L28.3,2.9 M-30.7,-2.9 L-27.5,2.2" fill="none" stroke="#4f9d97" stroke-width="3.1" stroke-linecap="round"/></g>
<path d="M585.0,131.3 C584.2,136.8 592.8,132.5 592.1,138.0" fill="none" stroke="#000" stroke-width="1.3"/>
<circle cx="579.6" cy="126.2" r="8.2" fill="#fdb2ba" stroke="#111" stroke-width="0.9"/>
<circle cx="597.5" cy="143.1" r="8.2" fill="#5858f4" stroke="#111" stroke-width="0.9"/>
<path d="M485.6,10.7 C487.9,15.8 493.0,7.7 495.4,12.8" fill="none" stroke="#000" stroke-width="1.3"/>
<circle cx="478" cy="9" r="8.7" fill="#fdb2ba" stroke="#111" stroke-width="0.9"/>
<circle cx="503" cy="14.5" r="8.7" fill="#6262fa" stroke="#111" stroke-width="0.9"/>
<path d="M528.8,41.2 C527.3,46.5 536.4,43.5 534.9,48.8" fill="none" stroke="#000" stroke-width="1.3"/>
<circle cx="524" cy="35" r="8.7" fill="#fdb2ba" stroke="#111" stroke-width="0.9"/>
<circle cx="539.7" cy="55" r="8.7" fill="#6262fa" stroke="#111" stroke-width="0.9"/>
<path d="M552.1,88.8 C549.3,93.7 558.9,93.1 556.2,98.1" fill="none" stroke="#000" stroke-width="1.3"/>
<circle cx="548.9" cy="81.6" r="8.7" fill="#fdb2ba" stroke="#111" stroke-width="0.9"/>
<circle cx="559.4" cy="105.3" r="8.7" fill="#6262fa" stroke="#111" stroke-width="0.9"/>
<path d="M200.2,110.1 L197.7,108.4 L195.0,107.5 L192.4,107.0 L189.7,106.7 L187.2,106.7 L184.7,106.9 L182.3,107.5 L179.9,108.3 L177.7,109.4 L175.5,110.7 L173.4,112.3 L171.5,114.1 L169.7,116.2 L167.5,111.9 L165.0,125.6 L178.4,121.9 L174.4,119.7 L175.7,117.9 L177.1,116.2 L178.6,114.8 L180.2,113.6 L181.9,112.6 L183.7,111.7 L185.6,111.0 L187.6,110.5 L189.8,110.2 L192.1,110.1 L194.6,110.1 L197.2,110.3 L200.2,110.1 Z" fill="#6b6b6b"/>
<path d="M350.9,98.8 L350.1,100.4 L349.4,102.0 L348.7,103.4 L347.9,104.7 L347.0,106.0 L346.0,107.1 L344.9,108.1 L343.6,109.0 L342.3,109.9 L340.8,110.7 L339.2,111.4 L337.4,112.0 L335.6,112.5 L335.7,109.7 L329.0,116.9 L338.7,119.0 L336.9,116.7 L338.9,115.9 L340.9,115.0 L342.6,114.0 L344.3,112.9 L345.7,111.6 L347.0,110.3 L348.2,108.9 L349.1,107.4 L349.9,105.8 L350.5,104.2 L350.9,102.5 L351.1,100.7 L350.9,98.8 Z" fill="#6b6b6b"/>
<path d="M371.7,135.5 L370.2,132.7 L368.3,130.4 L366.3,128.4 L364.3,126.6 L362.1,125.0 L360.0,123.7 L357.7,122.6 L355.4,121.7 L353.0,121.1 L350.6,120.8 L348.1,120.7 L345.7,120.9 L343.2,121.4 L344.7,117.2 L333.2,126.2 L346.6,131.9 L345.2,128.1 L347.0,127.5 L348.7,127.1 L350.5,126.9 L352.3,126.8 L354.2,126.9 L356.1,127.3 L358.1,127.8 L360.1,128.6 L362.3,129.6 L364.4,130.8 L366.7,132.3 L369.0,133.9 L371.7,135.5 Z" fill="#6b6b6b"/>
<path d="M548.5,114.4 L546.3,111.4 L543.7,109.4 L541.0,107.7 L538.3,106.3 L535.5,105.2 L532.8,104.5 L530.0,104.0 L527.2,103.9 L524.5,104.1 L521.7,104.6 L519.0,105.5 L516.4,106.7 L513.9,108.2 L513.8,103.0 L505.5,116.3 L521.1,117.7 L518.1,114.0 L519.9,112.7 L521.7,111.6 L523.6,110.8 L525.6,110.1 L527.6,109.7 L529.7,109.6 L532.0,109.6 L534.3,109.9 L536.8,110.4 L539.4,111.2 L542.1,112.3 L545.0,113.5 L548.5,114.4 Z" fill="#6b6b6b"/>
<path d="M251.1,227.5 L261.8,220.7 L260.7,225.6 L281.5,227.5 L260.7,229.4 L261.8,234.3 Z" fill="#6b6b6b"/>
<path d="M452.4,227.5 L463.09999999999997,220.7 L462.0,225.6 L482.5,227.5 L462.0,229.4 L463.09999999999997,234.3 Z" fill="#6b6b6b"/>
<text x="123" y="59.6" font-size="8.8" font-weight="bold" fill="#000" stroke="#000" stroke-width="0.28">Mitochondria within</text>
<text x="123" y="70.4" font-size="8.8" font-weight="bold" fill="#000" stroke="#000" stroke-width="0.28">Autolysosomes</text>
<text x="342.8" y="55.2" font-size="8.8" font-weight="bold" fill="#000" stroke="#000" stroke-width="0.28">Lysosomes</text>
<text x="418.8" y="65.6" font-size="8.8" font-weight="bold" fill="#000" stroke="#000" stroke-width="0.28">Mitochondria within</text>
<text x="418.8" y="76.6" font-size="8.8" font-weight="bold" fill="#000" stroke="#000" stroke-width="0.28">Autophagosomes</text>
<text x="537" y="13.8" font-size="8.8" font-weight="bold" fill="#000" stroke="#000" stroke-width="0.28">Mcy3</text>
<text x="579.5" y="115.2" font-size="8.8" font-weight="bold" fill="#000" stroke="#000" stroke-width="0.28">Mitochondria</text>
<text x="121.8" y="179.8" font-size="8.8" fill="#000" stroke="#000" stroke-width="0.28">pH 5.0–6.0</text>
<text x="335.4" y="179.8" font-size="8.8" fill="#000" stroke="#000" stroke-width="0.28">pH 6.0–7.5</text>
<text x="532.3" y="179.8" font-size="8.8" fill="#000" stroke="#000" stroke-width="0.28">pH 7.5–8.0</text>
<rect x="78.1" y="188.3" width="74.1" height="69.3" fill="#fbfbfa" stroke="#707070" stroke-width="2.2"/>
<path d="M84.9,251.4 L84.9,251.3 L85.2,251.0 L85.5,250.7 L85.9,250.2 L86.3,249.7 L86.7,249.1 L87.2,248.5 L87.7,247.7 L88.1,246.9 L88.5,245.9 L89.0,244.7 L89.5,243.4 L89.9,242.0 L90.4,240.7 L90.8,239.3 L91.2,238.1 L91.6,237.1 L91.9,236.2 L92.2,235.5 L92.5,234.8 L92.8,234.1 L93.0,233.6 L93.2,233.1 L93.5,232.6 L93.7,232.2 L93.9,231.9 L94.1,231.7 L94.3,231.5 L94.4,231.4 L94.6,231.3 L94.7,231.3 L94.9,231.3 L95.1,231.3 L95.3,231.3 L95.4,231.3 L95.6,231.4 L95.8,231.6 L95.9,231.7 L96.1,231.9 L96.3,232.1 L96.5,232.4 L96.6,232.7 L96.8,233.0 L96.9,233.3 L97.0,233.6 L97.2,234.1 L97.4,234.5 L97.6,235.1 L97.9,235.7 L98.2,236.5 L98.6,237.4 L99.0,238.5 L99.4,239.6 L99.9,240.7 L100.4,241.7 L100.9,242.6 L101.3,243.4 L101.8,244.1 L102.4,244.7 L102.9,245.3 L103.4,245.8 L104.0,246.2 L104.5,246.5 L105.0,246.6 L105.5,246.6 L105.5,251.4 Z" fill="#0000ff"/>
<path d="M105.5,251.4 L105.5,246.6 L106.0,246.4 L106.4,246.1 L106.9,245.7 L107.3,245.1 L107.7,244.4 L108.2,243.5 L108.6,242.5 L109.0,241.3 L109.4,239.9 L109.9,238.3 L110.3,236.5 L110.8,234.5 L111.2,232.5 L111.7,230.3 L112.1,228.2 L112.5,226.0 L112.9,223.7 L113.3,221.1 L113.6,218.4 L114.0,215.7 L114.3,213.1 L114.7,210.6 L115.0,208.4 L115.3,206.5 L115.5,204.9 L115.8,203.6 L116.0,202.5 L116.2,201.5 L116.4,200.7 L116.6,200.0 L116.8,199.4 L116.9,198.8 L117.1,198.3 L117.3,197.9 L117.4,197.7 L117.5,197.5 L117.7,197.4 L117.8,197.4 L117.9,197.4 L118.1,197.4 L118.2,197.4 L118.3,197.5 L118.5,197.5 L118.6,197.6 L118.7,197.8 L118.9,198.1 L119.0,198.5 L119.2,199.1 L119.4,199.8 L119.5,200.6 L119.7,201.5 L119.9,202.5 L120.1,203.7 L120.3,204.9 L120.6,206.3 L120.8,207.9 L121.1,209.6 L121.5,211.6 L121.8,213.7 L122.1,216.0 L122.5,218.3 L122.9,220.5 L123.2,222.6 L123.6,224.6 L124.0,226.4 L124.4,228.1 L124.9,229.8 L125.3,231.5 L125.7,233.0 L126.2,234.5 L126.6,235.8 L127.1,237.1 L127.6,238.3 L128.1,239.3 L128.6,240.3 L129.2,241.2 L129.7,242.0 L130.2,242.7 L130.8,243.4 L131.3,244.1 L131.8,244.7 L132.3,245.2 L132.9,245.7 L133.4,246.1 L133.9,246.5 L134.4,246.9 L135.0,247.2 L135.5,247.6 L136.0,247.9 L136.5,248.2 L137.0,248.5 L137.6,248.8 L138.1,249.0 L138.6,249.2 L139.1,249.5 L139.7,249.7 L140.2,249.8 L140.7,250.0 L141.2,250.2 L141.7,250.3 L142.2,250.4 L142.7,250.6 L143.3,250.7 L143.8,250.8 L144.4,250.9 L145.1,251.0 L145.8,251.0 L146.5,251.1 L147.2,251.2 L147.8,251.2 L148.3,251.3 L148.7,251.3 L148.7,251.4 Z" fill="#ff0000"/>
<polyline points="84.9,251.3 85.2,251.0 85.5,250.7 85.9,250.2 86.3,249.7 86.7,249.1 87.2,248.5 87.7,247.7 88.1,246.9 88.5,245.9 89.0,244.7 89.5,243.4 89.9,242.0 90.4,240.7 90.8,239.3 91.2,238.1 91.6,237.1 91.9,236.2 92.2,235.5 92.5,234.8 92.8,234.1 93.0,233.6 93.2,233.1 93.5,232.6 93.7,232.2 93.9,231.9 94.1,231.7 94.3,231.5 94.4,231.4 94.6,231.3 94.7,231.3 94.9,231.3 95.1,231.3 95.3,231.3 95.4,231.3 95.6,231.4 95.8,231.6 95.9,231.7 96.1,231.9 96.3,232.1 96.5,232.4 96.6,232.7 96.8,233.0 96.9,233.3 97.0,233.6 97.2,234.1 97.4,234.5 97.6,235.1 97.9,235.7 98.2,236.5 98.6,237.4 99.0,238.5 99.4,239.6 99.9,240.7 100.4,241.7 100.9,242.6 101.3,243.4 101.8,244.1 102.4,244.7 102.9,245.3 103.4,245.8 104.0,246.2 104.5,246.5 105.0,246.6 105.5,246.6 106.0,246.4 106.4,246.1 106.9,245.7 107.3,245.1 107.7,244.4 108.2,243.5 108.6,242.5 109.0,241.3 109.4,239.9 109.9,238.3 110.3,236.5 110.8,234.5 111.2,232.5 111.7,230.3 112.1,228.2 112.5,226.0 112.9,223.7 113.3,221.1 113.6,218.4 114.0,215.7 114.3,213.1 114.7,210.6 115.0,208.4 115.3,206.5 115.5,204.9 115.8,203.6 116.0,202.5 116.2,201.5 116.4,200.7 116.6,200.0 116.8,199.4 116.9,198.8 117.1,198.3 117.3,197.9 117.4,197.7 117.5,197.5 117.7,197.4 117.8,197.4 117.9,197.4 118.1,197.4 118.2,197.4 118.3,197.5 118.5,197.5 118.6,197.6 118.7,197.8 118.9,198.1 119.0,198.5 119.2,199.1 119.4,199.8 119.5,200.6 119.7,201.5 119.9,202.5 120.1,203.7 120.3,204.9 120.6,206.3 120.8,207.9 121.1,209.6 121.5,211.6 121.8,213.7 122.1,216.0 122.5,218.3 122.9,220.5 123.2,222.6 123.6,224.6 124.0,226.4 124.4,228.1 124.9,229.8 125.3,231.5 125.7,233.0 126.2,234.5 126.6,235.8 127.1,237.1 127.6,238.3 128.1,239.3 128.6,240.3 129.2,241.2 129.7,242.0 130.2,242.7 130.8,243.4 131.3,244.1 131.8,244.7 132.3,245.2 132.9,245.7 133.4,246.1 133.9,246.5 134.4,246.9 135.0,247.2 135.5,247.6 136.0,247.9 136.5,248.2 137.0,248.5 137.6,248.8 138.1,249.0 138.6,249.2 139.1,249.5 139.7,249.7 140.2,249.8 140.7,250.0 141.2,250.2 141.7,250.3 142.2,250.4 142.7,250.6 143.3,250.7 143.8,250.8 144.4,250.9 145.1,251.0 145.8,251.0 146.5,251.1 147.2,251.2 147.8,251.2 148.3,251.3 148.7,251.3" fill="none" stroke="#000" stroke-width="0.7"/>
<path d="M84.7,193.2 L84.7,251.70000000000002 L149.2,251.70000000000002" fill="none" stroke="#4a4a4a" stroke-width="0.75"/>
<rect x="295.0" y="188.3" width="74.4" height="68.9" fill="#f9f7f2" stroke="#707070" stroke-width="2.2"/>
<path d="M301.5,251.4 L301.5,251.3 L301.8,250.9 L302.1,250.4 L302.5,249.8 L302.9,249.1 L303.4,248.3 L303.8,247.4 L304.3,246.5 L304.7,245.5 L305.2,244.4 L305.6,243.1 L306.1,241.7 L306.6,240.2 L307.0,238.7 L307.5,237.4 L307.9,236.1 L308.2,235.0 L308.5,234.1 L308.8,233.3 L309.0,232.6 L309.2,232.0 L309.4,231.5 L309.5,231.0 L309.7,230.5 L309.9,230.2 L310.0,229.8 L310.2,229.6 L310.3,229.3 L310.5,229.2 L310.6,229.1 L310.7,229.1 L310.8,229.0 L311.0,229.0 L311.1,229.1 L311.3,229.2 L311.4,229.3 L311.6,229.4 L311.7,229.6 L311.9,229.8 L312.1,230.1 L312.2,230.4 L312.4,230.8 L312.6,231.1 L312.7,231.5 L312.9,231.9 L313.0,232.4 L313.2,233.0 L313.5,233.6 L313.8,234.3 L314.1,235.2 L314.5,236.2 L314.9,237.4 L315.4,238.5 L315.8,239.7 L316.3,240.8 L316.8,241.8 L317.3,242.7 L317.7,243.4 L318.2,244.1 L318.6,244.7 L319.1,245.2 L319.6,245.6 L320.1,245.9 L320.5,246.1 L321.0,246.2 L321.0,251.4 Z" fill="#0000ff"/>
<path d="M321.0,251.4 L321.0,246.2 L321.5,246.1 L322.0,245.9 L322.5,245.7 L323.0,245.3 L323.5,244.8 L324.0,244.2 L324.4,243.5 L324.9,242.7 L325.4,241.8 L325.8,240.8 L326.3,239.6 L326.7,238.4 L327.1,237.1 L327.5,235.7 L328.0,234.3 L328.4,232.9 L328.8,231.5 L329.3,229.8 L329.8,228.1 L330.2,226.4 L330.7,224.7 L331.1,223.1 L331.5,221.6 L331.9,220.4 L332.2,219.4 L332.5,218.5 L332.8,217.7 L333.0,217.0 L333.2,216.5 L333.4,216.0 L333.6,215.5 L333.8,215.1 L334.0,214.8 L334.2,214.5 L334.3,214.3 L334.4,214.2 L334.6,214.1 L334.7,214.1 L334.8,214.1 L334.9,214.1 L335.1,214.2 L335.2,214.2 L335.4,214.3 L335.5,214.4 L335.6,214.5 L335.8,214.8 L335.9,215.0 L336.1,215.4 L336.2,215.8 L336.4,216.3 L336.5,216.8 L336.7,217.4 L336.8,218.1 L337.0,218.8 L337.2,219.6 L337.5,220.4 L337.7,221.3 L338.0,222.3 L338.4,223.3 L338.7,224.4 L339.1,225.5 L339.5,226.6 L339.9,227.7 L340.2,228.8 L340.6,229.8 L341.0,230.8 L341.5,231.7 L341.9,232.7 L342.3,233.7 L342.8,234.6 L343.3,235.5 L343.7,236.4 L344.2,237.3 L344.7,238.1 L345.2,238.9 L345.8,239.7 L346.3,240.5 L346.8,241.3 L347.4,242.0 L347.9,242.7 L348.4,243.4 L348.9,244.0 L349.4,244.7 L350.0,245.3 L350.5,245.9 L351.0,246.5 L351.5,247.0 L352.1,247.6 L352.7,248.1 L353.2,248.5 L353.8,249.0 L354.4,249.4 L355.0,249.8 L355.6,250.2 L356.3,250.5 L357.0,250.8 L357.7,251.0 L358.6,251.1 L359.5,251.2 L360.4,251.3 L361.3,251.3 L362.1,251.3 L362.7,251.3 L363.2,251.3 L363.2,251.4 Z" fill="#ff0000"/>
<polyline points="301.5,251.3 301.8,250.9 302.1,250.4 302.5,249.8 302.9,249.1 303.4,248.3 303.8,247.4 304.3,246.5 304.7,245.5 305.2,244.4 305.6,243.1 306.1,241.7 306.6,240.2 307.0,238.7 307.5,237.4 307.9,236.1 308.2,235.0 308.5,234.1 308.8,233.3 309.0,232.6 309.2,232.0 309.4,231.5 309.5,231.0 309.7,230.5 309.9,230.2 310.0,229.8 310.2,229.6 310.3,229.3 310.5,229.2 310.6,229.1 310.7,229.1 310.8,229.0 311.0,229.0 311.1,229.1 311.3,229.2 311.4,229.3 311.6,229.4 311.7,229.6 311.9,229.8 312.1,230.1 312.2,230.4 312.4,230.8 312.6,231.1 312.7,231.5 312.9,231.9 313.0,232.4 313.2,233.0 313.5,233.6 313.8,234.3 314.1,235.2 314.5,236.2 314.9,237.4 315.4,238.5 315.8,239.7 316.3,240.8 316.8,241.8 317.3,242.7 317.7,243.4 318.2,244.1 318.6,244.7 319.1,245.2 319.6,245.6 320.1,245.9 320.5,246.1 321.0,246.2 321.5,246.1 322.0,245.9 322.5,245.7 323.0,245.3 323.5,244.8 324.0,244.2 324.4,243.5 324.9,242.7 325.4,241.8 325.8,240.8 326.3,239.6 326.7,238.4 327.1,237.1 327.5,235.7 328.0,234.3 328.4,232.9 328.8,231.5 329.3,229.8 329.8,228.1 330.2,226.4 330.7,224.7 331.1,223.1 331.5,221.6 331.9,220.4 332.2,219.4 332.5,218.5 332.8,217.7 333.0,217.0 333.2,216.5 333.4,216.0 333.6,215.5 333.8,215.1 334.0,214.8 334.2,214.5 334.3,214.3 334.4,214.2 334.6,214.1 334.7,214.1 334.8,214.1 334.9,214.1 335.1,214.2 335.2,214.2 335.4,214.3 335.5,214.4 335.6,214.5 335.8,214.8 335.9,215.0 336.1,215.4 336.2,215.8 336.4,216.3 336.5,216.8 336.7,217.4 336.8,218.1 337.0,218.8 337.2,219.6 337.5,220.4 337.7,221.3 338.0,222.3 338.4,223.3 338.7,224.4 339.1,225.5 339.5,226.6 339.9,227.7 340.2,228.8 340.6,229.8 341.0,230.8 341.5,231.7 341.9,232.7 342.3,233.7 342.8,234.6 343.3,235.5 343.7,236.4 344.2,237.3 344.7,238.1 345.2,238.9 345.8,239.7 346.3,240.5 346.8,241.3 347.4,242.0 347.9,242.7 348.4,243.4 348.9,244.0 349.4,244.7 350.0,245.3 350.5,245.9 351.0,246.5 351.5,247.0 352.1,247.6 352.7,248.1 353.2,248.5 353.8,249.0 354.4,249.4 355.0,249.8 355.6,250.2 356.3,250.5 357.0,250.8 357.7,251.0 358.6,251.1 359.5,251.2 360.4,251.3 361.3,251.3 362.1,251.3 362.7,251.3 363.2,251.3" fill="none" stroke="#000" stroke-width="0.7"/>
<path d="M301.5,192.8 L301.5,251.70000000000002 L363.7,251.70000000000002" fill="none" stroke="#4a4a4a" stroke-width="0.75"/>
<rect x="487.8" y="188.3" width="73.3" height="69.7" fill="#f8f4e8" stroke="#707070" stroke-width="2.2"/>
<path d="M494.2,252.2 L494.2,252.2 L494.5,251.7 L494.8,251.1 L495.2,250.3 L495.6,249.5 L496.1,248.6 L496.5,247.6 L497.0,246.5 L497.4,245.5 L497.8,244.3 L498.3,243.0 L498.8,241.6 L499.2,240.2 L499.7,238.7 L500.1,237.4 L500.5,236.1 L500.9,235.0 L501.2,234.1 L501.6,233.2 L501.9,232.4 L502.2,231.7 L502.4,231.1 L502.7,230.5 L502.9,230.0 L503.1,229.6 L503.3,229.3 L503.5,229.0 L503.7,228.9 L503.8,228.8 L504.0,228.7 L504.1,228.7 L504.2,228.7 L504.4,228.8 L504.5,228.8 L504.7,228.8 L504.8,228.9 L505.0,229.0 L505.1,229.2 L505.3,229.4 L505.5,229.6 L505.6,229.9 L505.8,230.2 L506.0,230.5 L506.1,230.9 L506.3,231.3 L506.4,231.7 L506.6,232.3 L506.9,232.9 L507.2,233.6 L507.5,234.5 L507.9,235.6 L508.3,236.9 L508.7,238.1 L509.2,239.4 L509.7,240.6 L510.2,241.8 L510.6,242.7 L511.1,243.5 L511.6,244.2 L512.2,244.9 L512.7,245.5 L513.2,246.0 L513.8,246.4 L514.3,246.7 L514.8,246.9 L514.8,252.2 Z" fill="#0000ff"/>
<path d="M514.8,252.2 L514.8,246.9 L515.4,246.9 L515.9,246.7 L516.4,246.5 L516.9,246.1 L517.4,245.6 L518.0,245.1 L518.5,244.6 L519.0,244.1 L519.5,243.5 L520.1,242.9 L520.6,242.2 L521.1,241.4 L521.7,240.7 L522.2,239.9 L522.7,239.2 L523.2,238.5 L523.7,237.8 L524.1,237.2 L524.6,236.5 L525.0,235.8 L525.5,235.2 L525.9,234.6 L526.3,234.1 L526.7,233.6 L527.0,233.3 L527.4,233.0 L527.7,232.7 L528.0,232.5 L528.3,232.4 L528.6,232.3 L528.9,232.2 L529.2,232.2 L529.5,232.3 L529.7,232.4 L530.0,232.5 L530.3,232.7 L530.5,233.0 L530.8,233.3 L531.2,233.6 L531.5,234.1 L532.0,234.5 L532.5,235.1 L533.0,235.8 L533.5,236.5 L534.1,237.2 L534.6,237.9 L535.2,238.6 L535.7,239.2 L536.2,239.8 L536.8,240.3 L537.3,240.8 L537.8,241.4 L538.3,241.9 L538.9,242.4 L539.4,242.9 L539.9,243.4 L540.4,243.9 L540.9,244.4 L541.4,245.0 L542.0,245.5 L542.5,246.1 L543.0,246.6 L543.5,247.1 L544.1,247.6 L544.7,248.1 L545.3,248.5 L545.9,249.0 L546.5,249.5 L547.2,249.9 L547.8,250.4 L548.4,250.7 L549.0,251.1 L549.5,251.3 L550.0,251.5 L550.5,251.7 L550.9,251.8 L551.4,251.9 L551.9,252.0 L552.5,252.1 L553.1,252.2 L553.9,252.2 L554.8,252.2 L555.9,252.2 L556.9,252.2 L557.9,252.2 L558.8,252.2 L559.5,252.2 L560.1,252.2 L560.1,252.2 Z" fill="#ff0000"/>
<polyline points="494.2,252.2 494.5,251.7 494.8,251.1 495.2,250.3 495.6,249.5 496.1,248.6 496.5,247.6 497.0,246.5 497.4,245.5 497.8,244.3 498.3,243.0 498.8,241.6 499.2,240.2 499.7,238.7 500.1,237.4 500.5,236.1 500.9,235.0 501.2,234.1 501.6,233.2 501.9,232.4 502.2,231.7 502.4,231.1 502.7,230.5 502.9,230.0 503.1,229.6 503.3,229.3 503.5,229.0 503.7,228.9 503.8,228.8 504.0,228.7 504.1,228.7 504.2,228.7 504.4,228.8 504.5,228.8 504.7,228.8 504.8,228.9 505.0,229.0 505.1,229.2 505.3,229.4 505.5,229.6 505.6,229.9 505.8,230.2 506.0,230.5 506.1,230.9 506.3,231.3 506.4,231.7 506.6,232.3 506.9,232.9 507.2,233.6 507.5,234.5 507.9,235.6 508.3,236.9 508.7,238.1 509.2,239.4 509.7,240.6 510.2,241.8 510.6,242.7 511.1,243.5 511.6,244.2 512.2,244.9 512.7,245.5 513.2,246.0 513.8,246.4 514.3,246.7 514.8,246.9 515.4,246.9 515.9,246.7 516.4,246.5 516.9,246.1 517.4,245.6 518.0,245.1 518.5,244.6 519.0,244.1 519.5,243.5 520.1,242.9 520.6,242.2 521.1,241.4 521.7,240.7 522.2,239.9 522.7,239.2 523.2,238.5 523.7,237.8 524.1,237.2 524.6,236.5 525.0,235.8 525.5,235.2 525.9,234.6 526.3,234.1 526.7,233.6 527.0,233.3 527.4,233.0 527.7,232.7 528.0,232.5 528.3,232.4 528.6,232.3 528.9,232.2 529.2,232.2 529.5,232.3 529.7,232.4 530.0,232.5 530.3,232.7 530.5,233.0 530.8,233.3 531.2,233.6 531.5,234.1 532.0,234.5 532.5,235.1 533.0,235.8 533.5,236.5 534.1,237.2 534.6,237.9 535.2,238.6 535.7,239.2 536.2,239.8 536.8,240.3 537.3,240.8 537.8,241.4 538.3,241.9 538.9,242.4 539.4,242.9 539.9,243.4 540.4,243.9 540.9,244.4 541.4,245.0 542.0,245.5 542.5,246.1 543.0,246.6 543.5,247.1 544.1,247.6 544.7,248.1 545.3,248.5 545.9,249.0 546.5,249.5 547.2,249.9 547.8,250.4 548.4,250.7 549.0,251.1 549.5,251.3 550.0,251.5 550.5,251.7 550.9,251.8 551.4,251.9 551.9,252.0 552.5,252.1 553.1,252.2 553.9,252.2 554.8,252.2 555.9,252.2 556.9,252.2 557.9,252.2 558.8,252.2 559.5,252.2 560.1,252.2" fill="none" stroke="#000" stroke-width="0.7"/>
<path d="M494.2,191.2 L494.2,252.5 L560.6,252.5" fill="none" stroke="#4a4a4a" stroke-width="0.75"/>
<rect x="156.1" y="186.5" width="76.6" height="76.4" fill="#000"/>
<g clip-path="url(#cA1)"><g filter="url(#spk)"><path d="M153.8,184.2 L155.1,183.7 L156.9,183.4 L159.0,183.4 L161.3,183.7 L163.4,184.2 L165.3,185.0 L166.9,186.1 L168.3,187.7 L169.6,189.5 L170.9,191.5 L172.3,193.5 L173.7,195.3 L175.3,197.0 L176.8,198.8 L178.5,200.6 L180.1,202.3 L181.9,204.0 L183.7,205.6 L185.6,207.1 L187.6,208.6 L189.6,210.0 L191.7,211.3 L193.8,212.7 L195.9,214.0 L198.1,215.3 L200.4,216.7 L202.6,218.0 L204.9,219.2 L207.0,220.5 L209.0,221.6 L210.7,222.7 L212.3,223.8 L213.7,224.7 L215.2,225.7 L216.6,226.7 L218.1,227.8 L219.8,228.9 L221.7,230.0 L223.6,231.1 L225.3,232.3 L226.9,233.5 L228.1,234.6 L229.0,235.8 L229.6,236.9 L230.0,238.0 L230.3,239.1 L230.4,240.3 L230.4,241.5 L230.3,242.8 L230.1,244.2 L229.7,245.6 L229.3,247.1 L228.7,248.5 L228.1,249.9 L227.4,251.3 L226.7,252.8 L225.9,254.3 L225.0,255.7 L223.9,257.0 L222.7,258.3 L221.3,259.6 L219.6,261.1 L217.9,262.5 L216.0,263.6 L214.3,264.3 L212.8,264.4 L211.5,263.8 L210.3,262.6 L209.1,260.9 L208.1,259.1 L207.0,257.1 L205.9,255.3 L204.8,253.5 L203.6,251.6 L202.5,249.7 L201.4,247.8 L200.2,245.8 L199.0,243.8 L197.7,241.8 L196.4,239.8 L195.0,237.8 L193.5,235.7 L192.1,233.6 L190.6,231.6 L189.0,229.5 L187.4,227.4 L185.7,225.3 L184.0,223.2 L182.3,221.1 L180.6,219.0 L178.8,216.8 L177.0,214.6 L175.2,212.4 L173.3,210.3 L171.6,208.2 L169.9,206.4 L168.3,204.7 L166.9,203.1 L165.5,201.7 L164.1,200.4 L162.8,199.1 L161.5,198.0 L160.1,196.9 L158.6,196.1 L157.1,195.3 L155.8,194.5 L154.6,193.6 L153.8,192.6 L153.2,191.3 L152.8,189.7 L152.6,188.0 L152.7,186.4 L153.0,185.1Z" fill="#3c14d0"/><ellipse cx="205.5" cy="236.2" rx="11.5" ry="6.5" fill="#0c0050" transform="rotate(42 205.5 236.2)"/><circle cx="183.4" cy="211.8" r="1.3" fill="#e22ce6"/><circle cx="196.2" cy="236.0" r="1.8" fill="#e22ce6"/><circle cx="190.3" cy="230.6" r="1.6" fill="#e22ce6"/><circle cx="195.7" cy="234.2" r="1.3" fill="#e22ce6"/><circle cx="180.4" cy="213.3" r="2.0" fill="#e22ce6"/><circle cx="193.7" cy="220.0" r="1.1" fill="#e22ce6"/><circle cx="198.8" cy="239.8" r="1.2" fill="#e22ce6"/><circle cx="192.3" cy="219.8" r="1.1" fill="#e22ce6"/><circle cx="196.9" cy="235.7" r="1.5" fill="#e22ce6"/><circle cx="182.0" cy="211.7" r="1.5" fill="#e22ce6"/><circle cx="193.3" cy="231.6" r="1.9" fill="#e22ce6"/><circle cx="207.3" cy="225.8" r="1.6" fill="#e22ce6"/><circle cx="180.6" cy="211.8" r="1.3" fill="#e22ce6"/><circle cx="189.3" cy="228.5" r="1.5" fill="#e22ce6"/><circle cx="200.3" cy="242.0" r="1.3" fill="#e22ce6"/><circle cx="188.8" cy="225.8" r="1.2" fill="#e22ce6"/><circle cx="206.1" cy="225.1" r="1.9" fill="#e22ce6"/><circle cx="189.7" cy="213.9" r="1.6" fill="#e22ce6"/><circle cx="210.6" cy="228.1" r="1.4" fill="#e22ce6"/><circle cx="193.6" cy="216.9" r="1.3" fill="#e22ce6"/><circle cx="209.0" cy="226.0" r="1.5" fill="#e22ce6"/><circle cx="196.3" cy="235.0" r="1.3" fill="#e22ce6"/><circle cx="193.7" cy="217.2" r="1.3" fill="#e22ce6"/><circle cx="188.8" cy="228.3" r="1.1" fill="#e22ce6"/><circle cx="199.3" cy="223.3" r="1.4" fill="#e22ce6"/><circle cx="192.3" cy="230.6" r="1.5" fill="#e22ce6"/><circle cx="210.8" cy="225.2" r="1.9" fill="#e22ce6"/><circle cx="194.7" cy="222.1" r="2.0" fill="#e22ce6"/><circle cx="197.7" cy="237.5" r="1.1" fill="#e22ce6"/><circle cx="191.7" cy="213.5" r="1.8" fill="#e22ce6"/><circle cx="195.1" cy="217.6" r="1.2" fill="#e22ce6"/><circle cx="201.7" cy="219.7" r="1.2" fill="#e22ce6"/><circle cx="212.9" cy="231.5" r="1.4" fill="#e22ce6"/><circle cx="188.6" cy="229.1" r="1.8" fill="#e22ce6"/><circle cx="203.9" cy="223.4" r="1.4" fill="#e22ce6"/><circle cx="206.1" cy="226.9" r="1.8" fill="#e22ce6"/><circle cx="193.5" cy="220.2" r="1.2" fill="#e22ce6"/><circle cx="193.9" cy="231.9" r="1.2" fill="#e22ce6"/><circle cx="188.0" cy="227.9" r="1.6" fill="#e22ce6"/><circle cx="180.8" cy="210.4" r="1.8" fill="#e22ce6"/></g></g>
<rect x="375.9" y="186.5" width="76.7" height="76.4" fill="#000"/>
<g clip-path="url(#cA2)"><g filter="url(#spk)"><path d="M373.6,184.2 L374.9,183.7 L376.7,183.4 L378.8,183.4 L381.1,183.7 L383.2,184.2 L385.1,185.0 L386.7,186.1 L388.1,187.7 L389.4,189.5 L390.7,191.5 L392.1,193.5 L393.5,195.3 L395.1,197.0 L396.7,198.8 L398.3,200.6 L400.0,202.3 L401.7,204.0 L403.5,205.6 L405.4,207.1 L407.4,208.6 L409.5,210.0 L411.6,211.3 L413.7,212.7 L415.8,214.0 L418.0,215.3 L420.2,216.7 L422.5,218.0 L424.7,219.2 L426.9,220.5 L428.8,221.6 L430.6,222.7 L432.1,223.8 L433.6,224.7 L435.0,225.7 L436.5,226.7 L438.0,227.8 L439.7,228.9 L441.6,230.0 L443.4,231.1 L445.2,232.3 L446.8,233.5 L448.0,234.6 L448.9,235.8 L449.5,236.9 L449.9,238.0 L450.2,239.1 L450.3,240.3 L450.3,241.5 L450.2,242.8 L450.0,244.2 L449.6,245.6 L449.2,247.1 L448.6,248.5 L448.0,249.9 L447.3,251.3 L446.6,252.8 L445.8,254.3 L444.9,255.7 L443.8,257.0 L442.6,258.3 L441.2,259.6 L439.5,261.1 L437.7,262.5 L435.9,263.6 L434.2,264.3 L432.7,264.4 L431.3,263.8 L430.1,262.6 L429.0,260.9 L427.9,259.1 L426.9,257.1 L425.8,255.3 L424.6,253.5 L423.5,251.6 L422.4,249.7 L421.3,247.8 L420.1,245.8 L418.9,243.8 L417.6,241.8 L416.2,239.8 L414.8,237.8 L413.4,235.7 L411.9,233.6 L410.4,231.6 L408.9,229.5 L407.2,227.4 L405.6,225.3 L403.9,223.2 L402.2,221.1 L400.4,219.0 L398.7,216.8 L396.8,214.6 L395.0,212.4 L393.1,210.3 L391.4,208.2 L389.7,206.4 L388.2,204.7 L386.7,203.1 L385.3,201.7 L383.9,200.4 L382.6,199.1 L381.3,198.0 L379.9,196.9 L378.4,196.1 L376.9,195.3 L375.6,194.5 L374.4,193.6 L373.6,192.6 L373.0,191.3 L372.6,189.7 L372.4,188.0 L372.5,186.4 L372.8,185.1Z" fill="#2c0aa8"/><ellipse cx="425.4" cy="236.2" rx="11.5" ry="6.5" fill="#080040" transform="rotate(42 425.4 236.2)"/><circle cx="418.6" cy="240.3" r="1.0" fill="#8a22e0"/><circle cx="428.5" cy="227.1" r="1.6" fill="#8a22e0"/><circle cx="403.8" cy="213.3" r="1.8" fill="#8a22e0"/><circle cx="413.1" cy="231.0" r="2.0" fill="#8a22e0"/><circle cx="417.6" cy="222.3" r="1.2" fill="#8a22e0"/><circle cx="403.9" cy="209.3" r="1.5" fill="#8a22e0"/><circle cx="417.9" cy="237.5" r="1.4" fill="#8a22e0"/><circle cx="416.6" cy="220.2" r="1.5" fill="#8a22e0"/><circle cx="412.2" cy="233.2" r="1.6" fill="#8a22e0"/><circle cx="413.5" cy="216.4" r="1.4" fill="#8a22e0"/><circle cx="399.3" cy="207.5" r="1.9" fill="#8a22e0"/><circle cx="422.0" cy="222.1" r="1.4" fill="#8a22e0"/><circle cx="404.6" cy="212.8" r="1.5" fill="#8a22e0"/><circle cx="408.7" cy="214.7" r="1.4" fill="#8a22e0"/><circle cx="412.6" cy="213.6" r="1.4" fill="#8a22e0"/><circle cx="425.8" cy="225.7" r="1.2" fill="#8a22e0"/><circle cx="417.8" cy="239.1" r="1.0" fill="#8a22e0"/><circle cx="419.6" cy="241.4" r="1.1" fill="#8a22e0"/><circle cx="411.7" cy="230.0" r="1.1" fill="#8a22e0"/><circle cx="418.9" cy="219.2" r="1.9" fill="#8a22e0"/></g></g>
<rect x="569.6" y="186.6" width="76.6" height="76.0" fill="#000"/>
<g clip-path="url(#cA3)"><g filter="url(#spk)"><path d="M567.3,184.3 L568.6,183.8 L570.4,183.5 L572.5,183.5 L574.8,183.8 L576.9,184.3 L578.8,185.1 L580.4,186.2 L581.8,187.8 L583.1,189.6 L584.4,191.6 L585.8,193.5 L587.2,195.3 L588.8,197.1 L590.3,198.8 L592.0,200.6 L593.6,202.3 L595.4,204.0 L597.2,205.6 L599.1,207.1 L601.1,208.6 L603.1,209.9 L605.2,211.3 L607.3,212.6 L609.4,214.0 L611.6,215.3 L613.9,216.6 L616.1,217.9 L618.4,219.2 L620.5,220.4 L622.5,221.6 L624.2,222.7 L625.8,223.7 L627.2,224.6 L628.7,225.6 L630.1,226.6 L631.6,227.6 L633.3,228.7 L635.2,229.9 L637.1,231.0 L638.8,232.2 L640.4,233.3 L641.6,234.5 L642.5,235.6 L643.1,236.7 L643.5,237.8 L643.8,238.9 L643.9,240.1 L643.9,241.3 L643.8,242.6 L643.6,244.0 L643.2,245.4 L642.8,246.8 L642.2,248.3 L641.6,249.7 L640.9,251.1 L640.2,252.6 L639.4,254.0 L638.5,255.4 L637.4,256.8 L636.2,258.0 L634.8,259.4 L633.1,260.8 L631.4,262.2 L629.5,263.3 L627.8,264.0 L626.3,264.1 L625.0,263.5 L623.8,262.3 L622.6,260.7 L621.6,258.8 L620.5,256.8 L619.4,255.0 L618.3,253.2 L617.1,251.4 L616.0,249.5 L614.9,247.5 L613.7,245.6 L612.5,243.6 L611.2,241.6 L609.9,239.6 L608.5,237.6 L607.0,235.5 L605.6,233.5 L604.1,231.4 L602.5,229.4 L600.9,227.3 L599.2,225.2 L597.5,223.1 L595.8,221.0 L594.1,218.9 L592.3,216.8 L590.5,214.6 L588.7,212.4 L586.8,210.2 L585.1,208.2 L583.4,206.4 L581.8,204.7 L580.4,203.2 L579.0,201.7 L577.6,200.4 L576.3,199.2 L575.0,198.0 L573.6,197.0 L572.1,196.1 L570.6,195.3 L569.3,194.6 L568.1,193.7 L567.3,192.7 L566.7,191.4 L566.3,189.8 L566.1,188.1 L566.2,186.5 L566.5,185.2Z" fill="#0808d8"/><ellipse cx="619.0" cy="236.0" rx="11.5" ry="6.5" fill="#020250" transform="rotate(42 619.0 236.0)"/></g></g>
<text x="4.3" y="292.2" font-size="8.7" font-weight="bold" fill="#000" stroke="#000" stroke-width="0.28">B</text>
<text x="157.4" y="280.4" font-size="8.8" text-anchor="middle" fill="#000" stroke="#000" stroke-width="0.28">CCCP</text>
<rect x="51.5" y="287.0" width="209.2" height="1.8" fill="#000"/>
<text x="71.2" y="302.8" font-size="8.8" text-anchor="middle" fill="#000" stroke="#000" stroke-width="0.28" xml:space="preserve">1 h</text>
<text x="157.6" y="302.8" font-size="8.8" text-anchor="middle" fill="#000" stroke="#000" stroke-width="0.28" xml:space="preserve">2  h</text>
<text x="247" y="302.8" font-size="8.8" text-anchor="middle" fill="#000" stroke="#000" stroke-width="0.28" xml:space="preserve">3 h</text>
<text x="11.9" y="351.6" font-size="8.8" text-anchor="middle" transform="rotate(-90 11.9 351.6)" fill="#000" stroke="#000" stroke-width="0.28">GFP-LC3</text>
<text x="9.9" y="441.2" font-size="8.8" text-anchor="middle" transform="rotate(-90 9.9 441.2)" fill="#000" stroke="#000" stroke-width="0.28">Mcy3</text>
<text x="9.9" y="528.3" font-size="8.8" text-anchor="middle" transform="rotate(-90 9.9 528.3)" fill="#000" stroke="#000" stroke-width="0.28">Merge</text>
<text x="342.8" y="292.0" font-size="8.7" font-weight="bold" fill="#000" stroke="#000" stroke-width="0.28">C</text>
<text x="507" y="280.4" font-size="8.8" text-anchor="middle" fill="#000" stroke="#000" stroke-width="0.28">CCCP</text>
<rect x="400.5" y="287.0" width="195.10000000000002" height="1.8" fill="#000"/>
<text x="419.8" y="302.8" font-size="8.8" text-anchor="middle" fill="#000" stroke="#000" stroke-width="0.28" xml:space="preserve">0 h</text>
<text x="507" y="302.8" font-size="8.8" text-anchor="middle" fill="#000" stroke="#000" stroke-width="0.28" xml:space="preserve">2 h</text>
<text x="596.3" y="302.8" font-size="8.8" text-anchor="middle" fill="#000" stroke="#000" stroke-width="0.28" xml:space="preserve">3.5 h</text>
<text x="353.8" y="350.5" font-size="8.8" text-anchor="middle" transform="rotate(-90 353.8 350.5)" fill="#000" stroke="#000" stroke-width="0.28">Lysotracker</text>
<text x="353.6" y="441.5" font-size="8.8" text-anchor="middle" transform="rotate(-90 353.6 441.5)" fill="#000" stroke="#000" stroke-width="0.28">Mcy3</text>
<text x="351.6" y="529.2" font-size="8.8" text-anchor="middle" transform="rotate(-90 351.6 529.2)" fill="#000" stroke="#000" stroke-width="0.28">Merge</text>
<rect x="26.9" y="311.1" width="82.9" height="82.0" fill="#000300"/><g clip-path="url(#mc1)"><g filter="url(#bl2)"><path d="M62.5,311.1 L64.1,310.4 L66.3,309.9 L68.8,309.5 L71.5,309.2 L74.2,309.2 L76.6,309.5 L78.9,310.0 L81.2,310.8 L83.5,311.8 L85.6,312.9 L87.5,314.1 L89.1,315.2 L90.2,316.3 L90.8,317.5 L91.2,318.7 L91.6,319.9 L92.2,321.2 L93.2,322.6 L94.8,324.0 L96.8,325.5 L99.1,327.0 L101.3,328.5 L103.3,330.1 L104.8,331.6 L106.0,333.1 L106.9,334.6 L107.6,336.1 L108.1,337.6 L108.3,339.1 L108.1,340.6 L107.6,342.1 L106.7,343.7 L105.6,345.2 L104.2,346.8 L102.8,348.2 L101.5,349.6 L100.2,351.0 L98.9,352.2 L97.5,353.4 L96.0,354.6 L94.6,355.8 L93.2,357.0 L91.8,358.3 L90.5,359.5 L89.1,360.8 L87.7,362.0 L86.3,363.2 L84.9,364.4 L83.5,365.5 L82.2,366.6 L80.8,367.6 L79.4,368.7 L78.0,369.8 L76.6,371.0 L75.2,372.1 L73.8,373.3 L72.4,374.5 L71.0,375.8 L69.6,377.3 L68.3,379.2 L67.2,381.5 L66.2,384.4 L65.2,387.6 L64.2,390.5 L63.0,393.1 L61.7,394.7 L60.0,395.6 L57.9,396.0 L55.7,395.8 L53.6,395.3 L52.0,394.3 L50.9,393.1 L50.7,391.4 L51.0,389.1 L51.8,386.5 L52.7,383.7 L53.6,380.9 L54.3,378.3 L54.7,376.0 L55.2,373.7 L55.7,371.4 L56.1,369.1 L56.5,366.8 L56.7,364.4 L56.9,361.9 L57.0,359.4 L57.0,356.9 L57.0,354.3 L56.9,351.9 L56.7,349.6 L56.5,347.5 L56.1,345.5 L55.6,343.6 L55.2,341.8 L55.0,340.0 L55.1,338.2 L55.6,336.3 L56.3,334.5 L57.3,332.7 L58.3,330.9 L59.3,329.2 L60.1,327.5 L60.6,325.9 L61.2,324.3 L61.6,322.8 L62.0,321.3 L62.3,319.9 L62.5,318.5 L62.5,317.1 L62.2,315.7 L61.8,314.3 L61.6,313.1 L61.8,312.0Z" fill="#093a09" fill-opacity="0.95"/><ellipse cx="97.4" cy="384.9" rx="16.6" ry="12.3" fill="#031503" fill-opacity="0.6"/></g><g filter="url(#bl2)"><ellipse cx="79.1" cy="348.8" rx="17.4" ry="20.3" fill="#136213" fill-opacity="0.55" transform="rotate(8 79.1 348.8)"/><ellipse cx="79.1" cy="348.8" rx="8.7" ry="13.5" fill="#0b400b" fill-opacity="0.85" transform="rotate(8 79.1 348.8)"/></g><g filter="url(#bl07)"><g fill="#44ea44" fill-opacity="0.9"><circle cx="84.6" cy="363.8" r="0.9"/><circle cx="78.0" cy="328.6" r="0.7"/><circle cx="85.6" cy="331.8" r="0.6"/><circle cx="69.6" cy="351.3" r="1.0"/><circle cx="90.6" cy="345.0" r="0.7"/><circle cx="82.4" cy="334.0" r="0.6"/><circle cx="81.3" cy="364.7" r="0.8"/><circle cx="89.8" cy="346.8" r="1.0"/><circle cx="65.8" cy="339.3" r="0.9"/><circle cx="84.0" cy="366.4" r="0.6"/><circle cx="90.8" cy="351.1" r="0.9"/><circle cx="70.5" cy="341.5" r="0.9"/><circle cx="89.4" cy="342.1" r="0.8"/><circle cx="71.6" cy="330.6" r="0.6"/><circle cx="65.3" cy="339.2" r="0.8"/><circle cx="79.1" cy="328.0" r="0.8"/><circle cx="73.3" cy="366.8" r="0.8"/><circle cx="68.3" cy="365.7" r="0.7"/><circle cx="64.6" cy="349.0" r="0.9"/><circle cx="91.4" cy="337.8" r="0.7"/><circle cx="90.5" cy="331.8" r="0.9"/><circle cx="83.0" cy="330.9" r="0.8"/><circle cx="71.4" cy="340.4" r="0.9"/><circle cx="87.3" cy="338.5" r="0.9"/><circle cx="78.4" cy="334.7" r="0.6"/><circle cx="71.7" cy="339.0" r="0.7"/><circle cx="71.2" cy="333.9" r="0.9"/><circle cx="69.8" cy="340.6" r="0.6"/><circle cx="85.5" cy="359.7" r="0.8"/><circle cx="79.3" cy="333.7" r="0.7"/><circle cx="95.4" cy="330.8" r="1.1"/><circle cx="87.1" cy="328.3" r="1.0"/><circle cx="85.4" cy="330.6" r="0.8"/><circle cx="94.1" cy="324.5" r="0.7"/><circle cx="92.6" cy="335.4" r="0.8"/><circle cx="95.3" cy="336.9" r="0.8"/><circle cx="100.7" cy="336.5" r="0.9"/><circle cx="87.0" cy="331.2" r="0.9"/><circle cx="89.0" cy="333.2" r="1.0"/><circle cx="91.5" cy="334.7" r="0.8"/><circle cx="60.1" cy="364.3" r="0.9"/><circle cx="67.5" cy="354.5" r="0.7"/><circle cx="64.6" cy="350.7" r="1.1"/><circle cx="63.5" cy="359.1" r="0.7"/><circle cx="63.1" cy="371.7" r="1.1"/><circle cx="63.3" cy="353.5" r="0.6"/><circle cx="66.9" cy="358.4" r="0.9"/><circle cx="61.6" cy="345.1" r="1.0"/><circle cx="62.8" cy="364.2" r="0.8"/><circle cx="64.4" cy="372.9" r="0.9"/><circle cx="66.5" cy="370.5" r="0.9"/><circle cx="63.5" cy="375.3" r="0.9"/></g></g></g>
<rect x="119.5" y="311.1" width="82.4" height="82.0" fill="#000300"/><g clip-path="url(#mc2)"><g filter="url(#bl2)"><path d="M153.3,311.1 L153.8,310.4 L154.5,310.1 L155.2,310.1 L156.0,310.3 L156.7,310.7 L157.4,311.1 L157.9,311.6 L158.4,312.3 L158.8,313.2 L159.3,314.1 L159.9,315.0 L160.7,316.0 L161.8,317.1 L163.0,318.2 L164.4,319.4 L165.8,320.6 L167.4,321.7 L168.9,322.6 L170.6,323.3 L172.4,323.8 L174.3,324.3 L176.2,324.7 L178.0,325.2 L179.7,325.9 L181.0,326.6 L182.2,327.5 L183.4,328.4 L184.5,329.4 L185.7,330.4 L187.1,331.6 L188.9,332.9 L191.0,334.3 L193.2,335.9 L195.3,337.4 L196.9,339.0 L197.8,340.6 L197.8,342.2 L197.1,343.8 L196.0,345.5 L194.7,347.1 L193.3,348.8 L192.0,350.5 L190.9,352.1 L189.7,353.8 L188.4,355.5 L187.1,357.1 L185.9,358.8 L184.6,360.3 L183.4,361.8 L182.1,363.2 L180.8,364.6 L179.6,365.9 L178.4,367.2 L177.2,368.5 L176.1,369.7 L175.0,370.8 L174.0,371.9 L173.0,373.0 L171.9,374.0 L170.6,375.1 L169.1,376.0 L167.5,376.8 L165.7,377.6 L164.0,378.4 L162.3,379.5 L160.7,380.8 L159.2,382.6 L157.8,384.9 L156.5,387.4 L155.1,389.8 L153.8,391.8 L152.5,393.1 L151.0,393.8 L149.3,394.1 L147.7,394.0 L146.2,393.5 L145.0,392.7 L144.2,391.5 L144.0,389.7 L144.2,387.4 L144.7,384.7 L145.4,381.9 L146.1,379.2 L146.7,376.7 L147.3,374.5 L147.9,372.5 L148.6,370.6 L149.2,368.6 L149.7,366.6 L150.0,364.4 L150.0,362.1 L149.7,359.6 L149.3,357.1 L148.9,354.6 L148.5,352.1 L148.3,349.6 L148.3,347.3 L148.4,344.9 L148.5,342.6 L148.7,340.3 L148.9,338.0 L149.2,335.7 L149.5,333.3 L149.9,330.9 L150.3,328.5 L150.8,326.2 L151.3,323.9 L151.6,321.8 L151.9,319.7 L152.2,317.6 L152.4,315.6 L152.6,313.7 L152.9,312.2Z" fill="#093a09" fill-opacity="0.95"/><ellipse cx="189.5" cy="384.9" rx="16.5" ry="12.3" fill="#031503" fill-opacity="0.6"/></g><g filter="url(#bl2)"><ellipse cx="169.4" cy="348.4" rx="17.3" ry="20.9" fill="#136213" fill-opacity="0.55" transform="rotate(8 169.4 348.4)"/><ellipse cx="169.4" cy="348.4" rx="8.7" ry="13.9" fill="#0b400b" fill-opacity="0.85" transform="rotate(8 169.4 348.4)"/></g><g filter="url(#bl07)"><g fill="#44ea44" fill-opacity="0.9"><circle cx="161.4" cy="339.6" r="1.0"/><circle cx="181.4" cy="341.5" r="0.8"/><circle cx="169.5" cy="364.1" r="0.7"/><circle cx="167.7" cy="333.3" r="1.0"/><circle cx="177.7" cy="356.3" r="0.6"/><circle cx="173.2" cy="331.5" r="0.8"/><circle cx="160.7" cy="365.4" r="0.7"/><circle cx="170.0" cy="366.1" r="0.7"/><circle cx="178.6" cy="364.1" r="0.9"/><circle cx="164.4" cy="327.9" r="0.7"/><circle cx="159.0" cy="359.5" r="0.7"/><circle cx="166.6" cy="336.0" r="0.8"/><circle cx="158.8" cy="343.1" r="0.6"/><circle cx="168.6" cy="335.1" r="0.8"/><circle cx="173.0" cy="360.5" r="0.6"/><circle cx="177.7" cy="355.7" r="0.9"/><circle cx="170.2" cy="331.1" r="0.8"/><circle cx="156.7" cy="349.6" r="0.9"/><circle cx="160.8" cy="368.5" r="0.9"/><circle cx="167.4" cy="335.6" r="0.6"/><circle cx="180.0" cy="353.4" r="1.0"/><circle cx="182.1" cy="334.3" r="0.6"/><circle cx="168.3" cy="327.2" r="0.9"/><circle cx="174.0" cy="334.4" r="0.6"/><circle cx="175.9" cy="328.6" r="1.0"/><circle cx="154.0" cy="353.9" r="0.6"/><circle cx="184.8" cy="344.4" r="0.7"/><circle cx="179.9" cy="357.9" r="0.9"/><circle cx="162.2" cy="359.0" r="0.7"/><circle cx="175.5" cy="336.2" r="1.0"/><circle cx="181.7" cy="334.8" r="0.8"/><circle cx="190.5" cy="331.0" r="0.9"/><circle cx="186.7" cy="335.4" r="1.2"/><circle cx="187.5" cy="332.5" r="1.2"/><circle cx="176.5" cy="333.4" r="1.2"/><circle cx="181.9" cy="335.3" r="1.1"/><circle cx="176.9" cy="330.4" r="0.9"/><circle cx="184.8" cy="330.7" r="1.1"/><circle cx="185.0" cy="329.4" r="0.7"/><circle cx="182.0" cy="333.5" r="0.8"/><circle cx="157.0" cy="359.6" r="0.8"/><circle cx="151.9" cy="358.5" r="0.9"/><circle cx="154.4" cy="348.5" r="0.9"/><circle cx="154.1" cy="353.8" r="0.9"/><circle cx="153.8" cy="365.0" r="1.0"/><circle cx="155.5" cy="362.8" r="0.8"/><circle cx="155.1" cy="357.0" r="0.6"/><circle cx="159.4" cy="354.4" r="0.8"/><circle cx="154.4" cy="349.9" r="1.0"/><circle cx="156.6" cy="381.6" r="0.9"/><circle cx="152.6" cy="384.7" r="0.9"/><circle cx="156.4" cy="371.0" r="0.9"/><circle cx="167.7" cy="370.6" r="2.1"/><circle cx="171.8" cy="368.9" r="1.3"/></g></g></g>
<rect x="211.6" y="311.1" width="82.7" height="82.0" fill="#000300"/><g clip-path="url(#mc3)"><g filter="url(#bl2)"><path d="M244.7,312.7 L245.2,312.5 L246.0,312.8 L246.9,313.5 L247.9,314.3 L248.8,315.2 L249.6,316.0 L250.3,316.9 L250.9,317.8 L251.4,318.8 L252.0,319.9 L252.8,320.9 L253.8,321.8 L255.1,322.5 L256.6,323.2 L258.3,323.9 L260.1,324.6 L261.9,325.2 L263.7,325.9 L265.4,326.5 L267.0,327.1 L268.7,327.7 L270.4,328.3 L272.3,329.0 L274.5,330.0 L277.1,331.1 L280.3,332.3 L283.7,333.6 L286.8,335.1 L289.4,336.6 L291.0,338.2 L291.6,339.8 L291.3,341.6 L290.5,343.5 L289.4,345.4 L288.1,347.2 L286.9,348.8 L285.6,350.3 L284.1,351.7 L282.5,353.1 L280.8,354.4 L279.2,355.7 L277.8,357.0 L276.5,358.4 L275.4,359.8 L274.3,361.3 L273.3,362.7 L272.3,364.0 L271.1,365.2 L270.0,366.3 L268.8,367.2 L267.7,368.0 L266.5,368.9 L265.1,369.8 L263.7,371.0 L262.1,372.2 L260.4,373.6 L258.5,375.0 L256.7,376.5 L254.8,378.2 L252.9,380.0 L251.1,382.1 L249.2,384.7 L247.2,387.5 L245.4,390.0 L243.7,392.0 L242.2,393.1 L241.0,393.3 L239.9,392.9 L239.0,392.0 L238.2,390.6 L237.7,389.1 L237.2,387.4 L237.0,385.4 L237.1,383.1 L237.3,380.5 L237.6,377.9 L237.9,375.2 L238.1,372.6 L238.3,370.2 L238.5,367.7 L238.8,365.3 L239.0,362.9 L239.0,360.4 L238.9,357.8 L238.4,355.1 L237.5,352.2 L236.4,349.2 L235.5,346.4 L234.8,343.7 L234.8,341.4 L235.4,339.6 L236.6,338.2 L238.1,337.0 L239.7,335.9 L241.1,334.7 L242.2,333.2 L242.9,331.5 L243.5,329.6 L243.9,327.6 L244.2,325.5 L244.5,323.6 L244.7,321.8 L244.8,320.0 L244.7,318.1 L244.5,316.3 L244.4,314.7 L244.4,313.5Z" fill="#093a09" fill-opacity="0.95"/><ellipse cx="281.9" cy="384.9" rx="16.5" ry="12.3" fill="#031503" fill-opacity="0.6"/><ellipse cx="294.3" cy="331.6" rx="6.6" ry="16.4" fill="#062806" fill-opacity="0.7"/></g><g filter="url(#bl2)"><ellipse cx="261.2" cy="349.6" rx="17.4" ry="20.9" fill="#136213" fill-opacity="0.55" transform="rotate(8 261.2 349.6)"/><ellipse cx="261.2" cy="349.6" rx="8.7" ry="13.9" fill="#0b400b" fill-opacity="0.85" transform="rotate(8 261.2 349.6)"/></g><g filter="url(#bl07)"><g fill="#44ea44" fill-opacity="0.9"><circle cx="266.9" cy="366.7" r="0.6"/><circle cx="260.9" cy="330.0" r="0.7"/><circle cx="253.5" cy="335.3" r="0.6"/><circle cx="248.7" cy="344.1" r="0.8"/><circle cx="273.5" cy="336.6" r="0.7"/><circle cx="260.6" cy="364.4" r="0.9"/><circle cx="258.9" cy="330.6" r="0.7"/><circle cx="250.7" cy="348.1" r="0.8"/><circle cx="267.1" cy="366.5" r="0.8"/><circle cx="258.1" cy="334.9" r="0.6"/><circle cx="251.8" cy="366.5" r="0.8"/><circle cx="263.6" cy="331.7" r="0.7"/><circle cx="270.9" cy="342.5" r="0.6"/><circle cx="251.4" cy="337.5" r="0.7"/><circle cx="250.9" cy="341.6" r="0.9"/><circle cx="274.5" cy="337.0" r="0.8"/><circle cx="245.3" cy="351.9" r="0.8"/><circle cx="252.9" cy="332.2" r="0.9"/><circle cx="248.4" cy="361.5" r="0.8"/><circle cx="274.1" cy="341.1" r="0.8"/><circle cx="274.1" cy="348.3" r="0.7"/><circle cx="276.9" cy="342.8" r="0.6"/><circle cx="273.3" cy="361.3" r="0.9"/><circle cx="251.7" cy="359.2" r="0.9"/><circle cx="271.8" cy="345.2" r="0.8"/><circle cx="257.6" cy="335.5" r="0.7"/><circle cx="266.9" cy="365.1" r="0.7"/><circle cx="270.2" cy="359.5" r="0.6"/><circle cx="267.1" cy="360.8" r="0.7"/><circle cx="252.7" cy="368.0" r="0.7"/><circle cx="273.7" cy="335.9" r="0.9"/><circle cx="273.5" cy="330.5" r="1.0"/><circle cx="276.3" cy="326.0" r="1.0"/><circle cx="276.9" cy="328.3" r="0.8"/><circle cx="275.7" cy="334.6" r="1.2"/><circle cx="267.6" cy="338.2" r="1.3"/><circle cx="277.7" cy="331.0" r="0.7"/><circle cx="273.1" cy="336.1" r="1.1"/><circle cx="270.8" cy="324.4" r="1.1"/><circle cx="279.3" cy="331.8" r="1.0"/><circle cx="248.2" cy="351.2" r="1.0"/><circle cx="246.5" cy="341.5" r="0.6"/><circle cx="249.4" cy="372.9" r="0.7"/><circle cx="244.0" cy="359.2" r="0.8"/><circle cx="251.7" cy="343.5" r="0.8"/><circle cx="250.8" cy="368.4" r="0.8"/><circle cx="247.2" cy="360.2" r="0.6"/><circle cx="245.4" cy="353.2" r="0.9"/><circle cx="249.7" cy="352.3" r="1.1"/><circle cx="241.1" cy="381.3" r="0.9"/><circle cx="246.8" cy="384.3" r="0.9"/><circle cx="240.8" cy="377.6" r="0.9"/><circle cx="260.4" cy="371.8" r="2.5"/><circle cx="263.7" cy="370.1" r="1.3"/></g></g></g>
<rect x="26.9" y="400.0" width="82.9" height="82.0" fill="#0b0000"/><g clip-path="url(#mc4)"><g filter="url(#bl3)"><path d="M62.5,400.0 L64.1,399.3 L66.3,398.8 L68.8,398.4 L71.5,398.1 L74.2,398.1 L76.6,398.4 L78.9,398.9 L81.2,399.7 L83.5,400.7 L85.6,401.8 L87.5,403.0 L89.1,404.1 L90.2,405.2 L90.8,406.4 L91.2,407.6 L91.6,408.8 L92.2,410.1 L93.2,411.5 L94.8,412.9 L96.8,414.4 L99.1,415.9 L101.3,417.4 L103.3,419.0 L104.8,420.5 L106.0,422.0 L106.9,423.5 L107.6,425.0 L108.1,426.5 L108.3,428.0 L108.1,429.5 L107.6,431.0 L106.7,432.6 L105.6,434.1 L104.2,435.7 L102.8,437.1 L101.5,438.5 L100.2,439.9 L98.9,441.1 L97.5,442.3 L96.0,443.5 L94.6,444.7 L93.2,445.9 L91.8,447.2 L90.5,448.4 L89.1,449.7 L87.7,450.9 L86.3,452.1 L84.9,453.3 L83.5,454.4 L82.2,455.5 L80.8,456.5 L79.4,457.6 L78.0,458.7 L76.6,459.9 L75.2,461.0 L73.8,462.2 L72.4,463.4 L71.0,464.7 L69.6,466.2 L68.3,468.1 L67.2,470.4 L66.2,473.3 L65.2,476.5 L64.2,479.4 L63.0,482.0 L61.7,483.6 L60.0,484.5 L57.9,484.9 L55.7,484.7 L53.6,484.2 L52.0,483.2 L50.9,482.0 L50.7,480.3 L51.0,478.0 L51.8,475.4 L52.7,472.6 L53.6,469.8 L54.3,467.2 L54.7,464.9 L55.2,462.6 L55.7,460.3 L56.1,458.0 L56.5,455.7 L56.7,453.3 L56.9,450.8 L57.0,448.3 L57.0,445.8 L57.0,443.2 L56.9,440.8 L56.7,438.5 L56.5,436.4 L56.1,434.4 L55.6,432.5 L55.2,430.7 L55.0,428.9 L55.1,427.1 L55.6,425.2 L56.3,423.4 L57.3,421.6 L58.3,419.8 L59.3,418.1 L60.1,416.4 L60.6,414.8 L61.2,413.2 L61.6,411.7 L62.0,410.2 L62.3,408.8 L62.5,407.4 L62.5,406.0 L62.2,404.6 L61.8,403.2 L61.6,402.0 L61.8,400.9Z" fill="#360000" fill-opacity="0.8"/><ellipse cx="109.0" cy="423.0" rx="4.1" ry="12.3" fill="#900707" fill-opacity="0.9"/></g><g filter="url(#bl2)"><ellipse cx="109.0" cy="424.6" rx="2.9" ry="8.2" fill="#d80c0c" fill-opacity="0.7"/><ellipse cx="109.0" cy="479.5" rx="4.1" ry="4.1" fill="#f00808" fill-opacity="0.6"/></g><g filter="url(#rg1)"><path d="M63.4,416.4 L64.2,415.3 L65.2,414.4 L66.2,413.7 L67.4,413.1 L68.6,412.7 L70.0,412.3 L71.5,412.0 L73.2,411.8 L75.0,411.8 L76.9,411.8 L78.8,412.0 L80.8,412.3 L82.8,412.7 L85.0,413.1 L87.2,413.7 L89.4,414.4 L91.4,415.3 L93.2,416.4 L94.9,417.8 L96.5,419.4 L98.0,421.3 L99.2,423.2 L100.2,425.2 L100.7,427.1 L100.7,428.9 L100.3,430.9 L99.5,432.8 L98.5,434.7 L97.5,436.7 L96.5,438.5 L95.6,440.4 L94.4,442.2 L93.3,444.0 L92.1,445.7 L90.9,447.5 L89.9,449.2 L89.0,450.9 L88.2,452.7 L87.5,454.5 L86.8,456.2 L85.9,457.7 L84.9,459.0 L83.8,460.2 L82.5,461.2 L81.1,462.0 L79.7,462.7 L78.2,463.4 L76.6,464.0 L74.9,464.5 L73.0,464.9 L71.1,465.2 L69.2,465.4 L67.4,465.6 L65.9,465.6 L64.6,465.6 L63.4,465.6 L62.3,465.5 L61.4,465.3 L60.7,464.8 L60.1,464.0 L59.6,462.7 L59.4,461.1 L59.4,459.3 L59.4,457.3 L59.4,455.3 L59.2,453.3 L59.0,451.4 L58.6,449.4 L58.2,447.4 L57.8,445.3 L57.6,443.2 L57.6,441.0 L57.7,438.7 L58.1,436.4 L58.5,433.9 L59.0,431.5 L59.5,429.2 L60.1,427.1 L60.5,425.0 L61.0,423.0 L61.5,421.1 L62.0,419.3 L62.6,417.8Z" fill="#d40e0e" fill-opacity="0.92"/><ellipse cx="78.3" cy="436.1" rx="9.1" ry="14.3" fill="#5a0303" transform="rotate(8 78.3 436.1)"/><ellipse cx="84.1" cy="459.0" rx="2.9" ry="2.9" fill="#ff1a1a"/><path d="M61.7,400.0 L61.7,401.1 L61.7,402.5 L61.7,404.3 L61.7,406.1 L61.7,408.0 L61.7,409.8 L61.8,411.7 L61.8,413.7 L61.9,415.8 L62.0,417.7 L62.1,419.3 L62.1,420.5" fill="none" stroke="#c00a0a" stroke-width="1.0" stroke-linecap="round" stroke-opacity="0.8"/></g><g filter="url(#bl1)"><ellipse cx="78.3" cy="436.1" rx="7.3" ry="11.5" fill="#2a0000" fill-opacity="0.6" transform="rotate(8 78.3 436.1)"/><ellipse cx="84.5" cy="459.4" rx="2.5" ry="2.5" fill="#ff2020" fill-opacity="0.8"/></g></g>
<rect x="119.5" y="399.9" width="82.4" height="82.10000000000002" fill="#0b0000"/><g clip-path="url(#mc5)"><g filter="url(#bl3)"><path d="M153.3,399.9 L153.8,399.2 L154.5,398.9 L155.2,398.9 L156.0,399.1 L156.7,399.5 L157.4,399.9 L157.9,400.4 L158.4,401.1 L158.8,402.0 L159.3,402.9 L159.9,403.9 L160.7,404.8 L161.8,405.9 L163.0,407.0 L164.4,408.2 L165.8,409.4 L167.4,410.5 L168.9,411.4 L170.6,412.1 L172.4,412.6 L174.3,413.1 L176.2,413.5 L178.0,414.0 L179.7,414.7 L181.0,415.5 L182.2,416.3 L183.4,417.2 L184.5,418.2 L185.7,419.2 L187.1,420.4 L188.9,421.7 L191.0,423.2 L193.2,424.7 L195.3,426.3 L196.9,427.9 L197.8,429.5 L197.8,431.1 L197.1,432.7 L196.0,434.3 L194.7,436.0 L193.3,437.7 L192.0,439.3 L190.9,441.0 L189.7,442.7 L188.4,444.3 L187.1,446.0 L185.9,447.6 L184.6,449.2 L183.4,450.6 L182.1,452.1 L180.8,453.5 L179.6,454.8 L178.4,456.1 L177.2,457.4 L176.1,458.6 L175.0,459.7 L174.0,460.8 L173.0,461.9 L171.9,462.9 L170.6,463.9 L169.1,464.9 L167.5,465.7 L165.7,466.5 L164.0,467.3 L162.3,468.4 L160.7,469.7 L159.2,471.5 L157.8,473.8 L156.5,476.3 L155.1,478.7 L153.8,480.7 L152.5,482.0 L151.0,482.7 L149.3,483.0 L147.7,482.9 L146.2,482.4 L145.0,481.6 L144.2,480.4 L144.0,478.6 L144.2,476.3 L144.7,473.6 L145.4,470.8 L146.1,468.1 L146.7,465.6 L147.3,463.4 L147.9,461.4 L148.6,459.4 L149.2,457.5 L149.7,455.4 L150.0,453.3 L150.0,450.9 L149.7,448.5 L149.3,446.0 L148.9,443.4 L148.5,440.9 L148.3,438.5 L148.3,436.1 L148.4,433.8 L148.5,431.5 L148.7,429.2 L148.9,426.8 L149.2,424.5 L149.5,422.2 L149.9,419.8 L150.3,417.3 L150.8,415.0 L151.3,412.7 L151.6,410.6 L151.9,408.5 L152.2,406.4 L152.4,404.4 L152.6,402.5 L152.9,401.0Z" fill="#360000" fill-opacity="0.8"/><ellipse cx="201.1" cy="422.9" rx="4.1" ry="12.3" fill="#900707" fill-opacity="0.9"/></g><g filter="url(#bl2)"><ellipse cx="201.1" cy="424.5" rx="2.9" ry="9.9" fill="#d80c0c" fill-opacity="0.85"/><ellipse cx="199.4" cy="478.7" rx="5.8" ry="6.6" fill="#f00808"/></g><g filter="url(#rg2)"><path d="M154.9,418.0 L155.8,416.9 L156.9,416.1 L158.1,415.3 L159.4,414.7 L160.9,414.2 L162.3,413.9 L163.9,413.6 L165.6,413.3 L167.4,413.2 L169.2,413.3 L171.1,413.5 L173.1,413.9 L175.1,414.4 L177.3,415.2 L179.5,416.1 L181.7,417.2 L183.7,418.3 L185.4,419.6 L187.0,421.0 L188.4,422.5 L189.7,424.2 L190.8,425.9 L191.6,427.7 L192.0,429.5 L192.0,431.3 L191.5,433.2 L190.8,435.2 L189.8,437.2 L188.8,439.1 L187.9,440.9 L186.9,442.7 L185.8,444.4 L184.7,446.0 L183.5,447.6 L182.4,449.2 L181.3,450.8 L180.3,452.4 L179.4,454.1 L178.5,455.7 L177.6,457.2 L176.6,458.6 L175.5,459.8 L174.3,460.8 L173.0,461.7 L171.7,462.3 L170.3,462.9 L168.8,463.5 L167.3,463.9 L165.7,464.4 L164.0,464.8 L162.2,465.2 L160.5,465.4 L158.8,465.6 L157.4,465.6 L156.1,465.5 L154.9,465.4 L153.9,465.2 L152.9,464.8 L152.2,464.1 L151.6,463.1 L151.4,461.6 L151.5,459.7 L151.8,457.5 L152.1,455.2 L152.4,452.9 L152.5,450.8 L152.3,448.8 L152.0,446.9 L151.6,445.1 L151.2,443.2 L150.9,441.3 L150.8,439.3 L150.9,437.3 L151.1,435.1 L151.4,433.0 L151.7,430.9 L152.1,428.9 L152.5,427.0 L152.8,425.2 L153.0,423.6 L153.3,422.0 L153.7,420.5 L154.2,419.1Z" fill="#d40e0e" fill-opacity="0.92"/><ellipse cx="168.9" cy="436.0" rx="9.1" ry="14.4" fill="#5a0303" transform="rotate(8 168.9 436.0)"/><ellipse cx="174.7" cy="459.0" rx="2.9" ry="2.9" fill="#ff1a1a"/><path d="M154.1,399.9 L154.1,401.0 L154.1,402.4 L154.1,404.2 L154.1,406.0 L154.1,407.9 L154.1,409.8 L154.2,411.6 L154.2,413.6 L154.3,415.7 L154.4,417.6 L154.5,419.3 L154.5,420.4" fill="none" stroke="#c00a0a" stroke-width="1.0" stroke-linecap="round" stroke-opacity="0.8"/></g><g filter="url(#bl1)"><ellipse cx="168.9" cy="436.0" rx="7.3" ry="11.5" fill="#2a0000" fill-opacity="0.6" transform="rotate(8 168.9 436.0)"/><ellipse cx="175.1" cy="459.4" rx="2.5" ry="2.5" fill="#ff2020" fill-opacity="0.8"/></g></g>
<rect x="211.6" y="401.0" width="82.7" height="81.80000000000001" fill="#0b0000"/><g clip-path="url(#mc6)"><g filter="url(#bl3)"><path d="M244.7,402.6 L245.2,402.4 L246.0,402.7 L246.9,403.4 L247.9,404.2 L248.8,405.1 L249.6,405.9 L250.3,406.7 L250.9,407.7 L251.4,408.7 L252.0,409.8 L252.8,410.7 L253.8,411.6 L255.1,412.4 L256.6,413.1 L258.3,413.8 L260.1,414.4 L261.9,415.1 L263.7,415.7 L265.4,416.4 L267.0,416.9 L268.7,417.5 L270.4,418.1 L272.3,418.9 L274.5,419.8 L277.1,420.9 L280.3,422.1 L283.7,423.5 L286.8,424.9 L289.4,426.4 L291.0,428.0 L291.6,429.7 L291.3,431.4 L290.5,433.3 L289.4,435.2 L288.1,437.0 L286.9,438.6 L285.6,440.1 L284.1,441.5 L282.5,442.9 L280.8,444.2 L279.2,445.5 L277.8,446.8 L276.5,448.2 L275.4,449.6 L274.3,451.1 L273.3,452.4 L272.3,453.8 L271.1,455.0 L270.0,456.0 L268.8,457.0 L267.7,457.8 L266.5,458.7 L265.1,459.6 L263.7,460.7 L262.1,462.0 L260.4,463.3 L258.5,464.8 L256.7,466.3 L254.8,467.9 L252.9,469.7 L251.1,471.9 L249.2,474.5 L247.2,477.2 L245.4,479.7 L243.7,481.7 L242.2,482.8 L241.0,483.0 L239.9,482.6 L239.0,481.7 L238.2,480.3 L237.7,478.8 L237.2,477.1 L237.0,475.1 L237.1,472.8 L237.3,470.3 L237.6,467.6 L237.9,464.9 L238.1,462.4 L238.3,459.9 L238.5,457.5 L238.8,455.1 L239.0,452.7 L239.0,450.2 L238.9,447.6 L238.4,444.9 L237.5,442.0 L236.4,439.0 L235.5,436.2 L234.8,433.5 L234.8,431.3 L235.4,429.5 L236.6,428.1 L238.1,426.9 L239.7,425.8 L241.1,424.5 L242.2,423.1 L242.9,421.3 L243.5,419.4 L243.9,417.4 L244.2,415.4 L244.5,413.4 L244.7,411.6 L244.8,409.9 L244.7,408.0 L244.5,406.2 L244.4,404.6 L244.4,403.4Z" fill="#360000" fill-opacity="0.8"/><ellipse cx="293.5" cy="423.9" rx="4.1" ry="12.3" fill="#900707" fill-opacity="0.9"/></g><g filter="url(#bl2)"><ellipse cx="293.5" cy="427.2" rx="2.9" ry="11.5" fill="#d80c0c" fill-opacity="0.9"/><ellipse cx="291.0" cy="478.7" rx="6.6" ry="6.5" fill="#f00808"/></g><g filter="url(#rg3)"><path d="M248.0,419.0 L248.9,417.9 L249.9,416.9 L250.9,416.1 L252.1,415.5 L253.3,415.1 L254.6,414.9 L256.0,414.9 L257.6,415.1 L259.3,415.5 L261.0,416.0 L262.7,416.6 L264.5,417.4 L266.4,418.2 L268.4,419.2 L270.5,420.3 L272.5,421.5 L274.4,422.7 L276.1,423.9 L277.7,425.0 L279.4,426.1 L280.9,427.2 L282.2,428.4 L283.1,429.7 L283.5,431.3 L283.3,433.1 L282.6,435.1 L281.5,437.3 L280.2,439.6 L278.9,441.7 L277.8,443.5 L276.8,445.1 L275.8,446.6 L274.9,447.9 L273.9,449.1 L272.9,450.4 L272.0,451.7 L271.0,453.1 L270.1,454.5 L269.2,456.0 L268.3,457.4 L267.3,458.7 L266.2,459.9 L264.9,461.0 L263.6,462.1 L262.2,463.1 L260.8,464.0 L259.3,464.9 L257.9,465.6 L256.5,466.3 L255.1,466.9 L253.7,467.4 L252.3,467.8 L250.9,468.0 L249.6,468.1 L248.4,468.0 L247.1,467.8 L245.8,467.4 L244.7,466.8 L243.7,466.0 L243.0,464.8 L242.7,463.2 L242.6,461.1 L242.7,458.8 L242.9,456.3 L243.0,453.9 L243.0,451.7 L242.8,449.7 L242.4,447.7 L242.0,445.8 L241.7,444.0 L241.4,442.1 L241.4,440.3 L241.5,438.4 L241.8,436.7 L242.3,434.9 L242.8,433.1 L243.3,431.4 L243.9,429.6 L244.4,427.8 L245.0,425.8 L245.7,423.9 L246.4,422.1 L247.1,420.4Z" fill="#d40e0e" fill-opacity="0.92"/><ellipse cx="260.4" cy="437.8" rx="8.7" ry="13.9" fill="#5a0303" transform="rotate(8 260.4 437.8)"/><ellipse cx="266.2" cy="460.7" rx="2.9" ry="2.9" fill="#ff1a1a"/><path d="M246.3,401.0 L246.3,402.1 L246.3,403.5 L246.3,405.2 L246.3,407.1 L246.3,409.0 L246.3,410.8 L246.4,412.7 L246.5,414.7 L246.5,416.7 L246.6,418.7 L246.7,420.3 L246.7,421.4" fill="none" stroke="#c00a0a" stroke-width="1.0" stroke-linecap="round" stroke-opacity="0.8"/></g><g filter="url(#bl1)"><ellipse cx="260.4" cy="437.8" rx="6.9" ry="11.1" fill="#2a0000" fill-opacity="0.6" transform="rotate(8 260.4 437.8)"/><ellipse cx="266.6" cy="461.1" rx="2.5" ry="2.5" fill="#ff2020" fill-opacity="0.8"/></g></g>
<rect x="26.9" y="488.6" width="82.9" height="82.1" fill="#0a0000"/><g clip-path="url(#mc7)"><g filter="url(#bl3)"><path d="M60.1,496.8 L61.3,495.7 L62.8,494.8 L64.4,494.2 L66.2,493.8 L68.1,493.6 L70.0,493.5 L72.0,493.7 L74.2,494.0 L76.4,494.6 L78.7,495.2 L81.0,496.0 L83.3,496.8 L85.6,497.7 L88.1,498.6 L90.6,499.7 L93.1,500.8 L95.3,502.1 L97.4,503.4 L99.2,504.8 L101.0,506.3 L102.6,507.9 L104.0,509.6 L105.1,511.4 L105.7,513.2 L105.7,515.2 L105.3,517.2 L104.5,519.3 L103.5,521.5 L102.5,523.6 L101.5,525.5 L100.6,527.4 L99.5,529.3 L98.4,531.0 L97.2,532.8 L96.1,534.5 L94.9,536.2 L93.7,537.9 L92.5,539.6 L91.3,541.3 L90.1,542.9 L88.8,544.5 L87.4,546.1 L86.0,547.6 L84.5,549.0 L83.0,550.4 L81.5,551.8 L79.9,553.1 L78.3,554.3 L76.7,555.4 L75.0,556.5 L73.4,557.5 L71.7,558.4 L70.0,559.3 L68.3,560.0 L66.7,560.7 L64.9,561.3 L63.2,561.9 L61.5,562.3 L59.9,562.5 L58.4,562.5 L57.0,562.3 L55.7,561.9 L54.5,561.4 L53.4,560.6 L52.5,559.6 L51.8,558.4 L51.4,556.8 L51.3,554.9 L51.4,552.7 L51.5,550.5 L51.7,548.2 L51.8,546.1 L51.8,544.0 L51.7,542.0 L51.7,539.9 L51.6,537.9 L51.7,535.8 L51.8,533.8 L51.9,531.7 L52.1,529.6 L52.4,527.6 L52.7,525.5 L53.0,523.5 L53.4,521.4 L53.9,519.4 L54.4,517.3 L55.0,515.3 L55.6,513.2 L56.2,511.2 L56.7,509.1 L57.2,507.0 L57.6,504.7 L58.0,502.4 L58.5,500.2 L59.1,498.3Z" fill="#3a0a00" fill-opacity="0.8"/><ellipse cx="54.3" cy="498.5" rx="2.5" ry="8.2" fill="#b00a0a" fill-opacity="0.8"/><ellipse cx="109.8" cy="509.1" rx="3.3" ry="9.9" fill="#a00808" fill-opacity="0.8"/></g><g filter="url(#rg1)"><path d="M60.1,496.8 L61.3,495.7 L62.8,494.8 L64.4,494.2 L66.2,493.8 L68.1,493.6 L70.0,493.5 L72.0,493.7 L74.2,494.0 L76.4,494.6 L78.7,495.2 L81.0,496.0 L83.3,496.8 L85.6,497.7 L88.1,498.6 L90.6,499.7 L93.1,500.8 L95.3,502.1 L97.4,503.4 L99.2,504.8 L101.0,506.3 L102.6,507.9 L104.0,509.6 L105.1,511.4 L105.7,513.2 L105.7,515.2 L105.3,517.2 L104.5,519.3 L103.5,521.5 L102.5,523.6 L101.5,525.5 L100.6,527.4 L99.5,529.3 L98.4,531.0 L97.2,532.8 L96.1,534.5 L94.9,536.2 L93.7,537.9 L92.5,539.6 L91.3,541.3 L90.1,542.9 L88.8,544.5 L87.4,546.1 L86.0,547.6 L84.5,549.0 L83.0,550.4 L81.5,551.8 L79.9,553.1 L78.3,554.3 L76.7,555.4 L75.0,556.5 L73.4,557.5 L71.7,558.4 L70.0,559.3 L68.3,560.0 L66.7,560.7 L64.9,561.3 L63.2,561.9 L61.5,562.3 L59.9,562.5 L58.4,562.5 L57.0,562.3 L55.7,561.9 L54.5,561.4 L53.4,560.6 L52.5,559.6 L51.8,558.4 L51.4,556.8 L51.3,554.9 L51.4,552.7 L51.5,550.5 L51.7,548.2 L51.8,546.1 L51.8,544.0 L51.7,542.0 L51.7,539.9 L51.6,537.9 L51.7,535.8 L51.8,533.8 L51.9,531.7 L52.1,529.6 L52.4,527.6 L52.7,525.5 L53.0,523.5 L53.4,521.4 L53.9,519.4 L54.4,517.3 L55.0,515.3 L55.6,513.2 L56.2,511.2 L56.7,509.1 L57.2,507.0 L57.6,504.7 L58.0,502.4 L58.5,500.2 L59.1,498.3Z" fill="#d8260a"/><ellipse cx="75.4" cy="527.2" rx="11.8" ry="18.5" fill="#2a0000" transform="rotate(5 75.4 527.2)"/><ellipse cx="82.0" cy="554.3" rx="3.7" ry="3.3" fill="#ff1a10"/></g><g filter="url(#bl1)"><ellipse cx="75.4" cy="527.2" rx="10.6" ry="16.8" fill="#200000" fill-opacity="0.9" transform="rotate(5 75.4 527.2)"/><ellipse cx="82.4" cy="554.7" rx="4.0" ry="3.7" fill="#ff1c10" fill-opacity="0.6"/></g><g filter="url(#rg2)" opacity="0.4" style="mix-blend-mode:screen"><path d="M60.1,496.8 L61.3,495.7 L62.8,494.8 L64.4,494.2 L66.2,493.8 L68.1,493.6 L70.0,493.5 L72.0,493.7 L74.2,494.0 L76.4,494.6 L78.7,495.2 L81.0,496.0 L83.3,496.8 L85.6,497.7 L88.1,498.6 L90.6,499.7 L93.1,500.8 L95.3,502.1 L97.4,503.4 L99.2,504.8 L101.0,506.3 L102.6,507.9 L104.0,509.6 L105.1,511.4 L105.7,513.2 L105.7,515.2 L105.3,517.2 L104.5,519.3 L103.5,521.5 L102.5,523.6 L101.5,525.5 L100.6,527.4 L99.5,529.3 L98.4,531.0 L97.2,532.8 L96.1,534.5 L94.9,536.2 L93.7,537.9 L92.5,539.6 L91.3,541.3 L90.1,542.9 L88.8,544.5 L87.4,546.1 L86.0,547.6 L84.5,549.0 L83.0,550.4 L81.5,551.8 L79.9,553.1 L78.3,554.3 L76.7,555.4 L75.0,556.5 L73.4,557.5 L71.7,558.4 L70.0,559.3 L68.3,560.0 L66.7,560.7 L64.9,561.3 L63.2,561.9 L61.5,562.3 L59.9,562.5 L58.4,562.5 L57.0,562.3 L55.7,561.9 L54.5,561.4 L53.4,560.6 L52.5,559.6 L51.8,558.4 L51.4,556.8 L51.3,554.9 L51.4,552.7 L51.5,550.5 L51.7,548.2 L51.8,546.1 L51.8,544.0 L51.7,542.0 L51.7,539.9 L51.6,537.9 L51.7,535.8 L51.8,533.8 L51.9,531.7 L52.1,529.6 L52.4,527.6 L52.7,525.5 L53.0,523.5 L53.4,521.4 L53.9,519.4 L54.4,517.3 L55.0,515.3 L55.6,513.2 L56.2,511.2 L56.7,509.1 L57.2,507.0 L57.6,504.7 L58.0,502.4 L58.5,500.2 L59.1,498.3Z" fill="#2a8a10"/><ellipse cx="75.4" cy="527.2" rx="12.3" ry="19.4" fill="#000000" transform="rotate(5 75.4 527.2)"/></g><g filter="url(#bl05)"><g fill="#b0a010" fill-opacity="0.8"><circle cx="64.2" cy="513.8" r="0.7"/><circle cx="61.8" cy="549.7" r="0.9"/><circle cx="64.7" cy="517.2" r="0.9"/><circle cx="65.5" cy="539.9" r="0.8"/><circle cx="91.1" cy="545.1" r="1.0"/><circle cx="56.1" cy="522.8" r="1.0"/><circle cx="66.8" cy="555.0" r="1.0"/><circle cx="89.7" cy="523.0" r="0.9"/><circle cx="92.7" cy="540.3" r="1.0"/><circle cx="82.8" cy="507.3" r="1.2"/><circle cx="78.1" cy="498.7" r="0.7"/><circle cx="87.4" cy="500.5" r="1.1"/><circle cx="57.7" cy="534.5" r="0.8"/><circle cx="79.8" cy="555.8" r="1.0"/><circle cx="86.5" cy="514.2" r="0.9"/><circle cx="82.4" cy="511.2" r="1.0"/><circle cx="61.5" cy="531.6" r="1.1"/><circle cx="68.5" cy="507.8" r="1.1"/><circle cx="87.8" cy="525.8" r="1.2"/><circle cx="71.6" cy="549.6" r="0.8"/><circle cx="91.2" cy="536.6" r="0.8"/><circle cx="59.4" cy="508.2" r="1.1"/><circle cx="79.9" cy="544.8" r="1.1"/><circle cx="53.8" cy="521.9" r="0.9"/><circle cx="62.4" cy="515.8" r="0.7"/><circle cx="58.5" cy="526.7" r="0.9"/></g><g fill="#35ee20" fill-opacity="0.95"><circle cx="92.0" cy="527.5" r="0.8"/><circle cx="87.4" cy="528.8" r="0.8"/><circle cx="82.9" cy="539.9" r="1.2"/><circle cx="68.6" cy="545.9" r="0.9"/><circle cx="61.7" cy="532.6" r="1.0"/><circle cx="64.0" cy="517.3" r="1.0"/><circle cx="81.3" cy="543.4" r="0.9"/><circle cx="66.7" cy="543.5" r="1.0"/><circle cx="71.7" cy="505.4" r="0.8"/><circle cx="88.1" cy="529.2" r="0.8"/><circle cx="82.5" cy="503.3" r="0.8"/><circle cx="83.4" cy="503.3" r="1.1"/><circle cx="63.5" cy="517.8" r="1.1"/><circle cx="72.4" cy="547.4" r="1.1"/><circle cx="73.1" cy="553.6" r="0.9"/><circle cx="86.5" cy="542.7" r="0.9"/><circle cx="61.0" cy="537.1" r="0.8"/><circle cx="79.1" cy="550.0" r="1.2"/><circle cx="84.7" cy="537.8" r="0.8"/><circle cx="83.9" cy="538.4" r="1.1"/><circle cx="62.1" cy="525.0" r="0.9"/><circle cx="62.5" cy="536.3" r="1.2"/><circle cx="85.4" cy="540.8" r="1.0"/><circle cx="85.1" cy="542.2" r="0.8"/><circle cx="72.7" cy="510.2" r="0.8"/><circle cx="82.1" cy="541.1" r="1.1"/><circle cx="77.2" cy="552.4" r="1.0"/><circle cx="89.0" cy="530.4" r="1.3"/><circle cx="82.1" cy="502.0" r="0.8"/><circle cx="83.3" cy="540.4" r="1.1"/><circle cx="85.3" cy="515.7" r="0.8"/><circle cx="62.0" cy="525.3" r="0.9"/><circle cx="58.1" cy="538.7" r="0.8"/><circle cx="76.1" cy="508.4" r="1.0"/><circle cx="63.6" cy="528.5" r="1.3"/><circle cx="70.2" cy="506.2" r="1.3"/><circle cx="68.2" cy="513.7" r="0.9"/><circle cx="76.5" cy="554.1" r="1.3"/><circle cx="74.2" cy="501.9" r="1.0"/><circle cx="90.9" cy="540.8" r="1.2"/><circle cx="96.6" cy="505.7" r="1.2"/><circle cx="89.7" cy="508.0" r="1.6"/><circle cx="92.6" cy="506.7" r="1.3"/><circle cx="91.6" cy="513.3" r="1.3"/><circle cx="89.8" cy="513.5" r="1.6"/><circle cx="96.1" cy="504.5" r="1.5"/><circle cx="90.6" cy="514.6" r="1.3"/><circle cx="92.2" cy="508.7" r="1.4"/><circle cx="88.4" cy="505.0" r="1.2"/><circle cx="85.5" cy="505.4" r="1.2"/><circle cx="89.9" cy="505.7" r="1.5"/><circle cx="85.4" cy="503.6" r="1.1"/><circle cx="94.3" cy="506.1" r="1.6"/><circle cx="91.8" cy="507.2" r="1.2"/><circle cx="88.9" cy="510.9" r="1.1"/><circle cx="101.1" cy="513.2" r="1.0"/><circle cx="62.3" cy="526.6" r="0.9"/><circle cx="57.2" cy="550.3" r="0.9"/><circle cx="60.8" cy="542.5" r="1.1"/><circle cx="62.9" cy="535.4" r="0.8"/><circle cx="53.9" cy="531.3" r="1.2"/><circle cx="58.7" cy="550.3" r="1.0"/><circle cx="55.9" cy="541.5" r="0.9"/><circle cx="51.9" cy="535.9" r="1.2"/><circle cx="58.3" cy="538.3" r="1.2"/><circle cx="62.5" cy="537.2" r="1.1"/><circle cx="63.0" cy="530.7" r="1.2"/><circle cx="55.8" cy="533.0" r="1.0"/><circle cx="59.4" cy="535.0" r="1.1"/><circle cx="59.8" cy="543.7" r="1.0"/><circle cx="52.4" cy="562.5" r="1.0"/><circle cx="55.0" cy="568.1" r="1.0"/><circle cx="52.4" cy="563.3" r="1.0"/></g></g></g>
<rect x="119.5" y="488.6" width="82.4" height="82.1" fill="#0a0000"/><g clip-path="url(#mc8)"><g filter="url(#bl3)"><path d="M149.2,498.5 L150.5,497.6 L152.2,497.1 L154.2,496.8 L156.4,496.7 L158.6,496.7 L160.7,496.8 L162.8,497.0 L165.0,497.4 L167.2,497.9 L169.4,498.6 L171.7,499.3 L173.9,500.1 L176.1,500.9 L178.4,501.9 L180.7,502.9 L183.0,504.0 L185.1,505.2 L187.1,506.7 L189.0,508.3 L190.9,510.1 L192.7,512.1 L194.2,514.1 L195.4,516.2 L196.1,518.2 L196.2,520.1 L195.8,522.0 L195.1,524.0 L194.1,525.9 L193.0,527.8 L192.0,529.6 L191.1,531.4 L190.0,533.1 L188.9,534.8 L187.7,536.4 L186.5,538.0 L185.4,539.5 L184.3,541.0 L183.3,542.4 L182.2,543.8 L181.1,545.2 L180.0,546.5 L178.8,547.7 L177.6,548.9 L176.3,550.0 L174.9,551.1 L173.5,552.2 L172.1,553.2 L170.6,554.3 L169.1,555.4 L167.5,556.6 L165.8,557.8 L164.2,558.9 L162.5,559.9 L160.7,560.8 L158.8,561.7 L156.8,562.5 L154.7,563.3 L152.6,563.8 L150.8,564.1 L149.2,564.1 L147.8,563.8 L146.6,563.1 L145.5,562.2 L144.6,561.1 L143.9,559.8 L143.4,558.4 L143.2,556.7 L143.2,554.8 L143.4,552.6 L143.8,550.4 L144.1,548.2 L144.2,546.1 L144.2,544.0 L144.2,542.0 L144.2,539.9 L144.1,537.9 L144.1,535.8 L144.2,533.8 L144.4,531.7 L144.6,529.6 L144.9,527.6 L145.3,525.5 L145.6,523.5 L145.9,521.4 L146.1,519.4 L146.4,517.3 L146.7,515.2 L147.0,513.1 L147.2,511.1 L147.5,509.1 L147.7,507.1 L147.7,505.1 L147.7,503.1 L147.9,501.3 L148.3,499.7Z" fill="#3a0a00" fill-opacity="0.8"/><ellipse cx="146.7" cy="498.5" rx="2.5" ry="8.2" fill="#b00a0a" fill-opacity="0.8"/><ellipse cx="201.9" cy="509.1" rx="3.3" ry="9.9" fill="#a00808" fill-opacity="0.8"/></g><g filter="url(#rg2)"><path d="M149.2,498.5 L150.5,497.6 L152.2,497.1 L154.2,496.8 L156.4,496.7 L158.6,496.7 L160.7,496.8 L162.8,497.0 L165.0,497.4 L167.2,497.9 L169.4,498.6 L171.7,499.3 L173.9,500.1 L176.1,500.9 L178.4,501.9 L180.7,502.9 L183.0,504.0 L185.1,505.2 L187.1,506.7 L189.0,508.3 L190.9,510.1 L192.7,512.1 L194.2,514.1 L195.4,516.2 L196.1,518.2 L196.2,520.1 L195.8,522.0 L195.1,524.0 L194.1,525.9 L193.0,527.8 L192.0,529.6 L191.1,531.4 L190.0,533.1 L188.9,534.8 L187.7,536.4 L186.5,538.0 L185.4,539.5 L184.3,541.0 L183.3,542.4 L182.2,543.8 L181.1,545.2 L180.0,546.5 L178.8,547.7 L177.6,548.9 L176.3,550.0 L174.9,551.1 L173.5,552.2 L172.1,553.2 L170.6,554.3 L169.1,555.4 L167.5,556.6 L165.8,557.8 L164.2,558.9 L162.5,559.9 L160.7,560.8 L158.8,561.7 L156.8,562.5 L154.7,563.3 L152.6,563.8 L150.8,564.1 L149.2,564.1 L147.8,563.8 L146.6,563.1 L145.5,562.2 L144.6,561.1 L143.9,559.8 L143.4,558.4 L143.2,556.7 L143.2,554.8 L143.4,552.6 L143.8,550.4 L144.1,548.2 L144.2,546.1 L144.2,544.0 L144.2,542.0 L144.2,539.9 L144.1,537.9 L144.1,535.8 L144.2,533.8 L144.4,531.7 L144.6,529.6 L144.9,527.6 L145.3,525.5 L145.6,523.5 L145.9,521.4 L146.1,519.4 L146.4,517.3 L146.7,515.2 L147.0,513.1 L147.2,511.1 L147.5,509.1 L147.7,507.1 L147.7,505.1 L147.7,503.1 L147.9,501.3 L148.3,499.7Z" fill="#d8260a"/><ellipse cx="167.3" cy="528.0" rx="11.7" ry="19.0" fill="#2a0000" transform="rotate(5 167.3 528.0)"/><ellipse cx="173.9" cy="555.1" rx="3.7" ry="3.3" fill="#ff1a10"/></g><g filter="url(#bl1)"><ellipse cx="167.3" cy="528.0" rx="10.6" ry="17.2" fill="#200000" fill-opacity="0.9" transform="rotate(5 167.3 528.0)"/><ellipse cx="174.3" cy="555.5" rx="4.0" ry="3.7" fill="#ff1c10" fill-opacity="0.95"/></g><g filter="url(#rg3)" opacity="0.42" style="mix-blend-mode:screen"><path d="M149.2,498.5 L150.5,497.6 L152.2,497.1 L154.2,496.8 L156.4,496.7 L158.6,496.7 L160.7,496.8 L162.8,497.0 L165.0,497.4 L167.2,497.9 L169.4,498.6 L171.7,499.3 L173.9,500.1 L176.1,500.9 L178.4,501.9 L180.7,502.9 L183.0,504.0 L185.1,505.2 L187.1,506.7 L189.0,508.3 L190.9,510.1 L192.7,512.1 L194.2,514.1 L195.4,516.2 L196.1,518.2 L196.2,520.1 L195.8,522.0 L195.1,524.0 L194.1,525.9 L193.0,527.8 L192.0,529.6 L191.1,531.4 L190.0,533.1 L188.9,534.8 L187.7,536.4 L186.5,538.0 L185.4,539.5 L184.3,541.0 L183.3,542.4 L182.2,543.8 L181.1,545.2 L180.0,546.5 L178.8,547.7 L177.6,548.9 L176.3,550.0 L174.9,551.1 L173.5,552.2 L172.1,553.2 L170.6,554.3 L169.1,555.4 L167.5,556.6 L165.8,557.8 L164.2,558.9 L162.5,559.9 L160.7,560.8 L158.8,561.7 L156.8,562.5 L154.7,563.3 L152.6,563.8 L150.8,564.1 L149.2,564.1 L147.8,563.8 L146.6,563.1 L145.5,562.2 L144.6,561.1 L143.9,559.8 L143.4,558.4 L143.2,556.7 L143.2,554.8 L143.4,552.6 L143.8,550.4 L144.1,548.2 L144.2,546.1 L144.2,544.0 L144.2,542.0 L144.2,539.9 L144.1,537.9 L144.1,535.8 L144.2,533.8 L144.4,531.7 L144.6,529.6 L144.9,527.6 L145.3,525.5 L145.6,523.5 L145.9,521.4 L146.1,519.4 L146.4,517.3 L146.7,515.2 L147.0,513.1 L147.2,511.1 L147.5,509.1 L147.7,507.1 L147.7,505.1 L147.7,503.1 L147.9,501.3 L148.3,499.7Z" fill="#4a9010"/><ellipse cx="167.3" cy="528.0" rx="12.2" ry="19.9" fill="#000000" transform="rotate(5 167.3 528.0)"/></g><g filter="url(#bl05)"><g fill="#c8b010" fill-opacity="0.8"><circle cx="149.8" cy="543.8" r="0.9"/><circle cx="153.5" cy="532.0" r="1.0"/><circle cx="163.9" cy="559.6" r="0.8"/><circle cx="179.6" cy="524.8" r="0.9"/><circle cx="147.9" cy="516.0" r="1.1"/><circle cx="158.5" cy="551.9" r="1.1"/><circle cx="174.1" cy="554.8" r="1.1"/><circle cx="181.0" cy="524.7" r="1.1"/><circle cx="145.9" cy="534.5" r="1.1"/><circle cx="188.2" cy="533.3" r="1.1"/><circle cx="160.0" cy="558.4" r="0.8"/><circle cx="184.5" cy="520.0" r="0.7"/><circle cx="174.5" cy="508.6" r="0.7"/><circle cx="172.2" cy="543.9" r="0.9"/><circle cx="159.8" cy="557.6" r="0.9"/><circle cx="175.3" cy="539.1" r="1.1"/><circle cx="182.3" cy="549.2" r="1.1"/><circle cx="152.4" cy="516.0" r="0.8"/><circle cx="180.4" cy="516.9" r="0.8"/><circle cx="150.5" cy="512.3" r="1.2"/><circle cx="156.0" cy="541.0" r="0.9"/><circle cx="179.7" cy="545.4" r="0.8"/><circle cx="159.2" cy="555.0" r="1.2"/><circle cx="158.1" cy="512.8" r="1.2"/><circle cx="154.4" cy="512.6" r="0.9"/><circle cx="175.8" cy="509.5" r="0.8"/></g><g fill="#70e818" fill-opacity="0.95"><circle cx="157.3" cy="543.2" r="0.8"/><circle cx="177.1" cy="546.7" r="0.8"/><circle cx="179.5" cy="510.8" r="1.2"/><circle cx="162.9" cy="512.0" r="1.2"/><circle cx="181.1" cy="533.0" r="1.2"/><circle cx="151.0" cy="518.3" r="1.0"/><circle cx="171.2" cy="507.0" r="0.9"/><circle cx="159.2" cy="510.2" r="0.9"/><circle cx="172.7" cy="507.6" r="1.3"/><circle cx="153.2" cy="524.8" r="1.3"/><circle cx="153.8" cy="522.3" r="1.1"/><circle cx="155.7" cy="526.6" r="0.8"/><circle cx="161.1" cy="550.5" r="1.0"/><circle cx="154.5" cy="537.5" r="1.2"/><circle cx="158.1" cy="542.3" r="0.8"/><circle cx="172.3" cy="508.4" r="0.9"/><circle cx="173.9" cy="541.8" r="1.3"/><circle cx="179.9" cy="532.7" r="0.8"/><circle cx="163.0" cy="554.0" r="0.7"/><circle cx="182.0" cy="522.9" r="1.0"/><circle cx="149.9" cy="523.9" r="0.8"/><circle cx="154.5" cy="529.6" r="1.1"/><circle cx="167.7" cy="554.4" r="1.0"/><circle cx="185.4" cy="527.6" r="1.1"/><circle cx="181.1" cy="531.5" r="1.1"/><circle cx="152.5" cy="521.0" r="0.8"/><circle cx="177.4" cy="543.4" r="1.1"/><circle cx="183.8" cy="533.4" r="0.9"/><circle cx="158.4" cy="548.0" r="1.1"/><circle cx="172.3" cy="550.4" r="1.2"/><circle cx="157.1" cy="551.5" r="1.2"/><circle cx="177.0" cy="509.0" r="1.1"/><circle cx="181.9" cy="531.5" r="1.3"/><circle cx="179.1" cy="525.9" r="1.3"/><circle cx="172.2" cy="547.9" r="0.8"/><circle cx="169.4" cy="551.3" r="1.2"/><circle cx="154.6" cy="546.1" r="1.0"/><circle cx="171.2" cy="544.8" r="1.2"/><circle cx="149.1" cy="534.2" r="0.9"/><circle cx="180.2" cy="544.9" r="1.2"/><circle cx="186.2" cy="509.7" r="1.5"/><circle cx="185.4" cy="517.7" r="1.4"/><circle cx="182.6" cy="512.3" r="1.3"/><circle cx="180.8" cy="505.8" r="1.5"/><circle cx="184.0" cy="513.8" r="0.9"/><circle cx="187.8" cy="515.2" r="1.5"/><circle cx="182.7" cy="505.8" r="1.3"/><circle cx="183.5" cy="511.2" r="1.4"/><circle cx="185.9" cy="516.0" r="1.5"/><circle cx="185.9" cy="511.0" r="1.0"/><circle cx="186.6" cy="519.0" r="1.4"/><circle cx="180.6" cy="506.9" r="1.3"/><circle cx="180.4" cy="509.9" r="1.1"/><circle cx="183.4" cy="513.4" r="1.2"/><circle cx="181.2" cy="508.5" r="1.1"/><circle cx="182.0" cy="504.6" r="1.0"/><circle cx="147.0" cy="540.3" r="1.2"/><circle cx="151.2" cy="540.8" r="1.1"/><circle cx="151.1" cy="534.3" r="0.9"/><circle cx="149.3" cy="530.2" r="0.7"/><circle cx="154.3" cy="528.7" r="0.8"/><circle cx="152.8" cy="539.5" r="1.1"/><circle cx="148.5" cy="509.1" r="0.7"/><circle cx="146.3" cy="528.7" r="0.8"/><circle cx="150.6" cy="554.7" r="1.1"/><circle cx="152.5" cy="532.9" r="1.2"/><circle cx="153.2" cy="530.1" r="0.7"/><circle cx="154.7" cy="526.5" r="1.2"/><circle cx="148.1" cy="526.0" r="0.8"/><circle cx="156.5" cy="542.2" r="1.1"/><circle cx="147.3" cy="566.2" r="1.0"/><circle cx="145.2" cy="566.8" r="1.0"/><circle cx="148.8" cy="567.5" r="1.0"/></g></g><path d="M184.6,509.6 L182.6,503.9 L187.2,504.1 Z" fill="#fff"/><path d="M145.4,541.7 L139.4,544.0 L139.4,539.4 Z" fill="#fff"/></g>
<rect x="211.6" y="488.6" width="82.7" height="82.1" fill="#0a0000"/><g clip-path="url(#mc9)"><g filter="url(#bl3)"><path d="M244.7,498.5 L245.8,497.8 L247.1,497.5 L248.4,497.5 L249.8,497.8 L251.3,498.1 L252.9,498.5 L254.7,498.9 L256.6,499.5 L258.5,500.1 L260.5,500.9 L262.6,501.7 L264.5,502.6 L266.5,503.4 L268.4,504.1 L270.4,505.0 L272.4,505.9 L274.3,507.0 L276.1,508.3 L278.0,509.9 L280.1,511.8 L282.1,513.8 L283.9,515.9 L285.3,517.9 L286.0,519.8 L286.1,521.6 L285.5,523.3 L284.5,524.9 L283.3,526.5 L282.1,528.1 L281.1,529.6 L280.3,531.1 L279.5,532.5 L278.7,533.9 L277.9,535.2 L277.0,536.5 L276.1,537.9 L275.1,539.2 L274.1,540.6 L273.0,542.0 L271.9,543.3 L270.7,544.7 L269.5,546.1 L268.2,547.5 L266.9,548.9 L265.6,550.3 L264.2,551.7 L262.7,553.0 L261.2,554.3 L259.7,555.5 L258.1,556.7 L256.5,557.8 L254.8,558.9 L253.1,559.9 L251.3,560.8 L249.3,561.8 L247.1,562.8 L244.8,563.7 L242.6,564.5 L240.6,564.9 L238.9,565.0 L237.6,564.5 L236.5,563.8 L235.6,562.7 L234.9,561.4 L234.3,559.9 L233.9,558.4 L233.7,556.7 L233.8,554.7 L234.0,552.6 L234.3,550.4 L234.6,548.2 L234.8,546.1 L234.9,544.0 L235.0,542.0 L235.2,539.9 L235.3,537.9 L235.4,535.8 L235.6,533.8 L235.7,531.7 L235.8,529.6 L235.8,527.6 L236.0,525.5 L236.1,523.5 L236.4,521.4 L236.8,519.4 L237.3,517.3 L237.8,515.2 L238.4,513.1 L239.0,511.1 L239.7,509.1 L240.4,507.1 L241.1,505.1 L241.9,503.0 L242.7,501.2 L243.6,499.6Z" fill="#3a0a00" fill-opacity="0.8"/><ellipse cx="238.9" cy="498.5" rx="2.5" ry="8.2" fill="#b00a0a" fill-opacity="0.8"/><ellipse cx="294.3" cy="509.1" rx="3.3" ry="9.9" fill="#a00808" fill-opacity="0.8"/></g><g filter="url(#rg3)"><path d="M244.7,498.5 L245.8,497.8 L247.1,497.5 L248.4,497.5 L249.8,497.8 L251.3,498.1 L252.9,498.5 L254.7,498.9 L256.6,499.5 L258.5,500.1 L260.5,500.9 L262.6,501.7 L264.5,502.6 L266.5,503.4 L268.4,504.1 L270.4,505.0 L272.4,505.9 L274.3,507.0 L276.1,508.3 L278.0,509.9 L280.1,511.8 L282.1,513.8 L283.9,515.9 L285.3,517.9 L286.0,519.8 L286.1,521.6 L285.5,523.3 L284.5,524.9 L283.3,526.5 L282.1,528.1 L281.1,529.6 L280.3,531.1 L279.5,532.5 L278.7,533.9 L277.9,535.2 L277.0,536.5 L276.1,537.9 L275.1,539.2 L274.1,540.6 L273.0,542.0 L271.9,543.3 L270.7,544.7 L269.5,546.1 L268.2,547.5 L266.9,548.9 L265.6,550.3 L264.2,551.7 L262.7,553.0 L261.2,554.3 L259.7,555.5 L258.1,556.7 L256.5,557.8 L254.8,558.9 L253.1,559.9 L251.3,560.8 L249.3,561.8 L247.1,562.8 L244.8,563.7 L242.6,564.5 L240.6,564.9 L238.9,565.0 L237.6,564.5 L236.5,563.8 L235.6,562.7 L234.9,561.4 L234.3,559.9 L233.9,558.4 L233.7,556.7 L233.8,554.7 L234.0,552.6 L234.3,550.4 L234.6,548.2 L234.8,546.1 L234.9,544.0 L235.0,542.0 L235.2,539.9 L235.3,537.9 L235.4,535.8 L235.6,533.8 L235.7,531.7 L235.8,529.6 L235.8,527.6 L236.0,525.5 L236.1,523.5 L236.4,521.4 L236.8,519.4 L237.3,517.3 L237.8,515.2 L238.4,513.1 L239.0,511.1 L239.7,509.1 L240.4,507.1 L241.1,505.1 L241.9,503.0 L242.7,501.2 L243.6,499.6Z" fill="#d8260a"/><ellipse cx="257.1" cy="528.0" rx="11.3" ry="19.0" fill="#2a0000" transform="rotate(5 257.1 528.0)"/><ellipse cx="263.7" cy="555.1" rx="3.7" ry="3.3" fill="#ff1a10"/></g><g filter="url(#bl1)"><ellipse cx="257.1" cy="528.0" rx="10.2" ry="17.2" fill="#200000" fill-opacity="0.9" transform="rotate(5 257.1 528.0)"/><ellipse cx="264.1" cy="555.5" rx="4.0" ry="3.7" fill="#ff1c10" fill-opacity="0.95"/></g><g filter="url(#rg1)" opacity="0.48" style="mix-blend-mode:screen"><path d="M244.7,498.5 L245.8,497.8 L247.1,497.5 L248.4,497.5 L249.8,497.8 L251.3,498.1 L252.9,498.5 L254.7,498.9 L256.6,499.5 L258.5,500.1 L260.5,500.9 L262.6,501.7 L264.5,502.6 L266.5,503.4 L268.4,504.1 L270.4,505.0 L272.4,505.9 L274.3,507.0 L276.1,508.3 L278.0,509.9 L280.1,511.8 L282.1,513.8 L283.9,515.9 L285.3,517.9 L286.0,519.8 L286.1,521.6 L285.5,523.3 L284.5,524.9 L283.3,526.5 L282.1,528.1 L281.1,529.6 L280.3,531.1 L279.5,532.5 L278.7,533.9 L277.9,535.2 L277.0,536.5 L276.1,537.9 L275.1,539.2 L274.1,540.6 L273.0,542.0 L271.9,543.3 L270.7,544.7 L269.5,546.1 L268.2,547.5 L266.9,548.9 L265.6,550.3 L264.2,551.7 L262.7,553.0 L261.2,554.3 L259.7,555.5 L258.1,556.7 L256.5,557.8 L254.8,558.9 L253.1,559.9 L251.3,560.8 L249.3,561.8 L247.1,562.8 L244.8,563.7 L242.6,564.5 L240.6,564.9 L238.9,565.0 L237.6,564.5 L236.5,563.8 L235.6,562.7 L234.9,561.4 L234.3,559.9 L233.9,558.4 L233.7,556.7 L233.8,554.7 L234.0,552.6 L234.3,550.4 L234.6,548.2 L234.8,546.1 L234.9,544.0 L235.0,542.0 L235.2,539.9 L235.3,537.9 L235.4,535.8 L235.6,533.8 L235.7,531.7 L235.8,529.6 L235.8,527.6 L236.0,525.5 L236.1,523.5 L236.4,521.4 L236.8,519.4 L237.3,517.3 L237.8,515.2 L238.4,513.1 L239.0,511.1 L239.7,509.1 L240.4,507.1 L241.1,505.1 L241.9,503.0 L242.7,501.2 L243.6,499.6Z" fill="#6a9a10"/><ellipse cx="257.1" cy="528.0" rx="11.8" ry="19.9" fill="#000000" transform="rotate(5 257.1 528.0)"/></g><g filter="url(#bl05)"><g fill="#e0c010" fill-opacity="0.8"><circle cx="273.6" cy="524.0" r="1.0"/><circle cx="244.1" cy="530.0" r="0.7"/><circle cx="242.9" cy="541.5" r="1.1"/><circle cx="243.6" cy="553.8" r="0.8"/><circle cx="252.2" cy="513.3" r="0.8"/><circle cx="269.7" cy="552.1" r="1.0"/><circle cx="239.3" cy="516.4" r="1.2"/><circle cx="241.1" cy="547.6" r="0.8"/><circle cx="254.0" cy="499.4" r="0.9"/><circle cx="248.9" cy="504.0" r="0.7"/><circle cx="259.8" cy="508.6" r="0.8"/><circle cx="256.0" cy="549.0" r="1.2"/><circle cx="238.0" cy="538.6" r="0.8"/><circle cx="255.7" cy="544.7" r="0.9"/><circle cx="273.2" cy="521.8" r="1.1"/><circle cx="261.7" cy="543.5" r="0.8"/><circle cx="275.1" cy="521.5" r="1.2"/><circle cx="261.0" cy="507.9" r="0.8"/><circle cx="248.8" cy="515.0" r="0.9"/><circle cx="244.4" cy="522.0" r="1.2"/><circle cx="275.2" cy="540.7" r="0.7"/><circle cx="272.3" cy="524.7" r="0.8"/><circle cx="245.9" cy="507.5" r="0.9"/><circle cx="239.1" cy="530.5" r="0.8"/><circle cx="247.9" cy="552.7" r="0.9"/><circle cx="266.7" cy="508.5" r="1.1"/></g><g fill="#b8e810" fill-opacity="0.95"><circle cx="245.5" cy="521.4" r="0.9"/><circle cx="244.5" cy="518.9" r="1.1"/><circle cx="251.7" cy="505.5" r="0.8"/><circle cx="270.5" cy="509.0" r="0.9"/><circle cx="269.9" cy="516.2" r="0.9"/><circle cx="270.8" cy="538.6" r="1.1"/><circle cx="251.2" cy="509.1" r="0.8"/><circle cx="272.3" cy="529.8" r="1.1"/><circle cx="273.6" cy="521.9" r="1.0"/><circle cx="268.3" cy="526.6" r="1.3"/><circle cx="243.1" cy="525.0" r="1.1"/><circle cx="246.8" cy="545.3" r="1.2"/><circle cx="253.0" cy="502.3" r="1.0"/><circle cx="261.0" cy="549.0" r="1.1"/><circle cx="249.3" cy="549.5" r="1.1"/><circle cx="248.8" cy="540.3" r="1.1"/><circle cx="249.2" cy="553.9" r="0.7"/><circle cx="254.7" cy="505.2" r="1.2"/><circle cx="268.5" cy="506.7" r="1.1"/><circle cx="250.1" cy="506.3" r="1.1"/><circle cx="243.4" cy="529.4" r="0.8"/><circle cx="244.4" cy="541.1" r="1.2"/><circle cx="255.8" cy="554.7" r="1.2"/><circle cx="246.0" cy="546.8" r="1.3"/><circle cx="270.7" cy="512.3" r="0.9"/><circle cx="245.7" cy="541.4" r="0.9"/><circle cx="240.4" cy="534.1" r="1.1"/><circle cx="251.8" cy="551.4" r="1.0"/><circle cx="266.4" cy="540.2" r="0.9"/><circle cx="269.9" cy="541.0" r="1.1"/><circle cx="243.7" cy="547.3" r="0.9"/><circle cx="260.4" cy="548.7" r="1.0"/><circle cx="261.3" cy="547.3" r="1.1"/><circle cx="250.0" cy="514.4" r="1.1"/><circle cx="248.3" cy="517.1" r="0.9"/><circle cx="255.4" cy="502.7" r="1.2"/><circle cx="246.4" cy="550.2" r="1.0"/><circle cx="251.3" cy="510.6" r="0.9"/><circle cx="263.4" cy="543.0" r="1.1"/><circle cx="269.2" cy="542.0" r="1.0"/><circle cx="271.1" cy="514.0" r="1.5"/><circle cx="269.6" cy="507.2" r="1.3"/><circle cx="272.0" cy="509.5" r="1.1"/><circle cx="277.9" cy="505.0" r="1.4"/><circle cx="278.3" cy="508.5" r="1.4"/><circle cx="274.4" cy="508.1" r="1.2"/><circle cx="273.1" cy="507.4" r="1.4"/><circle cx="274.1" cy="510.6" r="1.1"/><circle cx="271.1" cy="502.9" r="1.2"/><circle cx="271.0" cy="506.4" r="1.1"/><circle cx="274.3" cy="513.7" r="1.6"/><circle cx="269.9" cy="506.8" r="1.3"/><circle cx="268.0" cy="505.7" r="1.3"/><circle cx="269.8" cy="509.1" r="1.4"/><circle cx="277.1" cy="507.2" r="1.0"/><circle cx="269.1" cy="514.3" r="1.0"/><circle cx="241.6" cy="533.2" r="1.2"/><circle cx="240.4" cy="525.4" r="1.0"/><circle cx="243.2" cy="530.4" r="1.2"/><circle cx="242.0" cy="535.8" r="1.3"/><circle cx="235.0" cy="534.5" r="0.8"/><circle cx="241.9" cy="527.7" r="1.1"/><circle cx="239.5" cy="538.6" r="1.0"/><circle cx="243.0" cy="532.4" r="0.9"/><circle cx="239.9" cy="527.5" r="0.7"/><circle cx="239.0" cy="539.4" r="1.2"/><circle cx="238.9" cy="525.6" r="1.0"/><circle cx="240.0" cy="544.8" r="1.2"/><circle cx="238.3" cy="546.8" r="0.8"/><circle cx="237.5" cy="558.0" r="0.9"/><circle cx="237.9" cy="565.0" r="1.0"/><circle cx="240.3" cy="567.8" r="1.0"/><circle cx="237.7" cy="568.1" r="1.0"/></g></g><path d="M272.5,510.9 L274.6,505.1 L278.0,508.1 Z" fill="#fff"/><path d="M275.8,517.1 L279.7,512.5 L281.9,516.5 Z" fill="#fff"/><path d="M236.3,535.4 L230.6,535.0 L232.6,531.0 Z" fill="#fff"/><path d="M256.1,553.7 L259.2,558.9 L254.6,559.5 Z" fill="#fff"/><rect x="267.2" y="561.6" width="19.8" height="3.3" fill="#fff"/></g>
<rect x="369.5" y="310.9" width="82.6" height="82.0" fill="#000000"/><g clip-path="url(#mc10)"><g filter="url(#grd1)"><ellipse cx="414.9" cy="356.0" rx="14.9" ry="19.7" fill="#0b3c0b" fill-opacity="0.7" transform="rotate(20 414.9 356.0)"/><ellipse cx="419.1" cy="353.5" rx="7.8" ry="15.6" fill="#1d921d" fill-opacity="0.85" transform="rotate(20 419.1 353.5)"/><ellipse cx="400.9" cy="356.0" rx="4.1" ry="9.8" fill="#1a8a1a" fill-opacity="0.6"/></g><g filter="url(#bl1)"></g><g filter="url(#bl05)"><g fill="#1c9a1c" fill-opacity="0.55"><circle cx="410.2" cy="360.9" r="0.8"/><circle cx="403.9" cy="340.1" r="0.7"/><circle cx="435.7" cy="350.7" r="0.7"/><circle cx="424.1" cy="352.8" r="0.6"/><circle cx="440.5" cy="344.0" r="0.8"/><circle cx="416.6" cy="349.9" r="0.6"/><circle cx="416.4" cy="352.3" r="0.6"/><circle cx="408.9" cy="381.2" r="0.6"/><circle cx="420.3" cy="361.9" r="0.9"/><circle cx="405.2" cy="334.7" r="0.8"/><circle cx="447.0" cy="332.4" r="0.8"/><circle cx="418.9" cy="356.9" r="0.9"/><circle cx="389.2" cy="330.1" r="0.7"/><circle cx="425.4" cy="356.6" r="0.9"/><circle cx="435.6" cy="339.3" r="0.7"/><circle cx="406.4" cy="369.8" r="0.8"/><circle cx="406.4" cy="371.1" r="0.9"/><circle cx="420.9" cy="348.7" r="0.7"/><circle cx="417.5" cy="337.0" r="0.6"/><circle cx="418.4" cy="369.2" r="0.9"/><circle cx="427.0" cy="368.3" r="0.6"/><circle cx="391.8" cy="364.2" r="0.8"/><circle cx="419.5" cy="364.0" r="0.7"/><circle cx="414.5" cy="334.6" r="0.8"/><circle cx="404.0" cy="367.2" r="0.7"/><circle cx="405.5" cy="360.9" r="0.7"/><circle cx="433.7" cy="338.8" r="0.6"/><circle cx="399.9" cy="351.0" r="0.7"/><circle cx="430.1" cy="362.4" r="0.5"/><circle cx="418.3" cy="347.8" r="0.5"/><circle cx="408.5" cy="361.7" r="0.6"/><circle cx="423.7" cy="333.4" r="0.6"/><circle cx="425.7" cy="338.2" r="0.7"/><circle cx="421.1" cy="331.5" r="0.7"/><circle cx="425.6" cy="363.0" r="0.5"/><circle cx="427.1" cy="356.8" r="0.7"/><circle cx="412.1" cy="341.5" r="0.7"/><circle cx="409.4" cy="358.5" r="0.6"/><circle cx="415.4" cy="342.3" r="0.7"/><circle cx="426.3" cy="348.4" r="0.6"/></g></g></g>
<rect x="458.8" y="310.9" width="82.6" height="82.0" fill="#000000"/><g clip-path="url(#mc11)"><g filter="url(#grd2)"><ellipse cx="503.4" cy="351.9" rx="13.3" ry="16.7" fill="#0b3c0b" fill-opacity="0.5" transform="rotate(18 503.4 351.9)"/><ellipse cx="507.5" cy="349.4" rx="7.0" ry="13.2" fill="#28b828" fill-opacity="0.92" transform="rotate(18 507.5 349.4)"/><ellipse cx="490.2" cy="356.0" rx="4.1" ry="9.8" fill="#1a8a1a" fill-opacity="0.6"/></g><g filter="url(#bl1)"><ellipse cx="507.5" cy="347.0" rx="5.6" ry="9.8" fill="#2fd42f" fill-opacity="0.3" transform="rotate(18 507.5 347.0)"/></g><g filter="url(#bl05)"><g fill="#1c9a1c" fill-opacity="0.5"><circle cx="494.3" cy="346.1" r="0.8"/><circle cx="516.1" cy="331.4" r="0.7"/><circle cx="510.8" cy="349.4" r="0.8"/><circle cx="503.7" cy="341.9" r="0.9"/><circle cx="504.1" cy="344.8" r="0.8"/><circle cx="503.8" cy="334.9" r="0.5"/><circle cx="500.3" cy="318.8" r="0.9"/><circle cx="494.2" cy="364.4" r="0.6"/><circle cx="498.0" cy="345.8" r="0.7"/><circle cx="505.4" cy="362.5" r="0.7"/><circle cx="493.6" cy="372.2" r="0.9"/><circle cx="494.8" cy="333.0" r="0.7"/><circle cx="507.7" cy="340.8" r="0.6"/><circle cx="495.5" cy="360.8" r="0.7"/><circle cx="522.7" cy="343.8" r="0.6"/><circle cx="489.3" cy="358.5" r="0.8"/><circle cx="512.1" cy="356.7" r="0.5"/><circle cx="506.1" cy="316.2" r="0.6"/><circle cx="488.9" cy="330.0" r="0.6"/><circle cx="514.2" cy="358.4" r="0.7"/><circle cx="501.1" cy="326.0" r="0.7"/><circle cx="494.6" cy="325.9" r="0.6"/><circle cx="513.8" cy="358.9" r="0.6"/><circle cx="520.4" cy="330.4" r="0.8"/></g></g></g>
<rect x="548.0" y="310.9" width="82.6" height="82.0" fill="#000000"/><g clip-path="url(#mc12)"><g filter="url(#grd3)"><ellipse cx="594.3" cy="348.6" rx="11.8" ry="13.8" fill="#0b3c0b" fill-opacity="0.45" transform="rotate(15 594.3 348.6)"/><ellipse cx="598.4" cy="346.2" rx="6.2" ry="10.9" fill="#30da30" transform="rotate(15 598.4 346.2)"/><ellipse cx="579.4" cy="356.0" rx="4.1" ry="9.8" fill="#1a8a1a" fill-opacity="0.6"/></g><g filter="url(#bl1)"><ellipse cx="598.4" cy="344.5" rx="5.0" ry="9.2" fill="#2fd42f" fill-opacity="0.7" transform="rotate(15 598.4 344.5)"/></g><g filter="url(#bl05)"><g fill="#1c9a1c" fill-opacity="0.4"><circle cx="598.6" cy="342.1" r="0.8"/><circle cx="582.3" cy="350.8" r="0.7"/><circle cx="579.8" cy="351.7" r="0.8"/><circle cx="596.3" cy="366.3" r="0.7"/><circle cx="580.0" cy="343.5" r="0.8"/><circle cx="595.7" cy="332.3" r="0.8"/><circle cx="601.4" cy="333.7" r="0.6"/><circle cx="589.9" cy="354.2" r="0.6"/><circle cx="600.2" cy="344.7" r="0.8"/><circle cx="589.5" cy="339.9" r="0.8"/><circle cx="588.4" cy="350.7" r="0.8"/><circle cx="593.2" cy="325.9" r="0.7"/><circle cx="582.6" cy="331.9" r="0.8"/><circle cx="591.6" cy="359.2" r="0.6"/></g></g></g>
<rect x="370.0" y="398.9" width="82.80000000000001" height="81.80000000000001" fill="#0d0000"/><g clip-path="url(#mc13)"><g filter="url(#bl3)"><path d="M428.0,407.1 L429.1,407.6 L430.1,408.6 L431.1,410.1 L432.0,411.8 L432.9,413.6 L433.8,415.3 L434.6,416.9 L435.5,418.6 L436.4,420.3 L437.1,422.1 L437.7,424.0 L437.9,425.9 L437.8,427.9 L437.5,430.0 L436.9,432.1 L436.2,434.2 L435.4,436.2 L434.6,438.2 L433.7,439.9 L432.6,441.6 L431.5,443.2 L430.3,444.8 L429.1,446.4 L428.0,448.0 L426.9,449.6 L425.9,451.3 L424.9,453.0 L423.8,454.6 L422.6,456.3 L421.3,457.8 L419.8,459.2 L418.1,460.5 L416.4,461.7 L414.6,463.0 L412.9,464.4 L411.4,466.0 L410.2,467.9 L409.1,470.1 L408.2,472.5 L407.2,474.7 L406.1,476.7 L404.8,478.2 L403.0,479.4 L400.9,480.4 L398.6,481.2 L396.4,481.5 L394.6,481.4 L393.2,480.7 L392.4,479.2 L392.1,476.9 L392.1,474.2 L392.3,471.3 L392.4,468.4 L392.4,466.0 L392.2,463.8 L392.1,461.7 L392.0,459.7 L391.8,457.9 L391.4,456.1 L390.7,454.5 L389.6,453.2 L388.1,452.1 L386.4,451.1 L384.6,450.2 L383.0,449.2 L381.6,448.0 L380.3,446.5 L378.9,444.8 L377.7,443.0 L376.7,441.2 L376.3,439.6 L376.6,438.2 L377.9,437.1 L380.1,436.2 L382.8,435.5 L385.7,434.8 L388.4,434.1 L390.7,433.3 L392.5,432.3 L394.0,431.2 L395.4,430.1 L396.8,429.0 L398.2,427.9 L399.8,426.7 L401.6,425.5 L403.6,424.3 L405.7,423.0 L407.7,421.7 L409.6,420.5 L411.4,419.3 L413.0,418.3 L414.4,417.4 L415.7,416.4 L417.0,415.5 L418.3,414.6 L419.7,413.6 L421.1,412.4 L422.5,411.0 L424.0,409.5 L425.4,408.2 L426.7,407.3Z" fill="#2c0202" fill-opacity="0.8"/></g><g filter="url(#sp1)"><path d="M428.0,407.1 L429.1,407.6 L430.1,408.6 L431.1,410.1 L432.0,411.8 L432.9,413.6 L433.8,415.3 L434.6,416.9 L435.5,418.6 L436.4,420.3 L437.1,422.1 L437.7,424.0 L437.9,425.9 L437.8,427.9 L437.5,430.0 L436.9,432.1 L436.2,434.2 L435.4,436.2 L434.6,438.2 L433.7,439.9 L432.6,441.6 L431.5,443.2 L430.3,444.8 L429.1,446.4 L428.0,448.0 L426.9,449.6 L425.9,451.3 L424.9,453.0 L423.8,454.6 L422.6,456.3 L421.3,457.8 L419.8,459.2 L418.1,460.5 L416.4,461.7 L414.6,463.0 L412.9,464.4 L411.4,466.0 L410.2,467.9 L409.1,470.1 L408.2,472.5 L407.2,474.7 L406.1,476.7 L404.8,478.2 L403.0,479.4 L400.9,480.4 L398.6,481.2 L396.4,481.5 L394.6,481.4 L393.2,480.7 L392.4,479.2 L392.1,476.9 L392.1,474.2 L392.3,471.3 L392.4,468.4 L392.4,466.0 L392.2,463.8 L392.1,461.7 L392.0,459.7 L391.8,457.9 L391.4,456.1 L390.7,454.5 L389.6,453.2 L388.1,452.1 L386.4,451.1 L384.6,450.2 L383.0,449.2 L381.6,448.0 L380.3,446.5 L378.9,444.8 L377.7,443.0 L376.7,441.2 L376.3,439.6 L376.6,438.2 L377.9,437.1 L380.1,436.2 L382.8,435.5 L385.7,434.8 L388.4,434.1 L390.7,433.3 L392.5,432.3 L394.0,431.2 L395.4,430.1 L396.8,429.0 L398.2,427.9 L399.8,426.7 L401.6,425.5 L403.6,424.3 L405.7,423.0 L407.7,421.7 L409.6,420.5 L411.4,419.3 L413.0,418.3 L414.4,417.4 L415.7,416.4 L417.0,415.5 L418.3,414.6 L419.7,413.6 L421.1,412.4 L422.5,411.0 L424.0,409.5 L425.4,408.2 L426.7,407.3Z" fill="#d00e0e" fill-opacity="0.85"/></g><g filter="url(#gr1)"><path d="M411.4,421.0 L412.7,421.0 L414.2,421.2 L415.8,421.4 L417.3,421.9 L418.7,422.5 L419.7,423.4 L420.4,424.6 L420.9,426.1 L421.2,427.8 L421.4,429.6 L421.4,431.4 L421.3,433.3 L421.1,435.1 L420.5,437.0 L419.9,438.9 L419.2,440.8 L418.5,442.8 L418.0,444.7 L417.7,446.7 L417.6,448.8 L417.5,450.8 L417.3,452.8 L417.0,454.6 L416.4,456.2 L415.4,457.5 L414.1,458.6 L412.6,459.5 L411.0,460.3 L409.5,460.8 L408.1,461.1 L406.8,461.1 L405.4,460.8 L404.1,460.4 L402.8,459.7 L401.6,458.8 L400.6,457.8 L399.8,456.5 L399.2,455.0 L398.7,453.3 L398.2,451.5 L397.8,449.7 L397.3,448.0 L396.8,446.3 L396.2,444.7 L395.6,443.1 L395.1,441.4 L394.8,439.8 L394.8,438.2 L395.2,436.5 L395.9,434.7 L396.8,432.9 L397.8,431.3 L398.8,429.7 L399.8,428.3 L400.7,427.2 L401.7,426.3 L402.7,425.4 L403.6,424.7 L404.6,424.1 L405.6,423.4 L406.5,422.8 L407.4,422.3 L408.3,421.8 L409.3,421.3 L410.3,421.1Z" fill="#d81010" fill-opacity="0.7"/><ellipse cx="408.1" cy="434.1" rx="4.6" ry="5.3" fill="#3a0000"/><ellipse cx="409.7" cy="452.1" rx="5.0" ry="4.9" fill="#3a0000"/></g><g filter="url(#bl1)"><ellipse cx="408.1" cy="434.1" rx="3.9" ry="4.5" fill="#200000" fill-opacity="0.75"/><ellipse cx="409.7" cy="452.1" rx="4.2" ry="4.2" fill="#200000" fill-opacity="0.75"/></g></g>
<rect x="458.8" y="398.2" width="82.49999999999994" height="82.40000000000003" fill="#050000"/><g clip-path="url(#mc14)"><g filter="url(#bl3)"><path d="M516.5,403.1 L518.0,403.3 L519.5,404.0 L521.0,405.1 L522.5,406.5 L523.8,408.1 L524.8,409.7 L525.6,411.5 L526.3,413.6 L526.8,415.8 L527.1,418.2 L527.3,420.6 L527.3,422.9 L527.1,425.4 L526.8,427.9 L526.2,430.5 L525.6,433.1 L524.8,435.5 L524.0,437.8 L523.0,439.7 L521.8,441.5 L520.5,443.1 L519.1,444.6 L517.8,446.1 L516.5,447.6 L515.4,449.1 L514.4,450.5 L513.4,451.9 L512.4,453.2 L511.2,454.5 L509.9,455.9 L508.5,457.2 L506.8,458.6 L505.1,459.9 L503.3,461.3 L501.6,462.7 L500.0,464.1 L498.6,465.8 L497.2,467.7 L495.8,469.6 L494.5,471.4 L493.2,472.9 L491.8,474.0 L490.4,474.7 L488.8,475.2 L487.3,475.3 L485.9,475.2 L484.6,474.8 L483.6,474.0 L482.8,472.8 L482.3,471.1 L481.9,469.1 L481.6,466.9 L481.4,464.6 L481.1,462.5 L480.8,460.3 L480.7,458.1 L480.6,455.8 L480.4,453.5 L480.1,451.3 L479.4,449.3 L478.2,447.4 L476.6,445.7 L474.7,444.0 L472.9,442.5 L471.7,440.9 L471.2,439.4 L471.6,437.9 L472.6,436.5 L474.1,435.2 L475.9,433.8 L477.7,432.5 L479.4,431.2 L481.1,429.7 L482.8,428.3 L484.7,426.8 L486.5,425.4 L488.4,424.1 L490.1,422.9 L491.9,421.9 L493.6,421.1 L495.3,420.3 L496.9,419.6 L498.5,418.9 L500.0,418.0 L501.5,417.0 L502.9,416.0 L504.3,414.9 L505.6,413.8 L506.9,412.6 L508.3,411.4 L509.7,409.9 L511.0,408.2 L512.4,406.4 L513.8,404.9 L515.2,403.7Z" fill="#3a0303" fill-opacity="0.8"/></g><g filter="url(#sp2)"><path d="M516.5,403.1 L518.0,403.3 L519.5,404.0 L521.0,405.1 L522.5,406.5 L523.8,408.1 L524.8,409.7 L525.6,411.5 L526.3,413.6 L526.8,415.8 L527.1,418.2 L527.3,420.6 L527.3,422.9 L527.1,425.4 L526.8,427.9 L526.2,430.5 L525.6,433.1 L524.8,435.5 L524.0,437.8 L523.0,439.7 L521.8,441.5 L520.5,443.1 L519.1,444.6 L517.8,446.1 L516.5,447.6 L515.4,449.1 L514.4,450.5 L513.4,451.9 L512.4,453.2 L511.2,454.5 L509.9,455.9 L508.5,457.2 L506.8,458.6 L505.1,459.9 L503.3,461.3 L501.6,462.7 L500.0,464.1 L498.6,465.8 L497.2,467.7 L495.8,469.6 L494.5,471.4 L493.2,472.9 L491.8,474.0 L490.4,474.7 L488.8,475.2 L487.3,475.3 L485.9,475.2 L484.6,474.8 L483.6,474.0 L482.8,472.8 L482.3,471.1 L481.9,469.1 L481.6,466.9 L481.4,464.6 L481.1,462.5 L480.8,460.3 L480.7,458.1 L480.6,455.8 L480.4,453.5 L480.1,451.3 L479.4,449.3 L478.2,447.4 L476.6,445.7 L474.7,444.0 L472.9,442.5 L471.7,440.9 L471.2,439.4 L471.6,437.9 L472.6,436.5 L474.1,435.2 L475.9,433.8 L477.7,432.5 L479.4,431.2 L481.1,429.7 L482.8,428.3 L484.7,426.8 L486.5,425.4 L488.4,424.1 L490.1,422.9 L491.9,421.9 L493.6,421.1 L495.3,420.3 L496.9,419.6 L498.5,418.9 L500.0,418.0 L501.5,417.0 L502.9,416.0 L504.3,414.9 L505.6,413.8 L506.9,412.6 L508.3,411.4 L509.7,409.9 L511.0,408.2 L512.4,406.4 L513.8,404.9 L515.2,403.7Z" fill="#c80e0e" fill-opacity="0.85"/></g><g filter="url(#gr2)"><path d="M501.7,414.7 L503.4,414.7 L505.4,414.9 L507.5,415.3 L509.6,416.0 L511.6,416.9 L513.2,418.0 L514.6,419.4 L515.9,421.2 L517.0,423.2 L517.9,425.4 L518.6,427.5 L519.0,429.5 L519.1,431.5 L519.0,433.4 L518.6,435.4 L518.0,437.3 L517.3,439.2 L516.5,441.0 L515.7,442.8 L514.8,444.6 L513.7,446.4 L512.5,448.1 L511.3,449.6 L509.9,450.9 L508.5,452.2 L506.8,453.3 L505.1,454.3 L503.3,455.1 L501.6,455.7 L500.0,455.9 L498.5,455.7 L497.0,455.2 L495.5,454.4 L494.1,453.4 L492.9,452.3 L491.8,450.9 L490.9,449.4 L490.1,447.6 L489.5,445.6 L489.1,443.5 L488.7,441.4 L488.5,439.4 L488.5,437.4 L488.6,435.4 L488.8,433.4 L489.2,431.5 L489.6,429.6 L490.1,427.9 L490.8,426.3 L491.5,424.8 L492.3,423.3 L493.2,422.0 L494.1,420.8 L495.1,419.6 L496.0,418.5 L497.0,417.4 L498.0,416.4 L499.1,415.6 L500.3,415.0Z" fill="#e41212" fill-opacity="0.85"/><ellipse cx="500.0" cy="427.9" rx="4.9" ry="7.0" fill="#3a0000"/><ellipse cx="500.0" cy="443.5" rx="5.4" ry="7.0" fill="#3a0000"/></g><g filter="url(#bl2)"><ellipse cx="512.4" cy="435.3" rx="5.8" ry="12.4" fill="#ff1c1c" fill-opacity="0.4" transform="rotate(20 512.4 435.3)"/></g><g filter="url(#bl1)"><ellipse cx="500.0" cy="427.9" rx="4.2" ry="6.0" fill="#200000" fill-opacity="0.75"/><ellipse cx="500.0" cy="443.5" rx="4.6" ry="6.0" fill="#200000" fill-opacity="0.75"/></g></g>
<rect x="548.0" y="399.0" width="82.70000000000005" height="81.80000000000001" fill="#0d0000"/><g clip-path="url(#mc15)"><g filter="url(#bl3)"><path d="M607.5,409.6 L608.7,410.1 L610.0,411.0 L611.3,412.3 L612.4,413.8 L613.4,415.4 L614.2,417.0 L614.6,418.6 L614.8,420.2 L614.8,422.0 L614.7,423.8 L614.4,425.7 L614.2,427.6 L613.8,429.6 L613.4,431.7 L612.9,433.8 L612.3,435.9 L611.6,438.0 L610.9,439.9 L610.0,441.7 L609.0,443.4 L607.9,445.1 L606.7,446.7 L605.5,448.2 L604.2,449.7 L603.0,451.2 L601.6,452.6 L600.2,453.9 L598.8,455.2 L597.4,456.6 L596.0,457.9 L594.6,459.2 L593.2,460.6 L591.8,461.9 L590.5,463.2 L589.1,464.6 L587.7,466.1 L586.3,467.7 L584.9,469.7 L583.5,471.6 L582.1,473.4 L580.8,474.9 L579.4,475.9 L578.1,476.4 L576.6,476.6 L575.2,476.6 L573.9,476.1 L572.8,475.4 L572.0,474.3 L571.5,472.6 L571.2,470.5 L571.2,468.0 L571.2,465.3 L571.2,462.7 L571.2,460.4 L571.1,458.2 L571.1,456.0 L571.1,453.9 L571.0,451.8 L570.8,449.9 L570.3,448.1 L569.5,446.5 L568.2,445.0 L566.9,443.6 L565.6,442.4 L564.7,441.1 L564.5,439.9 L565.1,438.7 L566.2,437.6 L567.7,436.6 L569.4,435.5 L571.2,434.5 L572.8,433.4 L574.4,432.1 L576.0,430.9 L577.6,429.6 L579.3,428.3 L581.0,427.1 L582.7,426.0 L584.5,425.0 L586.4,424.2 L588.3,423.4 L590.1,422.7 L591.9,421.9 L593.5,421.1 L594.9,420.2 L596.2,419.2 L597.5,418.3 L598.6,417.3 L599.8,416.3 L600.9,415.4 L602.1,414.3 L603.2,413.0 L604.3,411.7 L605.4,410.6 L606.5,409.8Z" fill="#4a0404" fill-opacity="0.8"/></g><g filter="url(#sp3)"><path d="M607.5,409.6 L608.7,410.1 L610.0,411.0 L611.3,412.3 L612.4,413.8 L613.4,415.4 L614.2,417.0 L614.6,418.6 L614.8,420.2 L614.8,422.0 L614.7,423.8 L614.4,425.7 L614.2,427.6 L613.8,429.6 L613.4,431.7 L612.9,433.8 L612.3,435.9 L611.6,438.0 L610.9,439.9 L610.0,441.7 L609.0,443.4 L607.9,445.1 L606.7,446.7 L605.5,448.2 L604.2,449.7 L603.0,451.2 L601.6,452.6 L600.2,453.9 L598.8,455.2 L597.4,456.6 L596.0,457.9 L594.6,459.2 L593.2,460.6 L591.8,461.9 L590.5,463.2 L589.1,464.6 L587.7,466.1 L586.3,467.7 L584.9,469.7 L583.5,471.6 L582.1,473.4 L580.8,474.9 L579.4,475.9 L578.1,476.4 L576.6,476.6 L575.2,476.6 L573.9,476.1 L572.8,475.4 L572.0,474.3 L571.5,472.6 L571.2,470.5 L571.2,468.0 L571.2,465.3 L571.2,462.7 L571.2,460.4 L571.1,458.2 L571.1,456.0 L571.1,453.9 L571.0,451.8 L570.8,449.9 L570.3,448.1 L569.5,446.5 L568.2,445.0 L566.9,443.6 L565.6,442.4 L564.7,441.1 L564.5,439.9 L565.1,438.7 L566.2,437.6 L567.7,436.6 L569.4,435.5 L571.2,434.5 L572.8,433.4 L574.4,432.1 L576.0,430.9 L577.6,429.6 L579.3,428.3 L581.0,427.1 L582.7,426.0 L584.5,425.0 L586.4,424.2 L588.3,423.4 L590.1,422.7 L591.9,421.9 L593.5,421.1 L594.9,420.2 L596.2,419.2 L597.5,418.3 L598.6,417.3 L599.8,416.3 L600.9,415.4 L602.1,414.3 L603.2,413.0 L604.3,411.7 L605.4,410.6 L606.5,409.8Z" fill="#b00c0c" fill-opacity="0.85"/></g><g filter="url(#gr3)"><path d="M589.4,420.3 L590.9,420.2 L592.8,420.1 L595.0,420.3 L597.2,420.6 L599.2,421.1 L600.9,421.9 L602.4,423.1 L603.8,424.5 L605.0,426.2 L606.1,428.1 L606.9,429.9 L607.5,431.7 L607.9,433.4 L608.0,435.2 L608.0,437.0 L607.7,438.8 L607.3,440.6 L606.7,442.4 L606.0,444.2 L605.0,446.1 L603.9,448.0 L602.7,449.9 L601.4,451.5 L600.1,453.0 L598.7,454.3 L597.2,455.4 L595.6,456.4 L594.0,457.2 L592.5,457.7 L591.0,457.9 L589.6,457.7 L588.2,457.2 L586.9,456.5 L585.6,455.5 L584.5,454.3 L583.6,453.0 L582.8,451.4 L582.2,449.6 L581.8,447.6 L581.5,445.5 L581.2,443.4 L581.1,441.5 L581.0,439.8 L581.0,438.1 L581.1,436.4 L581.3,434.8 L581.6,433.2 L581.9,431.7 L582.3,430.2 L582.8,428.7 L583.4,427.2 L584.0,425.8 L584.6,424.6 L585.2,423.5 L585.8,422.7 L586.3,421.9 L586.8,421.3 L587.4,420.8 L588.2,420.5Z" fill="#e41212" fill-opacity="0.85"/><ellipse cx="589.4" cy="432.5" rx="5.4" ry="6.5" fill="#3a0000"/><ellipse cx="591.0" cy="447.3" rx="5.8" ry="7.4" fill="#3a0000"/></g><g filter="url(#bl2)"><ellipse cx="601.8" cy="435.8" rx="5.8" ry="12.3" fill="#ff1c1c" fill-opacity="0.75" transform="rotate(20 601.8 435.8)"/></g><g filter="url(#bl1)"><ellipse cx="589.4" cy="432.5" rx="4.6" ry="5.6" fill="#200000" fill-opacity="0.75"/><ellipse cx="591.0" cy="447.3" rx="4.9" ry="6.3" fill="#200000" fill-opacity="0.75"/><g fill="#700808" fill-opacity="0.8"><circle cx="555.4" cy="435.8" r="1.2"/><circle cx="559.6" cy="437.4" r="1.0"/><circle cx="557.1" cy="444.8" r="1.4"/></g></g></g>
<rect x="369.5" y="488.4" width="82.6" height="82.0" fill="#0d0000"/><g clip-path="url(#mc16)"><g filter="url(#bl3)"><path d="M427.3,496.6 L428.4,497.1 L429.5,498.1 L430.5,499.6 L431.4,501.3 L432.3,503.1 L433.1,504.8 L434.0,506.4 L434.9,508.1 L435.7,509.9 L436.5,511.7 L437.0,513.6 L437.2,515.5 L437.1,517.4 L436.8,519.5 L436.3,521.7 L435.5,523.8 L434.8,525.8 L433.9,527.8 L433.0,529.5 L432.0,531.2 L430.8,532.8 L429.6,534.4 L428.5,536.0 L427.3,537.6 L426.3,539.3 L425.2,540.9 L424.2,542.6 L423.2,544.3 L422.0,545.9 L420.7,547.4 L419.2,548.9 L417.5,550.1 L415.8,551.4 L414.0,552.7 L412.3,554.1 L410.8,555.6 L409.6,557.6 L408.5,559.8 L407.6,562.1 L406.6,564.4 L405.5,566.4 L404.2,567.9 L402.4,569.1 L400.3,570.1 L398.0,570.9 L395.9,571.2 L394.0,571.1 L392.6,570.4 L391.9,568.9 L391.6,566.6 L391.6,563.9 L391.7,561.0 L391.9,558.1 L391.8,555.6 L391.7,553.5 L391.6,551.4 L391.5,549.4 L391.3,547.5 L390.9,545.8 L390.1,544.2 L389.0,542.8 L387.5,541.7 L385.8,540.8 L384.1,539.8 L382.4,538.8 L381.1,537.6 L379.8,536.1 L378.4,534.4 L377.1,532.6 L376.2,530.8 L375.8,529.2 L376.1,527.8 L377.4,526.7 L379.6,525.8 L382.3,525.1 L385.1,524.4 L387.9,523.7 L390.1,522.8 L391.9,521.9 L393.5,520.8 L394.8,519.7 L396.2,518.6 L397.6,517.4 L399.2,516.3 L401.1,515.1 L403.0,513.8 L405.1,512.5 L407.1,511.3 L409.0,510.0 L410.8,508.9 L412.4,507.9 L413.8,506.9 L415.1,506.0 L416.4,505.1 L417.7,504.1 L419.1,503.2 L420.5,501.9 L421.9,500.5 L423.3,499.0 L424.8,497.7 L426.1,496.8Z" fill="#2c0202" fill-opacity="0.8"/></g><g filter="url(#sp1)"><path d="M427.3,496.6 L428.4,497.1 L429.5,498.1 L430.5,499.6 L431.4,501.3 L432.3,503.1 L433.1,504.8 L434.0,506.4 L434.9,508.1 L435.7,509.9 L436.5,511.7 L437.0,513.6 L437.2,515.5 L437.1,517.4 L436.8,519.5 L436.3,521.7 L435.5,523.8 L434.8,525.8 L433.9,527.8 L433.0,529.5 L432.0,531.2 L430.8,532.8 L429.6,534.4 L428.5,536.0 L427.3,537.6 L426.3,539.3 L425.2,540.9 L424.2,542.6 L423.2,544.3 L422.0,545.9 L420.7,547.4 L419.2,548.9 L417.5,550.1 L415.8,551.4 L414.0,552.7 L412.3,554.1 L410.8,555.6 L409.6,557.6 L408.5,559.8 L407.6,562.1 L406.6,564.4 L405.5,566.4 L404.2,567.9 L402.4,569.1 L400.3,570.1 L398.0,570.9 L395.9,571.2 L394.0,571.1 L392.6,570.4 L391.9,568.9 L391.6,566.6 L391.6,563.9 L391.7,561.0 L391.9,558.1 L391.8,555.6 L391.7,553.5 L391.6,551.4 L391.5,549.4 L391.3,547.5 L390.9,545.8 L390.1,544.2 L389.0,542.8 L387.5,541.7 L385.8,540.8 L384.1,539.8 L382.4,538.8 L381.1,537.6 L379.8,536.1 L378.4,534.4 L377.1,532.6 L376.2,530.8 L375.8,529.2 L376.1,527.8 L377.4,526.7 L379.6,525.8 L382.3,525.1 L385.1,524.4 L387.9,523.7 L390.1,522.8 L391.9,521.9 L393.5,520.8 L394.8,519.7 L396.2,518.6 L397.6,517.4 L399.2,516.3 L401.1,515.1 L403.0,513.8 L405.1,512.5 L407.1,511.3 L409.0,510.0 L410.8,508.9 L412.4,507.9 L413.8,506.9 L415.1,506.0 L416.4,505.1 L417.7,504.1 L419.1,503.2 L420.5,501.9 L421.9,500.5 L423.3,499.0 L424.8,497.7 L426.1,496.8Z" fill="#d00e0e" fill-opacity="0.85"/></g><g filter="url(#gr1)"><path d="M410.8,510.5 L412.1,510.6 L413.6,510.7 L415.2,511.0 L416.7,511.5 L418.0,512.1 L419.1,513.0 L419.8,514.2 L420.3,515.7 L420.6,517.4 L420.8,519.2 L420.8,521.0 L420.7,522.8 L420.4,524.7 L419.9,526.5 L419.3,528.5 L418.6,530.4 L417.9,532.4 L417.4,534.3 L417.1,536.3 L417.0,538.4 L416.9,540.5 L416.7,542.5 L416.4,544.3 L415.8,545.8 L414.8,547.1 L413.5,548.2 L412.0,549.2 L410.4,549.9 L408.9,550.5 L407.5,550.7 L406.2,550.7 L404.8,550.5 L403.5,550.0 L402.2,549.3 L401.1,548.5 L400.1,547.4 L399.3,546.2 L398.6,544.6 L398.1,542.9 L397.6,541.1 L397.2,539.3 L396.8,537.6 L396.2,536.0 L395.6,534.3 L395.0,532.7 L394.5,531.0 L394.3,529.4 L394.3,527.8 L394.7,526.1 L395.4,524.3 L396.2,522.5 L397.2,520.8 L398.3,519.3 L399.2,517.9 L400.2,516.8 L401.1,515.8 L402.1,515.0 L403.1,514.3 L404.0,513.6 L405.0,513.0 L406.0,512.4 L406.9,511.8 L407.8,511.3 L408.7,510.9 L409.7,510.6Z" fill="#d81010" fill-opacity="0.7"/><ellipse cx="407.5" cy="523.7" rx="4.5" ry="5.3" fill="#3a0000"/><ellipse cx="409.1" cy="541.7" rx="5.0" ry="4.9" fill="#3a0000"/></g><g filter="url(#bl1)"><ellipse cx="407.5" cy="523.7" rx="3.9" ry="4.5" fill="#200000" fill-opacity="0.75"/><ellipse cx="409.1" cy="541.7" rx="4.2" ry="4.2" fill="#200000" fill-opacity="0.75"/></g><g filter="url(#bl2)"><ellipse cx="424.8" cy="534.3" rx="8.3" ry="16.4" fill="#0a1a00" fill-opacity="0.55" transform="rotate(20 424.8 534.3)"/></g><g filter="url(#gr2)"><ellipse cx="424.8" cy="534.3" rx="8.7" ry="18.9" fill="#40ae1c" fill-opacity="0.8" transform="rotate(22 424.8 534.3)"/></g><g filter="url(#bl1)"><ellipse cx="407.5" cy="523.7" rx="4.1" ry="4.8" fill="#1c0000" fill-opacity="0.85"/><ellipse cx="409.1" cy="541.7" rx="4.5" ry="4.4" fill="#1c0000" fill-opacity="0.85"/></g></g>
<rect x="458.8" y="488.4" width="82.6" height="82.0" fill="#0d0000"/><g clip-path="url(#mc17)"><g filter="url(#bl3)"><path d="M516.6,493.3 L518.1,493.5 L519.6,494.2 L521.1,495.3 L522.6,496.7 L523.8,498.2 L524.9,499.9 L525.7,501.7 L526.3,503.7 L526.8,505.9 L527.2,508.3 L527.3,510.6 L527.4,513.0 L527.2,515.4 L526.8,518.0 L526.3,520.6 L525.7,523.1 L524.9,525.6 L524.1,527.8 L523.0,529.7 L521.9,531.5 L520.5,533.1 L519.2,534.6 L517.9,536.1 L516.6,537.6 L515.5,539.1 L514.5,540.5 L513.5,541.8 L512.4,543.1 L511.3,544.5 L510.0,545.8 L508.5,547.1 L506.9,548.5 L505.2,549.8 L503.4,551.1 L501.7,552.5 L500.1,554.0 L498.6,555.7 L497.2,557.5 L495.9,559.4 L494.5,561.2 L493.2,562.8 L491.8,563.8 L490.4,564.5 L488.9,565.0 L487.3,565.2 L485.9,565.1 L484.6,564.6 L483.6,563.8 L482.8,562.6 L482.3,560.9 L481.9,558.9 L481.7,556.7 L481.4,554.5 L481.1,552.4 L480.9,550.2 L480.7,548.0 L480.6,545.7 L480.5,543.4 L480.1,541.3 L479.4,539.2 L478.3,537.4 L476.6,535.7 L474.7,534.0 L473.0,532.4 L471.7,530.9 L471.2,529.4 L471.6,527.9 L472.6,526.5 L474.1,525.2 L475.9,523.9 L477.7,522.5 L479.4,521.2 L481.1,519.8 L482.9,518.3 L484.7,516.9 L486.6,515.5 L488.4,514.2 L490.2,513.0 L491.9,512.0 L493.6,511.2 L495.3,510.4 L496.9,509.7 L498.6,509.0 L500.1,508.1 L501.6,507.1 L503.0,506.1 L504.3,505.0 L505.7,503.9 L507.0,502.7 L508.4,501.5 L509.7,500.1 L511.1,498.4 L512.5,496.6 L513.9,495.0 L515.2,493.9Z" fill="#3a0303" fill-opacity="0.8"/></g><g filter="url(#sp2)"><path d="M516.6,493.3 L518.1,493.5 L519.6,494.2 L521.1,495.3 L522.6,496.7 L523.8,498.2 L524.9,499.9 L525.7,501.7 L526.3,503.7 L526.8,505.9 L527.2,508.3 L527.3,510.6 L527.4,513.0 L527.2,515.4 L526.8,518.0 L526.3,520.6 L525.7,523.1 L524.9,525.6 L524.1,527.8 L523.0,529.7 L521.9,531.5 L520.5,533.1 L519.2,534.6 L517.9,536.1 L516.6,537.6 L515.5,539.1 L514.5,540.5 L513.5,541.8 L512.4,543.1 L511.3,544.5 L510.0,545.8 L508.5,547.1 L506.9,548.5 L505.2,549.8 L503.4,551.1 L501.7,552.5 L500.1,554.0 L498.6,555.7 L497.2,557.5 L495.9,559.4 L494.5,561.2 L493.2,562.8 L491.8,563.8 L490.4,564.5 L488.9,565.0 L487.3,565.2 L485.9,565.1 L484.6,564.6 L483.6,563.8 L482.8,562.6 L482.3,560.9 L481.9,558.9 L481.7,556.7 L481.4,554.5 L481.1,552.4 L480.9,550.2 L480.7,548.0 L480.6,545.7 L480.5,543.4 L480.1,541.3 L479.4,539.2 L478.3,537.4 L476.6,535.7 L474.7,534.0 L473.0,532.4 L471.7,530.9 L471.2,529.4 L471.6,527.9 L472.6,526.5 L474.1,525.2 L475.9,523.9 L477.7,522.5 L479.4,521.2 L481.1,519.8 L482.9,518.3 L484.7,516.9 L486.6,515.5 L488.4,514.2 L490.2,513.0 L491.9,512.0 L493.6,511.2 L495.3,510.4 L496.9,509.7 L498.6,509.0 L500.1,508.1 L501.6,507.1 L503.0,506.1 L504.3,505.0 L505.7,503.9 L507.0,502.7 L508.4,501.5 L509.7,500.1 L511.1,498.4 L512.5,496.6 L513.9,495.0 L515.2,493.9Z" fill="#c80e0e" fill-opacity="0.85"/></g><g filter="url(#gr2)"><path d="M501.8,504.8 L503.5,504.8 L505.5,505.0 L507.6,505.4 L509.7,506.1 L511.7,507.0 L513.3,508.1 L514.7,509.5 L516.0,511.3 L517.1,513.3 L518.0,515.4 L518.7,517.6 L519.1,519.6 L519.2,521.5 L519.0,523.4 L518.6,525.4 L518.1,527.3 L517.4,529.2 L516.6,531.0 L515.8,532.8 L514.8,534.6 L513.8,536.4 L512.6,538.0 L511.4,539.5 L510.0,540.9 L508.5,542.1 L506.9,543.2 L505.2,544.3 L503.4,545.1 L501.7,545.6 L500.1,545.8 L498.6,545.6 L497.0,545.1 L495.6,544.4 L494.2,543.4 L492.9,542.2 L491.8,540.9 L490.9,539.3 L490.2,537.5 L489.6,535.5 L489.1,533.5 L488.7,531.4 L488.5,529.4 L488.5,527.4 L488.6,525.5 L488.8,523.5 L489.2,521.5 L489.7,519.6 L490.2,517.9 L490.8,516.3 L491.5,514.8 L492.4,513.4 L493.2,512.1 L494.2,510.9 L495.1,509.7 L496.1,508.6 L497.0,507.5 L498.0,506.5 L499.1,505.7 L500.3,505.1Z" fill="#e41212" fill-opacity="0.85"/><ellipse cx="500.1" cy="517.9" rx="5.0" ry="7.0" fill="#3a0000"/><ellipse cx="500.1" cy="533.5" rx="5.4" ry="7.0" fill="#3a0000"/></g><g filter="url(#bl2)"><ellipse cx="512.5" cy="525.3" rx="5.8" ry="12.3" fill="#ff1c1c" fill-opacity="0.4" transform="rotate(20 512.5 525.3)"/></g><g filter="url(#bl1)"><ellipse cx="500.1" cy="517.9" rx="4.2" ry="5.9" fill="#200000" fill-opacity="0.75"/><ellipse cx="500.1" cy="533.5" rx="4.6" ry="5.9" fill="#200000" fill-opacity="0.75"/></g><g filter="url(#bl3)" opacity="0.55" style="mix-blend-mode:screen"><path d="M516.6,493.3 L518.1,493.5 L519.6,494.2 L521.1,495.3 L522.6,496.7 L523.8,498.2 L524.9,499.9 L525.7,501.7 L526.3,503.7 L526.8,505.9 L527.2,508.3 L527.3,510.6 L527.4,513.0 L527.2,515.4 L526.8,518.0 L526.3,520.6 L525.7,523.1 L524.9,525.6 L524.1,527.8 L523.0,529.7 L521.9,531.5 L520.5,533.1 L519.2,534.6 L517.9,536.1 L516.6,537.6 L515.5,539.1 L514.5,540.5 L513.5,541.8 L512.4,543.1 L511.3,544.5 L510.0,545.8 L508.5,547.1 L506.9,548.5 L505.2,549.8 L503.4,551.1 L501.7,552.5 L500.1,554.0 L498.6,555.7 L497.2,557.5 L495.9,559.4 L494.5,561.2 L493.2,562.8 L491.8,563.8 L490.4,564.5 L488.9,565.0 L487.3,565.2 L485.9,565.1 L484.6,564.6 L483.6,563.8 L482.8,562.6 L482.3,560.9 L481.9,558.9 L481.7,556.7 L481.4,554.5 L481.1,552.4 L480.9,550.2 L480.7,548.0 L480.6,545.7 L480.5,543.4 L480.1,541.3 L479.4,539.2 L478.3,537.4 L476.6,535.7 L474.7,534.0 L473.0,532.4 L471.7,530.9 L471.2,529.4 L471.6,527.9 L472.6,526.5 L474.1,525.2 L475.9,523.9 L477.7,522.5 L479.4,521.2 L481.1,519.8 L482.9,518.3 L484.7,516.9 L486.6,515.5 L488.4,514.2 L490.2,513.0 L491.9,512.0 L493.6,511.2 L495.3,510.4 L496.9,509.7 L498.6,509.0 L500.1,508.1 L501.6,507.1 L503.0,506.1 L504.3,505.0 L505.7,503.9 L507.0,502.7 L508.4,501.5 L509.7,500.1 L511.1,498.4 L512.5,496.6 L513.9,495.0 L515.2,493.9Z" fill="#3a4a00"/></g><g filter="url(#gr3)" opacity="0.9"><ellipse cx="513.3" cy="529.4" rx="7.0" ry="14.8" fill="#f0961a" transform="rotate(18 513.3 529.4)"/></g><g filter="url(#bl1)"><ellipse cx="498.9" cy="517.9" rx="4.5" ry="6.3" fill="#240400" fill-opacity="0.85"/><ellipse cx="498.9" cy="533.5" rx="4.8" ry="6.3" fill="#240400" fill-opacity="0.85"/></g></g>
<rect x="548.0" y="488.4" width="82.6" height="82.0" fill="#0d0000"/><g clip-path="url(#mc18)"><g filter="url(#bl3)"><path d="M607.5,499.1 L608.6,499.5 L609.9,500.4 L611.2,501.7 L612.4,503.3 L613.4,504.9 L614.1,506.4 L614.5,508.0 L614.7,509.7 L614.7,511.5 L614.6,513.3 L614.3,515.2 L614.1,517.1 L613.8,519.1 L613.3,521.2 L612.8,523.3 L612.2,525.4 L611.6,527.5 L610.8,529.4 L609.9,531.2 L608.9,532.9 L607.8,534.6 L606.6,536.2 L605.4,537.7 L604.2,539.2 L602.9,540.7 L601.5,542.1 L600.1,543.4 L598.7,544.8 L597.3,546.1 L595.9,547.4 L594.5,548.8 L593.2,550.1 L591.8,551.4 L590.4,552.8 L589.0,554.2 L587.6,555.6 L586.3,557.3 L584.9,559.2 L583.5,561.2 L582.1,563.0 L580.7,564.5 L579.4,565.5 L578.0,566.0 L576.6,566.2 L575.2,566.1 L573.9,565.7 L572.8,565.0 L572.0,563.8 L571.4,562.2 L571.2,560.0 L571.1,557.5 L571.2,554.9 L571.2,552.3 L571.1,549.9 L571.0,547.7 L571.0,545.5 L571.0,543.4 L570.9,541.3 L570.7,539.4 L570.3,537.6 L569.5,536.0 L568.2,534.5 L566.8,533.1 L565.6,531.9 L564.7,530.6 L564.5,529.4 L565.1,528.2 L566.2,527.1 L567.7,526.1 L569.4,525.0 L571.1,524.0 L572.8,522.8 L574.3,521.6 L575.9,520.3 L577.6,519.0 L579.3,517.8 L581.0,516.6 L582.7,515.5 L584.5,514.5 L586.3,513.7 L588.2,512.9 L590.1,512.1 L591.8,511.4 L593.4,510.5 L594.9,509.6 L596.2,508.7 L597.4,507.7 L598.6,506.7 L599.7,505.8 L600.9,504.8 L602.0,503.7 L603.1,502.4 L604.2,501.1 L605.3,500.0 L606.4,499.3Z" fill="#4a0404" fill-opacity="0.8"/></g><g filter="url(#sp3)"><path d="M607.5,499.1 L608.6,499.5 L609.9,500.4 L611.2,501.7 L612.4,503.3 L613.4,504.9 L614.1,506.4 L614.5,508.0 L614.7,509.7 L614.7,511.5 L614.6,513.3 L614.3,515.2 L614.1,517.1 L613.8,519.1 L613.3,521.2 L612.8,523.3 L612.2,525.4 L611.6,527.5 L610.8,529.4 L609.9,531.2 L608.9,532.9 L607.8,534.6 L606.6,536.2 L605.4,537.7 L604.2,539.2 L602.9,540.7 L601.5,542.1 L600.1,543.4 L598.7,544.8 L597.3,546.1 L595.9,547.4 L594.5,548.8 L593.2,550.1 L591.8,551.4 L590.4,552.8 L589.0,554.2 L587.6,555.6 L586.3,557.3 L584.9,559.2 L583.5,561.2 L582.1,563.0 L580.7,564.5 L579.4,565.5 L578.0,566.0 L576.6,566.2 L575.2,566.1 L573.9,565.7 L572.8,565.0 L572.0,563.8 L571.4,562.2 L571.2,560.0 L571.1,557.5 L571.2,554.9 L571.2,552.3 L571.1,549.9 L571.0,547.7 L571.0,545.5 L571.0,543.4 L570.9,541.3 L570.7,539.4 L570.3,537.6 L569.5,536.0 L568.2,534.5 L566.8,533.1 L565.6,531.9 L564.7,530.6 L564.5,529.4 L565.1,528.2 L566.2,527.1 L567.7,526.1 L569.4,525.0 L571.1,524.0 L572.8,522.8 L574.3,521.6 L575.9,520.3 L577.6,519.0 L579.3,517.8 L581.0,516.6 L582.7,515.5 L584.5,514.5 L586.3,513.7 L588.2,512.9 L590.1,512.1 L591.8,511.4 L593.4,510.5 L594.9,509.6 L596.2,508.7 L597.4,507.7 L598.6,506.7 L599.7,505.8 L600.9,504.8 L602.0,503.7 L603.1,502.4 L604.2,501.1 L605.3,500.0 L606.4,499.3Z" fill="#b00c0c" fill-opacity="0.85"/></g><g filter="url(#gr3)"><path d="M589.3,509.7 L590.9,509.6 L592.8,509.6 L594.9,509.7 L597.1,510.0 L599.1,510.6 L600.9,511.4 L602.3,512.5 L603.7,514.0 L604.9,515.7 L606.0,517.6 L606.9,519.4 L607.5,521.2 L607.8,522.9 L608.0,524.7 L607.9,526.5 L607.6,528.3 L607.2,530.1 L606.6,531.9 L605.9,533.7 L605.0,535.6 L603.9,537.5 L602.6,539.4 L601.3,541.1 L600.0,542.5 L598.6,543.8 L597.1,544.9 L595.5,546.0 L594.0,546.7 L592.4,547.3 L591.0,547.4 L589.6,547.3 L588.2,546.8 L586.8,546.0 L585.6,545.0 L584.5,543.8 L583.5,542.5 L582.8,541.0 L582.2,539.1 L581.8,537.1 L581.4,535.0 L581.2,532.9 L581.0,531.0 L581.0,529.3 L581.0,527.6 L581.1,525.9 L581.3,524.3 L581.5,522.7 L581.9,521.2 L582.3,519.7 L582.8,518.2 L583.3,516.7 L583.9,515.3 L584.5,514.1 L585.2,513.0 L585.7,512.1 L586.2,511.4 L586.7,510.7 L587.3,510.3 L588.2,509.9Z" fill="#e41212" fill-opacity="0.85"/><ellipse cx="589.3" cy="522.0" rx="5.4" ry="6.6" fill="#3a0000"/><ellipse cx="591.0" cy="536.8" rx="5.8" ry="7.4" fill="#3a0000"/></g><g filter="url(#bl2)"><ellipse cx="601.7" cy="525.3" rx="5.8" ry="12.3" fill="#ff1c1c" fill-opacity="0.75" transform="rotate(20 601.7 525.3)"/></g><g filter="url(#bl1)"><ellipse cx="589.3" cy="522.0" rx="4.6" ry="5.6" fill="#200000" fill-opacity="0.75"/><ellipse cx="591.0" cy="536.8" rx="4.9" ry="6.3" fill="#200000" fill-opacity="0.75"/><g fill="#700808" fill-opacity="0.8"><circle cx="555.4" cy="525.3" r="1.2"/><circle cx="559.6" cy="526.9" r="1.0"/><circle cx="557.1" cy="534.3" r="1.4"/></g></g><g filter="url(#bl3)" opacity="0.5" style="mix-blend-mode:screen"><path d="M607.5,499.1 L608.6,499.5 L609.9,500.4 L611.2,501.7 L612.4,503.3 L613.4,504.9 L614.1,506.4 L614.5,508.0 L614.7,509.7 L614.7,511.5 L614.6,513.3 L614.3,515.2 L614.1,517.1 L613.8,519.1 L613.3,521.2 L612.8,523.3 L612.2,525.4 L611.6,527.5 L610.8,529.4 L609.9,531.2 L608.9,532.9 L607.8,534.6 L606.6,536.2 L605.4,537.7 L604.2,539.2 L602.9,540.7 L601.5,542.1 L600.1,543.4 L598.7,544.8 L597.3,546.1 L595.9,547.4 L594.5,548.8 L593.2,550.1 L591.8,551.4 L590.4,552.8 L589.0,554.2 L587.6,555.6 L586.3,557.3 L584.9,559.2 L583.5,561.2 L582.1,563.0 L580.7,564.5 L579.4,565.5 L578.0,566.0 L576.6,566.2 L575.2,566.1 L573.9,565.7 L572.8,565.0 L572.0,563.8 L571.4,562.2 L571.2,560.0 L571.1,557.5 L571.2,554.9 L571.2,552.3 L571.1,549.9 L571.0,547.7 L571.0,545.5 L571.0,543.4 L570.9,541.3 L570.7,539.4 L570.3,537.6 L569.5,536.0 L568.2,534.5 L566.8,533.1 L565.6,531.9 L564.7,530.6 L564.5,529.4 L565.1,528.2 L566.2,527.1 L567.7,526.1 L569.4,525.0 L571.1,524.0 L572.8,522.8 L574.3,521.6 L575.9,520.3 L577.6,519.0 L579.3,517.8 L581.0,516.6 L582.7,515.5 L584.5,514.5 L586.3,513.7 L588.2,512.9 L590.1,512.1 L591.8,511.4 L593.4,510.5 L594.9,509.6 L596.2,508.7 L597.4,507.7 L598.6,506.7 L599.7,505.8 L600.9,504.8 L602.0,503.7 L603.1,502.4 L604.2,501.1 L605.3,500.0 L606.4,499.3Z" fill="#3a4000"/></g><g filter="url(#bl1)"><ellipse cx="602.1" cy="526.9" rx="4.5" ry="9.8" fill="#f0a810" fill-opacity="0.8" transform="rotate(15 602.1 526.9)"/></g><g filter="url(#gr1)"><ellipse cx="602.1" cy="526.9" rx="5.8" ry="11.5" fill="#ffe024" transform="rotate(15 602.1 526.9)"/></g><g filter="url(#bl1)"><ellipse cx="588.1" cy="522.0" rx="4.8" ry="5.9" fill="#261200" fill-opacity="0.85"/><ellipse cx="589.7" cy="536.8" rx="5.2" ry="6.6" fill="#261200" fill-opacity="0.85"/></g><rect x="606.3" y="560.2" width="14.9" height="3.4" fill="#fff"/></g>
<text x="-0.4" y="605.4" font-size="8.7" font-weight="bold" fill="#000" stroke="#000" stroke-width="0.28">D</text>
<path d="M42.8,633.7 L42.8,748.5 L203.4,748.5" fill="none" stroke="#000" stroke-width="1.5"/>
<path d="M37.199999999999996,748.5 L42.8,748.5" stroke="#000" stroke-width="1.4"/>
<path d="M37.199999999999996,720.0 L42.8,720.0" stroke="#000" stroke-width="1.4"/>
<text x="30.0" y="722.47" font-size="8.8" text-anchor="end" fill="#000" stroke="#000" stroke-width="0.28">20</text>
<path d="M37.199999999999996,691.4 L42.8,691.4" stroke="#000" stroke-width="1.4"/>
<text x="30.0" y="693.94" font-size="8.8" text-anchor="end" fill="#000" stroke="#000" stroke-width="0.28">40</text>
<path d="M37.199999999999996,662.9 L42.8,662.9" stroke="#000" stroke-width="1.4"/>
<text x="30.0" y="665.41" font-size="8.8" text-anchor="end" fill="#000" stroke="#000" stroke-width="0.28">60</text>
<path d="M37.199999999999996,634.4 L42.8,634.4" stroke="#000" stroke-width="1.4"/>
<text x="30.0" y="636.88" font-size="8.8" text-anchor="end" fill="#000" stroke="#000" stroke-width="0.28">80</text>
<text x="33.6" y="753.4" font-size="8.8" text-anchor="end" fill="#000" stroke="#000" stroke-width="0.28">0</text>
<path d="M64.6,748.5 L64.6,754.6" stroke="#000" stroke-width="1.4"/>
<path d="M103.1,748.5 L103.1,754.6" stroke="#000" stroke-width="1.4"/>
<path d="M141.3,748.5 L141.3,754.6" stroke="#000" stroke-width="1.4"/>
<path d="M179.8,748.5 L179.8,754.6" stroke="#000" stroke-width="1.4"/>
<text x="64.2" y="762.6" font-size="8.8" text-anchor="middle" fill="#000" stroke="#000" stroke-width="0.28">0</text>
<text x="94.6" y="762.6" font-size="8.8" text-anchor="middle" fill="#000" stroke="#000" stroke-width="0.28">1</text>
<text x="125" y="762.6" font-size="8.8" text-anchor="middle" fill="#000" stroke="#000" stroke-width="0.28">2</text>
<text x="152.3" y="762.6" font-size="8.8" text-anchor="middle" fill="#000" stroke="#000" stroke-width="0.28">3</text>
<text x="120.3" y="780" font-size="8.8" text-anchor="middle" fill="#000" stroke="#000" stroke-width="0.28">Time / h</text>
<text x="11.4" y="695.6" font-size="8.8" text-anchor="middle" transform="rotate(-90 11.4 695.6)" fill="#000" stroke="#000" stroke-width="0.28">Average Count</text>
<rect x="48.4" y="738.5" width="11.2" height="9.8" fill="#0fa27c" stroke="#000" stroke-width="1.4"/>
<path d="M53.9,737.5 L53.9,738.5 M51.1,737.5 L56.7,737.5" stroke="#000" stroke-width="0.9" fill="none"/>
<g fill="#000"><circle cx="50.4" cy="737.1" r="1.55"/><circle cx="52.8" cy="735.3" r="1.55"/><circle cx="55.3" cy="734.0" r="1.55"/><circle cx="57.8" cy="737.1" r="1.55"/><circle cx="52.3" cy="740.3" r="1.55"/><circle cx="55.6" cy="740.6" r="1.55"/><circle cx="53.9" cy="743.1" r="1.55"/><circle cx="51.4" cy="746.1" r="1.55"/><circle cx="56.4" cy="745.8" r="1.55"/></g>
<rect x="60.2" y="742.6" width="9.8" height="5.7" fill="#cf79ac" stroke="#000" stroke-width="1.4"/>
<path d="M65.1,741.3 L65.1,742.6 M62.3,741.3 L67.9,741.3" stroke="#000" stroke-width="0.9" fill="none"/>
<g fill="#000"><path d="M64.4,737.4 L66.1,740.4 L62.7,740.4 Z"/><path d="M66.5,739.1 L68.2,742.1 L64.8,742.1 Z"/><path d="M62.6,741.3 L64.3,744.3 L60.9,744.3 Z"/><path d="M67.0,741.8 L68.7,744.9 L65.3,744.9 Z"/><path d="M65.1,744.3 L66.8,747.4 L63.4,747.4 Z"/></g>
<rect x="70.6" y="741.2" width="11.2" height="7.1" fill="#fd8610" stroke="#000" stroke-width="1.4"/>
<path d="M76.2,740.3 L76.2,741.2 M73.4,740.3 L79.0,740.3" stroke="#000" stroke-width="0.9" fill="none"/>
<g fill="#000"><rect x="70.9" y="739.9" width="2.8" height="2.8"/><rect x="76.2" y="737.8" width="2.8" height="2.8"/><rect x="78.7" y="739.4" width="2.8" height="2.8"/><rect x="73.4" y="740.8" width="2.8" height="2.8"/><rect x="76.8" y="742.6" width="2.8" height="2.8"/><rect x="72.9" y="744.7" width="2.8" height="2.8"/></g>
<rect x="87.4" y="698.1" width="10.5" height="50.2" fill="#0fa27c" stroke="#000" stroke-width="1.4"/>
<path d="M92.6,681.3 L92.6,698.1 M89.8,681.3 L95.4,681.3" stroke="#000" stroke-width="0.9" fill="none"/>
<g fill="#000"><circle cx="92.6" cy="680.4" r="1.55"/><circle cx="88.7" cy="687.3" r="1.55"/><circle cx="96.8" cy="688.7" r="1.55"/><circle cx="92.6" cy="690.1" r="1.55"/><circle cx="88.7" cy="691.5" r="1.55"/><circle cx="92.6" cy="699.5" r="1.55"/><circle cx="92.6" cy="720.1" r="1.55"/><circle cx="92.6" cy="724.3" r="1.55"/></g>
<rect x="98.5" y="728.7" width="9.8" height="19.6" fill="#cf79ac" stroke="#000" stroke-width="1.4"/>
<path d="M103.4,722.2 L103.4,728.7 M100.6,722.2 L106.2,722.2" stroke="#000" stroke-width="0.9" fill="none"/>
<g fill="#000"><path d="M99.2,717.9 L100.9,720.9 L97.5,720.9 Z"/><path d="M107.6,716.8 L109.3,719.8 L105.9,719.8 Z"/><path d="M103.4,720.4 L105.1,723.4 L101.7,723.4 Z"/><path d="M103.4,731.5 L105.1,734.6 L101.7,734.6 Z"/><path d="M103.4,735.7 L105.1,738.7 L101.7,738.7 Z"/></g>
<rect x="109.7" y="730.8" width="9.8" height="17.5" fill="#fd8610" stroke="#000" stroke-width="1.4"/>
<path d="M114.5,724.8 L114.5,730.8 M111.7,724.8 L117.3,724.8" stroke="#000" stroke-width="0.9" fill="none"/>
<g fill="#000"><rect x="111.5" y="717.1" width="2.8" height="2.8"/><rect x="113.1" y="727.3" width="2.8" height="2.8"/><rect x="109.0" y="732.2" width="2.8" height="2.8"/><rect x="117.0" y="731.9" width="2.8" height="2.8"/><rect x="113.1" y="733.6" width="2.8" height="2.8"/><rect x="113.1" y="737.8" width="2.8" height="2.8"/></g>
<rect x="126.1" y="686.9" width="9.8" height="61.4" fill="#0fa27c" stroke="#000" stroke-width="1.4"/>
<path d="M131.0,662.5 L131.0,686.9 M128.2,662.5 L133.8,662.5" stroke="#000" stroke-width="0.9" fill="none"/>
<g fill="#000"><circle cx="131.0" cy="659.1" r="1.55"/><circle cx="127.1" cy="661.8" r="1.55"/><circle cx="131.0" cy="664.2" r="1.55"/><circle cx="131.0" cy="680.2" r="1.55"/><circle cx="131.0" cy="694.6" r="1.55"/><circle cx="131.0" cy="698.8" r="1.55"/><circle cx="131.0" cy="705.7" r="1.55"/><circle cx="131.0" cy="727.0" r="1.55"/></g>
<rect x="137.3" y="712.7" width="9.1" height="35.6" fill="#cf79ac" stroke="#000" stroke-width="1.4"/>
<path d="M141.8,702.2 L141.8,712.7 M139.0,702.2 L144.6,702.2" stroke="#000" stroke-width="0.9" fill="none"/>
<g fill="#000"><path d="M141.8,695.6 L143.5,698.6 L140.1,698.6 Z"/><path d="M141.8,705.3 L143.5,708.4 L140.1,708.4 Z"/><path d="M141.8,714.4 L143.5,717.4 L140.1,717.4 Z"/><path d="M141.8,718.6 L143.5,721.6 L140.1,721.6 Z"/><path d="M141.8,726.9 L143.5,730.0 L140.1,730.0 Z"/><path d="M141.8,703.2 L143.5,706.3 L140.1,706.3 Z"/></g>
<rect x="147.7" y="722.9" width="9.8" height="25.4" fill="#fd8610" stroke="#000" stroke-width="1.4"/>
<path d="M152.6,715.5 L152.6,722.9 M149.8,715.5 L155.4,715.5" stroke="#000" stroke-width="0.9" fill="none"/>
<g fill="#000"><rect x="155.1" y="714.1" width="2.8" height="2.8"/><rect x="151.2" y="717.1" width="2.8" height="2.8"/><rect x="155.1" y="721.0" width="2.8" height="2.8"/><rect x="147.0" y="732.9" width="2.8" height="2.8"/><rect x="155.1" y="731.5" width="2.8" height="2.8"/><rect x="146.8" y="711.6" width="2.8" height="2.8"/></g>
<rect x="163.8" y="706.4" width="9.8" height="41.9" fill="#0fa27c" stroke="#000" stroke-width="1.4"/>
<path d="M168.6,694.3 L168.6,706.4 M165.8,694.3 L171.4,694.3" stroke="#000" stroke-width="0.9" fill="none"/>
<g fill="#000"><circle cx="168.6" cy="687.3" r="1.55"/><circle cx="172.8" cy="695.7" r="1.55"/><circle cx="168.6" cy="698.8" r="1.55"/><circle cx="168.6" cy="708.5" r="1.55"/><circle cx="168.6" cy="715.5" r="1.55"/><circle cx="168.6" cy="727.0" r="1.55"/></g>
<rect x="175.6" y="702.2" width="9.1" height="46.1" fill="#cf79ac" stroke="#000" stroke-width="1.4"/>
<path d="M180.1,690.7 L180.1,702.2 M177.3,690.7 L182.9,690.7" stroke="#000" stroke-width="0.9" fill="none"/>
<g fill="#000"><path d="M180.1,680.3 L181.8,683.3 L178.4,683.3 Z"/><path d="M184.0,693.1 L185.7,696.1 L182.3,696.1 Z"/><path d="M180.1,696.3 L181.8,699.3 L178.4,699.3 Z"/><path d="M176.0,698.4 L177.7,701.4 L174.2,701.4 Z"/><path d="M180.1,708.1 L181.8,711.1 L178.4,711.1 Z"/><path d="M176.0,713.0 L177.7,716.0 L174.2,716.0 Z"/></g>
<rect x="186.0" y="713.7" width="9.8" height="34.6" fill="#fd8610" stroke="#000" stroke-width="1.4"/>
<path d="M190.9,705.7 L190.9,713.7 M188.1,705.7 L193.7,705.7" stroke="#000" stroke-width="0.9" fill="none"/>
<g fill="#000"><rect x="189.5" y="702.7" width="2.8" height="2.8"/><rect x="185.4" y="704.3" width="2.8" height="2.8"/><rect x="189.5" y="707.1" width="2.8" height="2.8"/><rect x="189.5" y="716.2" width="2.8" height="2.8"/><rect x="189.5" y="725.6" width="2.8" height="2.8"/></g>
<circle cx="50.0" cy="624.2" r="2.7" fill="#000"/>
<rect x="54.0" y="619.7" width="9.3" height="9" fill="#0fa27c"/>
<text x="65.3" y="627.6" font-size="8.8" fill="#000" stroke="#000" stroke-width="0.28">Mitophagosomes</text>
<path d="M50.1,636.6 L53.9,642.6 L46.3,642.6 Z" fill="#000"/>
<rect x="54.0" y="634.8" width="9.3" height="8.9" fill="#cf79ac"/>
<text x="65.0" y="642.6" font-size="8.8" fill="#000" stroke="#000" stroke-width="0.28">Mitolysosomes</text>
<rect x="155.5" y="630.6" width="5.8" height="5.8" fill="#000"/>
<rect x="162.2" y="628.9" width="9.3" height="9.3" fill="#fd8610"/>
<text x="174.6" y="628.4" font-size="8.8" fill="#000" stroke="#000" stroke-width="0.28">Automito-</text>
<text x="174.6" y="638.9" font-size="8.8" fill="#000" stroke="#000" stroke-width="0.28">lysosomes</text>
<text x="237.9" y="605.3" font-size="8.7" font-weight="bold" fill="#000" stroke="#000" stroke-width="0.28">E</text>
<path d="M274.5,625.6 L274.5,739.7 L428.4,739.7" fill="none" stroke="#000" stroke-width="1.5"/>
<path d="M268.7,646.3 L274.5,646.3" stroke="#000" stroke-width="1.4"/>
<text x="264.5" y="649.9" font-size="8.8" text-anchor="end" fill="#000" stroke="#000" stroke-width="0.28">100</text>
<path d="M268.7,693.2 L274.5,693.2" stroke="#000" stroke-width="1.4"/>
<text x="268.0" y="696.3000000000001" font-size="8.8" text-anchor="end" fill="#000" stroke="#000" stroke-width="0.28">50</text>
<path d="M268.7,740.2 L274.5,740.2" stroke="#000" stroke-width="1.4"/>
<text x="265.3" y="744.8000000000001" font-size="8.8" text-anchor="end" fill="#000" stroke="#000" stroke-width="0.28">0</text>
<path d="M274.5,739.7 L274.5,746.5" stroke="#000" stroke-width="1.4"/>
<path d="M326.3,739.7 L326.3,746.5" stroke="#000" stroke-width="1.4"/>
<path d="M376.5,739.7 L376.5,746.5" stroke="#000" stroke-width="1.4"/>
<path d="M383.4,739.7 L383.4,746.5" stroke="#000" stroke-width="1.4"/>
<path d="M427.7,739.7 L427.7,746.5" stroke="#000" stroke-width="1.4"/>
<text x="280.4" y="759.2" font-size="8.8" text-anchor="middle" fill="#000" stroke="#000" stroke-width="0.28">0</text>
<text x="318.8" y="759.2" font-size="8.8" text-anchor="middle" fill="#000" stroke="#000" stroke-width="0.28">2</text>
<text x="356.3" y="759.2" font-size="8.8" text-anchor="middle" fill="#000" stroke="#000" stroke-width="0.28">4</text>
<text x="394.2" y="759.2" font-size="8.8" text-anchor="middle" fill="#000" stroke="#000" stroke-width="0.28">6</text>
<text x="340.3" y="777.9" font-size="8.8" text-anchor="middle" fill="#000" stroke="#000" stroke-width="0.28">Time / h</text>
<text x="243.6" y="696.5" font-size="8.8" text-anchor="middle" transform="rotate(-90 243.6 696.5)" fill="#000" stroke="#000" stroke-width="0.28">Mitophagosome count/cell</text>
<path d="M326.7,645.2 L326.7,739.7" stroke="#000" stroke-width="1.9" stroke-dasharray="14.7 6.1" stroke-dashoffset="9.1"/>
<path d="M380.0,644.9 L380.0,739.7" stroke="#000" stroke-width="1.9" stroke-dasharray="14.7 6.1" stroke-dashoffset="6.0"/>
<text x="336.9" y="638.8" font-size="8.8" text-anchor="middle" fill="#000" stroke="#000" stroke-width="0.28">CCCP</text>
<text x="383.5" y="638.8" font-size="8.8" text-anchor="middle" fill="#000" stroke="#000" stroke-width="0.28">Baf.</text>
<path d="M380.3,706.3 L393.9,706.3 L393.9,674.0" fill="none" stroke="#858585" stroke-width="1.1"/>
<path d="M338.5,734.9 L338.5,736.9 M335.9,734.9 L341.1,734.9 M335.9,736.9 L341.1,736.9" fill="none" stroke="#37b595" stroke-width="1.2"/>
<path d="M351.3,728.8 L351.3,734.2 M348.7,728.8 L353.90000000000003,728.8 M348.7,734.2 L353.90000000000003,734.2" fill="none" stroke="#37b595" stroke-width="1.2"/>
<path d="M363.8,711.6 L363.8,727.0 M361.2,711.6 L366.40000000000003,711.6 M361.2,727.0 L366.40000000000003,727.0" fill="none" stroke="#37b595" stroke-width="1.2"/>
<path d="M376.8,696.5 L376.8,720.5 M374.2,696.5 L379.40000000000003,696.5 M374.2,720.5 L379.40000000000003,720.5" fill="none" stroke="#37b595" stroke-width="1.2"/>
<path d="M389.4,662.2 L389.4,698.2 M386.79999999999995,662.2 L392.0,662.2 M386.79999999999995,698.2 L392.0,698.2" fill="none" stroke="#37b595" stroke-width="1.2"/>
<path d="M402.4,650.8 L402.4,679.4 M399.79999999999995,650.8 L405.0,650.8 M399.79999999999995,679.4 L405.0,679.4" fill="none" stroke="#37b595" stroke-width="1.2"/>
<path d="M415.2,641.1 L415.2,674.7 M412.59999999999997,641.1 L417.8,641.1 M412.59999999999997,674.7 L417.8,674.7" fill="none" stroke="#37b595" stroke-width="1.2"/>
<polyline points="274.5,737.3 287.4,737.3 300.0,737.6 325.6,737.3 338.5,735.9 351.3,731.5 363.8,719.3 376.8,708.5 389.4,680.2 402.4,665.1 415.2,657.9" fill="none" stroke="#12a07b" stroke-width="1.9" stroke-linejoin="round"/>
<g fill="#12a07b"><circle cx="274.5" cy="737.3" r="2.4"/><circle cx="287.4" cy="737.3" r="2.4"/><circle cx="300" cy="737.6" r="2.4"/><circle cx="325.6" cy="737.3" r="2.4"/><circle cx="338.5" cy="735.9" r="2.4"/><circle cx="351.3" cy="731.5" r="2.4"/><circle cx="363.8" cy="719.3" r="2.4"/><circle cx="376.8" cy="708.5" r="2.4"/><circle cx="389.4" cy="680.2" r="2.4"/><circle cx="402.4" cy="665.1" r="2.4"/><circle cx="415.2" cy="657.9" r="2.4"/></g>
<path d="M381.0,703.8 L394.2,675.0 M396.4,667.4 L402.4,654.6 M405.2,646.6 L409.6,639.4" fill="none" stroke="#848484" stroke-width="1.8"/>
<text x="383.3" y="718.9" font-size="6.4" fill="#000" stroke="#000" stroke-width="0.28" font-style="italic" font-weight="bold" font-family="&quot;Liberation Serif&quot;, serif">dn</text>
<path d="M382.8,720.2 L391.8,720.2" stroke="#000" stroke-width="0.6"/>
<text x="384.2" y="727.8" font-size="6.4" fill="#000" stroke="#000" stroke-width="0.28" font-style="italic" font-weight="bold" font-family="&quot;Liberation Serif&quot;, serif">dt</text>
<text x="393.4" y="723.9" font-size="8.8" fill="#000" stroke="#000" stroke-width="0.28">=61.33</text>
<text x="382.6" y="737.2" font-size="8.8" fill="#000" stroke="#000" stroke-width="0.28">mitophagosomes/h/cel</text>
<text x="469.4" y="606.5" font-size="8.7" font-weight="bold" fill="#000" stroke="#000" stroke-width="0.28">F</text>
<path d="M515,639.8 L515,747.3 L646,747.3" fill="none" stroke="#000" stroke-width="1.5"/>
<path d="M509.8,747.3 L515,747.3" stroke="#000" stroke-width="1.4"/>
<text x="505.6" y="750.4" font-size="8.8" text-anchor="end" fill="#000" stroke="#000" stroke-width="0.28">4</text>
<path d="M509.8,725.9 L515,725.9" stroke="#000" stroke-width="1.4"/>
<text x="505.6" y="729.04" font-size="8.8" text-anchor="end" fill="#000" stroke="#000" stroke-width="0.28">5</text>
<path d="M509.8,704.6 L515,704.6" stroke="#000" stroke-width="1.4"/>
<text x="505.6" y="707.68" font-size="8.8" text-anchor="end" fill="#000" stroke="#000" stroke-width="0.28">6</text>
<path d="M509.8,683.2 L515,683.2" stroke="#000" stroke-width="1.4"/>
<text x="505.6" y="686.3199999999999" font-size="8.8" text-anchor="end" fill="#000" stroke="#000" stroke-width="0.28">7</text>
<path d="M509.8,661.9 L515,661.9" stroke="#000" stroke-width="1.4"/>
<text x="505.6" y="664.9599999999999" font-size="8.8" text-anchor="end" fill="#000" stroke="#000" stroke-width="0.28">8</text>
<path d="M509.8,640.5 L515,640.5" stroke="#000" stroke-width="1.4"/>
<text x="505.6" y="643.6" font-size="8.8" text-anchor="end" fill="#000" stroke="#000" stroke-width="0.28">9</text>
<path d="M540.4,747.3 L540.4,752.9" stroke="#000" stroke-width="1.4"/>
<path d="M579.4,747.3 L579.4,752.9" stroke="#000" stroke-width="1.4"/>
<path d="M618.1,747.3 L618.1,752.9" stroke="#000" stroke-width="1.4"/>
<text x="528.2" y="767.5" font-size="8.8" text-anchor="end" transform="rotate(-30 528.2 767.5)" fill="#000" stroke="#000" stroke-width="0.28">Mitochondria</text>
<text x="565.0" y="768.9" font-size="8.8" text-anchor="end" transform="rotate(-30 565.0 768.9)" fill="#000" stroke="#000" stroke-width="0.28">Mitophagosomes</text>
<text x="611.3" y="764.8" font-size="8.8" text-anchor="end" transform="rotate(-30 611.3 764.8)" fill="#000" stroke="#000" stroke-width="0.28">Mitolysosomes</text>
<text x="481.9" y="688.8" font-size="8.95" text-anchor="middle" transform="rotate(-90 481.9 688.8)" fill="#000" stroke="#000" stroke-width="0.28">pH in mitophagic</text>
<text x="492.3" y="689.0" font-size="8.8" text-anchor="middle" transform="rotate(-90 492.3 689.0)" fill="#000" stroke="#000" stroke-width="0.28">intermediates</text>
<text x="576.5" y="610.3" font-size="8.8" text-anchor="middle" fill="#000" stroke="#000" stroke-width="0.28">P&lt;0.0001</text>
<path d="M533.4,612.8 L611.3,612.8" stroke="#000" stroke-width="1.7"/>
<text x="555.0" y="626.2" font-size="8.8" text-anchor="middle" fill="#000" stroke="#000" stroke-width="0.28">P&lt;0.0001</text>
<path d="M532.5,628.1 L572.4,628.1" stroke="#000" stroke-width="1.7"/>
<text x="596.3" y="636.8" font-size="8.8" text-anchor="middle" fill="#000" stroke="#000" stroke-width="0.28">P&lt;0.0001</text>
<path d="M575,640.3 L616.1,640.3" stroke="#000" stroke-width="1.7"/>
<g fill="#1b78b4"><circle cx="539.0" cy="674.7" r="2.0"/><circle cx="545.0" cy="673.1" r="2.0"/><circle cx="544.4" cy="673.1" r="2.0"/><circle cx="538.3" cy="672.9" r="2.0"/><circle cx="542.1" cy="672.9" r="2.0"/><circle cx="539.2" cy="672.9" r="2.0"/><circle cx="546.3" cy="672.3" r="2.0"/><circle cx="539.8" cy="672.0" r="2.0"/><circle cx="536.7" cy="672.0" r="2.0"/><circle cx="536.1" cy="671.7" r="2.0"/><circle cx="541.4" cy="671.7" r="2.0"/><circle cx="536.1" cy="671.5" r="2.0"/><circle cx="542.0" cy="671.2" r="2.0"/><circle cx="548.5" cy="671.0" r="2.0"/><circle cx="538.3" cy="670.9" r="2.0"/><circle cx="534.4" cy="670.6" r="2.0"/><circle cx="551.2" cy="670.6" r="2.0"/><circle cx="540.6" cy="670.4" r="2.0"/><circle cx="531.0" cy="670.2" r="2.0"/><circle cx="529.5" cy="669.8" r="2.0"/><circle cx="531.0" cy="669.8" r="2.0"/><circle cx="543.5" cy="669.7" r="2.0"/><circle cx="547.5" cy="669.7" r="2.0"/><circle cx="538.5" cy="669.6" r="2.0"/><circle cx="529.7" cy="669.6" r="2.0"/><circle cx="537.5" cy="669.5" r="2.0"/><circle cx="552.7" cy="669.4" r="2.0"/><circle cx="541.1" cy="669.3" r="2.0"/><circle cx="552.1" cy="669.3" r="2.0"/><circle cx="549.4" cy="669.2" r="2.0"/><circle cx="528.2" cy="669.2" r="2.0"/><circle cx="545.9" cy="669.2" r="2.0"/><circle cx="544.9" cy="669.1" r="2.0"/><circle cx="541.3" cy="668.8" r="2.0"/><circle cx="534.6" cy="668.8" r="2.0"/><circle cx="543.9" cy="668.6" r="2.0"/><circle cx="530.7" cy="668.6" r="2.0"/><circle cx="538.8" cy="668.6" r="2.0"/><circle cx="539.3" cy="668.3" r="2.0"/><circle cx="551.5" cy="668.2" r="2.0"/><circle cx="549.6" cy="668.2" r="2.0"/><circle cx="534.6" cy="668.2" r="2.0"/><circle cx="540.4" cy="668.0" r="2.0"/><circle cx="532.7" cy="667.9" r="2.0"/><circle cx="550.2" cy="667.9" r="2.0"/><circle cx="548.9" cy="667.6" r="2.0"/><circle cx="535.8" cy="667.5" r="2.0"/><circle cx="543.6" cy="667.5" r="2.0"/><circle cx="542.9" cy="667.5" r="2.0"/><circle cx="532.6" cy="667.4" r="2.0"/><circle cx="546.2" cy="667.3" r="2.0"/><circle cx="541.2" cy="667.1" r="2.0"/><circle cx="546.3" cy="667.1" r="2.0"/><circle cx="541.0" cy="667.1" r="2.0"/><circle cx="529.9" cy="667.1" r="2.0"/><circle cx="536.8" cy="667.0" r="2.0"/><circle cx="530.6" cy="666.9" r="2.0"/><circle cx="548.9" cy="666.8" r="2.0"/><circle cx="547.9" cy="666.7" r="2.0"/><circle cx="546.8" cy="666.6" r="2.0"/><circle cx="536.7" cy="666.6" r="2.0"/><circle cx="532.0" cy="666.6" r="2.0"/><circle cx="547.4" cy="666.5" r="2.0"/><circle cx="548.7" cy="666.5" r="2.0"/><circle cx="533.1" cy="666.3" r="2.0"/><circle cx="540.2" cy="665.7" r="2.0"/><circle cx="534.8" cy="665.3" r="2.0"/><circle cx="543.4" cy="665.0" r="2.0"/><circle cx="543.4" cy="664.9" r="2.0"/><circle cx="538.4" cy="663.4" r="2.0"/><circle cx="540.4" cy="662.9" r="2.0"/><circle cx="538.9" cy="675.1" r="2.0"/><circle cx="541.9" cy="674.7" r="2.0"/><circle cx="529.4" cy="668.7" r="2.0"/><circle cx="551.9" cy="669.1" r="2.0"/></g>
<g fill="#0fa27c"><circle cx="579.4" cy="705.6" r="2.0"/><circle cx="582.0" cy="704.6" r="2.0"/><circle cx="576.4" cy="703.4" r="2.0"/><circle cx="584.1" cy="702.3" r="2.0"/><circle cx="574.9" cy="702.0" r="2.0"/><circle cx="575.7" cy="701.3" r="2.0"/><circle cx="580.5" cy="701.2" r="2.0"/><circle cx="582.1" cy="699.1" r="2.0"/><circle cx="574.9" cy="697.9" r="2.0"/><circle cx="572.3" cy="697.0" r="2.0"/><circle cx="586.8" cy="696.8" r="2.0"/><circle cx="574.2" cy="695.7" r="2.0"/><circle cx="581.5" cy="694.6" r="2.0"/><circle cx="582.1" cy="694.3" r="2.0"/><circle cx="577.6" cy="694.2" r="2.0"/><circle cx="581.3" cy="694.1" r="2.0"/><circle cx="579.9" cy="693.4" r="2.0"/><circle cx="589.8" cy="693.4" r="2.0"/><circle cx="572.2" cy="693.1" r="2.0"/><circle cx="584.7" cy="692.8" r="2.0"/><circle cx="572.9" cy="692.5" r="2.0"/><circle cx="576.8" cy="692.3" r="2.0"/><circle cx="583.8" cy="691.9" r="2.0"/><circle cx="574.3" cy="691.8" r="2.0"/><circle cx="574.6" cy="691.5" r="2.0"/><circle cx="586.1" cy="690.7" r="2.0"/><circle cx="568.0" cy="690.6" r="2.0"/><circle cx="578.3" cy="690.5" r="2.0"/><circle cx="592.8" cy="690.2" r="2.0"/><circle cx="592.9" cy="689.7" r="2.0"/><circle cx="567.8" cy="689.6" r="2.0"/><circle cx="571.6" cy="689.4" r="2.0"/><circle cx="572.9" cy="688.8" r="2.0"/><circle cx="591.3" cy="688.3" r="2.0"/><circle cx="589.9" cy="688.3" r="2.0"/><circle cx="589.9" cy="688.0" r="2.0"/><circle cx="575.8" cy="687.9" r="2.0"/><circle cx="570.0" cy="687.4" r="2.0"/><circle cx="588.6" cy="687.1" r="2.0"/><circle cx="585.0" cy="686.9" r="2.0"/><circle cx="582.5" cy="686.9" r="2.0"/><circle cx="592.7" cy="686.2" r="2.0"/><circle cx="583.6" cy="686.1" r="2.0"/><circle cx="566.1" cy="685.9" r="2.0"/><circle cx="588.0" cy="685.7" r="2.0"/><circle cx="574.0" cy="685.6" r="2.0"/><circle cx="583.8" cy="685.3" r="2.0"/><circle cx="591.1" cy="685.3" r="2.0"/><circle cx="569.6" cy="685.2" r="2.0"/><circle cx="569.2" cy="685.0" r="2.0"/><circle cx="569.1" cy="684.8" r="2.0"/><circle cx="580.8" cy="684.5" r="2.0"/><circle cx="573.5" cy="684.3" r="2.0"/><circle cx="582.1" cy="683.9" r="2.0"/><circle cx="584.9" cy="683.8" r="2.0"/><circle cx="571.9" cy="683.7" r="2.0"/><circle cx="582.8" cy="683.5" r="2.0"/><circle cx="573.5" cy="683.5" r="2.0"/><circle cx="579.1" cy="683.3" r="2.0"/><circle cx="589.5" cy="683.3" r="2.0"/><circle cx="588.0" cy="683.3" r="2.0"/><circle cx="569.3" cy="683.2" r="2.0"/><circle cx="577.6" cy="682.5" r="2.0"/><circle cx="574.1" cy="682.5" r="2.0"/><circle cx="568.0" cy="681.7" r="2.0"/><circle cx="585.6" cy="681.7" r="2.0"/><circle cx="582.5" cy="681.6" r="2.0"/><circle cx="574.3" cy="680.5" r="2.0"/><circle cx="584.4" cy="680.1" r="2.0"/><circle cx="580.4" cy="678.8" r="2.0"/><circle cx="578.2" cy="677.8" r="2.0"/><circle cx="571.6" cy="677.2" r="2.0"/><circle cx="572.9" cy="676.8" r="2.0"/><circle cx="585.1" cy="676.5" r="2.0"/><circle cx="585.3" cy="676.3" r="2.0"/><circle cx="580.0" cy="674.9" r="2.0"/><circle cx="583.4" cy="674.6" r="2.0"/><circle cx="580.1" cy="672.3" r="2.0"/><circle cx="577.0" cy="670.9" r="2.0"/><circle cx="577.2" cy="670.0" r="2.0"/><circle cx="578.3" cy="669.8" r="2.0"/><circle cx="581.3" cy="668.6" r="2.0"/><circle cx="580.7" cy="668.3" r="2.0"/><circle cx="581.0" cy="668.3" r="2.0"/><circle cx="581.1" cy="668.3" r="2.0"/><circle cx="579.4" cy="719.1" r="2.0"/><circle cx="579.4" cy="726.8" r="2.0"/><circle cx="578.4" cy="667.2" r="2.0"/><circle cx="580.9" cy="670.0" r="2.0"/><circle cx="566.9" cy="685.4" r="2.0"/><circle cx="592.4" cy="687.5" r="2.0"/><circle cx="568.4" cy="696.0" r="2.0"/><circle cx="589.4" cy="698.2" r="2.0"/></g>
<g fill="#cf79ac"><circle cx="616.6" cy="735.6" r="2.0"/><circle cx="617.6" cy="735.6" r="2.0"/><circle cx="618.7" cy="735.6" r="2.0"/><circle cx="619.2" cy="735.6" r="2.0"/><circle cx="617.9" cy="735.6" r="2.0"/><circle cx="617.5" cy="732.9" r="2.0"/><circle cx="614.7" cy="731.6" r="2.0"/><circle cx="617.7" cy="730.6" r="2.0"/><circle cx="623.9" cy="729.9" r="2.0"/><circle cx="623.6" cy="727.2" r="2.0"/><circle cx="611.8" cy="726.9" r="2.0"/><circle cx="610.0" cy="726.5" r="2.0"/><circle cx="618.4" cy="726.0" r="2.0"/><circle cx="620.9" cy="725.6" r="2.0"/><circle cx="614.7" cy="725.6" r="2.0"/><circle cx="624.8" cy="725.4" r="2.0"/><circle cx="623.7" cy="724.7" r="2.0"/><circle cx="622.1" cy="723.9" r="2.0"/><circle cx="611.7" cy="723.9" r="2.0"/><circle cx="611.0" cy="723.5" r="2.0"/><circle cx="606.7" cy="723.2" r="2.0"/><circle cx="611.9" cy="722.8" r="2.0"/><circle cx="617.5" cy="722.8" r="2.0"/><circle cx="626.7" cy="722.7" r="2.0"/><circle cx="607.5" cy="722.5" r="2.0"/><circle cx="616.0" cy="722.5" r="2.0"/><circle cx="621.4" cy="721.8" r="2.0"/><circle cx="610.2" cy="721.4" r="2.0"/><circle cx="623.2" cy="721.4" r="2.0"/><circle cx="618.0" cy="721.2" r="2.0"/><circle cx="611.4" cy="720.8" r="2.0"/><circle cx="622.2" cy="720.4" r="2.0"/><circle cx="604.8" cy="720.0" r="2.0"/><circle cx="624.8" cy="720.0" r="2.0"/><circle cx="625.4" cy="719.9" r="2.0"/><circle cx="607.4" cy="719.2" r="2.0"/><circle cx="616.1" cy="718.9" r="2.0"/><circle cx="609.2" cy="718.8" r="2.0"/><circle cx="630.7" cy="718.1" r="2.0"/><circle cx="618.6" cy="718.1" r="2.0"/><circle cx="605.7" cy="717.9" r="2.0"/><circle cx="611.2" cy="717.8" r="2.0"/><circle cx="627.7" cy="717.7" r="2.0"/><circle cx="616.9" cy="717.5" r="2.0"/><circle cx="626.4" cy="717.5" r="2.0"/><circle cx="622.7" cy="717.1" r="2.0"/><circle cx="631.4" cy="715.8" r="2.0"/><circle cx="620.7" cy="715.6" r="2.0"/><circle cx="630.3" cy="715.3" r="2.0"/><circle cx="628.5" cy="714.4" r="2.0"/><circle cx="621.0" cy="713.1" r="2.0"/><circle cx="623.7" cy="713.1" r="2.0"/><circle cx="618.2" cy="712.9" r="2.0"/><circle cx="626.5" cy="712.8" r="2.0"/><circle cx="619.3" cy="712.6" r="2.0"/><circle cx="627.8" cy="712.1" r="2.0"/><circle cx="623.9" cy="711.4" r="2.0"/><circle cx="617.5" cy="711.2" r="2.0"/><circle cx="612.7" cy="710.3" r="2.0"/><circle cx="612.5" cy="710.1" r="2.0"/><circle cx="621.1" cy="710.1" r="2.0"/><circle cx="623.8" cy="709.5" r="2.0"/><circle cx="618.5" cy="709.4" r="2.0"/><circle cx="620.6" cy="708.5" r="2.0"/><circle cx="614.0" cy="707.3" r="2.0"/><circle cx="610.8" cy="706.7" r="2.0"/><circle cx="614.4" cy="706.7" r="2.0"/><circle cx="614.3" cy="706.5" r="2.0"/><circle cx="615.2" cy="705.9" r="2.0"/><circle cx="618.7" cy="705.3" r="2.0"/><circle cx="612.8" cy="705.1" r="2.0"/><circle cx="614.4" cy="704.5" r="2.0"/><circle cx="620.6" cy="704.0" r="2.0"/><circle cx="620.8" cy="703.9" r="2.0"/><circle cx="613.5" cy="702.2" r="2.0"/><circle cx="617.2" cy="701.7" r="2.0"/><circle cx="618.5" cy="701.4" r="2.0"/><circle cx="617.3" cy="701.3" r="2.0"/><circle cx="615.5" cy="700.9" r="2.0"/><circle cx="617.4" cy="700.6" r="2.0"/><circle cx="621.5" cy="700.5" r="2.0"/><circle cx="618.8" cy="700.1" r="2.0"/><circle cx="619.6" cy="700.0" r="2.0"/><circle cx="620.3" cy="698.3" r="2.0"/><circle cx="619.0" cy="695.2" r="2.0"/><circle cx="618.1" cy="693.5" r="2.0"/><circle cx="616.1" cy="698.2" r="2.0"/><circle cx="621.1" cy="699.2" r="2.0"/><circle cx="614.1" cy="734.5" r="2.0"/><circle cx="621.1" cy="736.2" r="2.0"/><circle cx="624.1" cy="734.5" r="2.0"/><circle cx="604.1" cy="716.3" r="2.0"/><circle cx="632.1" cy="717.4" r="2.0"/><circle cx="607.1" cy="725.9" r="2.0"/><circle cx="629.1" cy="707.8" r="2.0"/></g>
<path d="M527.9,668.9 L552.9,668.9 M540.4,666.8 L540.4,671.0 M534.4,666.8 L546.4,666.8 M534.4,671.0 L546.4,671.0" fill="none" stroke="#000" stroke-width="0.85"/>
<path d="M565.6,687.9 L593.1999999999999,687.9 M579.4,676.4 L579.4,699.5 M573.4,676.4 L585.4,676.4 M573.4,699.5 L585.4,699.5" fill="none" stroke="#000" stroke-width="0.85"/>
<path d="M604.3000000000001,717.2 L631.9,717.2 M618.1,706.5 L618.1,727.9 M612.1,706.5 L624.1,706.5 M612.1,727.9 L624.1,727.9" fill="none" stroke="#000" stroke-width="0.85"/>
</svg>
</body></html>
